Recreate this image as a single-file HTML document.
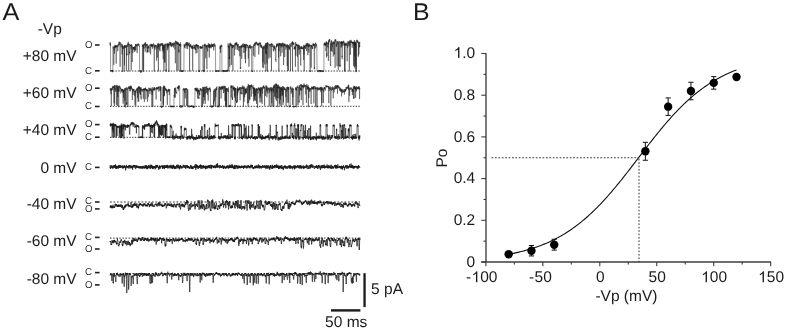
<!DOCTYPE html>
<html><head><meta charset="utf-8"><style>
html,body{margin:0;padding:0;background:#fff;overflow:hidden;}
svg{display:block;will-change:transform;font-family:"Liberation Sans", sans-serif;}
text{-webkit-font-smoothing:antialiased;text-rendering:geometricPrecision;}
</style></head><body>
<svg width="787" height="333" viewBox="0 0 787 333" font-family="Liberation Sans, sans-serif">
<rect width="787" height="333" fill="#fff"/>
<text transform="translate(2.45,19.8) scale(1.045,1)" font-size="24.2" fill="#1a1a1a">A</text>
<text transform="translate(37.70,33.50) scale(1.000,1.000)" font-size="15.5" text-anchor="start" fill="#1a1a1a">-Vp</text>
<text transform="translate(76.60,61.00) scale(1.000,1.000)" font-size="15.5" text-anchor="end" fill="#1a1a1a">+80 mV</text>
<text transform="translate(76.60,98.40) scale(1.000,1.000)" font-size="15.5" text-anchor="end" fill="#1a1a1a">+60 mV</text>
<text transform="translate(76.60,135.00) scale(1.000,1.000)" font-size="15.5" text-anchor="end" fill="#1a1a1a">+40 mV</text>
<text transform="translate(76.60,173.10) scale(1.000,1.000)" font-size="15.5" text-anchor="end" fill="#1a1a1a">0 mV</text>
<text transform="translate(76.60,209.30) scale(1.000,1.000)" font-size="15.5" text-anchor="end" fill="#1a1a1a">-40 mV</text>
<text transform="translate(76.60,246.40) scale(1.000,1.000)" font-size="15.5" text-anchor="end" fill="#1a1a1a">-60 mV</text>
<text transform="translate(76.60,283.70) scale(1.000,1.000)" font-size="15.5" text-anchor="end" fill="#1a1a1a">-80 mV</text>
<text transform="translate(85.0,47.78) scale(0.97,1)" font-size="10" fill="#333">O</text>
<rect x="95" y="44.20" width="4.6" height="1.6" fill="#222"/>
<text transform="translate(85.0,73.58) scale(0.97,1)" font-size="10" fill="#333">C</text>
<rect x="95" y="70.00" width="4.6" height="1.6" fill="#222"/>
<text transform="translate(85.0,90.98) scale(0.97,1)" font-size="10" fill="#333">O</text>
<rect x="95" y="87.40" width="4.6" height="1.6" fill="#222"/>
<text transform="translate(85.0,109.28) scale(0.97,1)" font-size="10" fill="#333">C</text>
<rect x="95" y="105.70" width="4.6" height="1.6" fill="#222"/>
<text transform="translate(85.0,127.38) scale(0.97,1)" font-size="10" fill="#333">O</text>
<rect x="95" y="123.80" width="4.6" height="1.6" fill="#222"/>
<text transform="translate(85.0,139.98) scale(0.97,1)" font-size="10" fill="#333">C</text>
<rect x="95" y="136.40" width="4.6" height="1.6" fill="#222"/>
<text transform="translate(85.0,170.18) scale(0.97,1)" font-size="10" fill="#333">C</text>
<rect x="95" y="166.60" width="4.6" height="1.6" fill="#222"/>
<text transform="translate(85.0,203.78) scale(0.97,1)" font-size="10" fill="#333">C</text>
<rect x="95" y="201.20" width="4.6" height="1.6" fill="#222"/>
<text transform="translate(85.0,211.68) scale(0.97,1)" font-size="10" fill="#333">O</text>
<rect x="95" y="208.10" width="4.6" height="1.6" fill="#222"/>
<text transform="translate(85.0,240.18) scale(0.97,1)" font-size="10" fill="#333">C</text>
<rect x="95" y="236.60" width="4.6" height="1.6" fill="#222"/>
<text transform="translate(85.0,251.78) scale(0.97,1)" font-size="10" fill="#333">O</text>
<rect x="95" y="248.20" width="4.6" height="1.6" fill="#222"/>
<text transform="translate(85.0,275.38) scale(0.97,1)" font-size="10" fill="#333">C</text>
<rect x="95" y="271.80" width="4.6" height="1.6" fill="#222"/>
<text transform="translate(85.0,287.68) scale(0.97,1)" font-size="10" fill="#333">O</text>
<rect x="95" y="284.10" width="4.6" height="1.6" fill="#222"/>
<line x1="110" y1="71.0" x2="360" y2="71.0" stroke="#333" stroke-width="1" stroke-dasharray="1.38,1.38"/>
<line x1="110" y1="106.3" x2="360" y2="106.3" stroke="#333" stroke-width="1" stroke-dasharray="1.38,1.38"/>
<line x1="110" y1="137.3" x2="360" y2="137.3" stroke="#333" stroke-width="1" stroke-dasharray="1.38,1.38"/>
<line x1="110" y1="202.0" x2="360" y2="202.0" stroke="#333" stroke-width="1" stroke-dasharray="1.75,1.75"/>
<line x1="110" y1="238.1" x2="360" y2="238.1" stroke="#333" stroke-width="1" stroke-dasharray="1.55,1.55"/>
<line x1="110" y1="273.5" x2="360" y2="273.5" stroke="#333" stroke-width="1" stroke-dasharray="1.60,1.60"/>
<path d="M110.0,42.9L110.1,44.4L110.2,42.2L110.3,46.2L110.4,45.4L110.5,43.8L110.6,70.7L110.7,71.3L110.8,71.0L110.9,71.0L111.0,70.7L111.1,70.2L111.2,70.5L111.3,70.3L111.4,70.2L111.5,71.2L111.6,70.7L111.7,70.4L111.8,71.2L111.9,71.4L112.0,70.2L112.1,71.3L112.2,70.3L112.3,72.3L112.4,71.2L112.5,70.0L112.6,71.6L112.7,70.5L112.8,71.2L112.9,47.0L113.0,46.4L113.1,47.1L113.2,47.3L113.3,47.7L113.4,48.6L113.5,46.8L113.6,48.1L113.7,47.8L113.8,64.9L113.9,48.9L114.0,49.0L114.1,49.8L114.2,46.0L114.3,46.0L114.4,46.2L114.5,53.6L114.6,46.7L114.7,45.4L114.8,44.8L114.9,46.4L115.0,47.7L115.1,47.2L115.2,46.8L115.3,46.3L115.4,46.8L115.5,47.4L115.6,45.3L115.7,47.3L115.8,45.5L115.9,48.2L116.0,46.3L116.1,45.7L116.2,63.6L116.3,46.1L116.4,47.0L116.5,46.9L116.6,45.5L116.7,45.9L116.8,46.2L116.9,46.4L117.0,47.2L117.1,45.1L117.2,45.5L117.3,46.4L117.4,46.3L117.5,45.5L117.6,50.7L117.7,51.2L117.8,50.4L117.9,50.5L118.0,44.7L118.1,44.3L118.2,44.6L118.3,43.9L118.4,44.5L118.5,44.3L118.6,46.5L118.7,45.8L118.8,44.9L118.9,45.1L119.0,41.9L119.1,43.9L119.2,45.0L119.3,41.7L119.4,42.5L119.5,42.6L119.6,42.6L119.7,43.5L119.8,44.3L119.9,42.4L120.0,42.6L120.1,66.8L120.2,44.5L120.3,44.7L120.4,44.5L120.5,43.6L120.6,43.7L120.7,42.6L120.8,42.9L120.9,43.0L121.0,47.2L121.1,47.1L121.2,47.1L121.3,46.9L121.4,47.0L121.5,47.1L121.6,43.9L121.7,44.3L121.8,44.8L121.9,45.0L122.0,45.9L122.1,54.4L122.2,52.2L122.3,44.5L122.4,72.0L122.5,45.8L122.6,45.3L122.7,45.2L122.8,46.0L122.9,46.2L123.0,48.8L123.1,47.2L123.2,49.1L123.3,46.9L123.4,47.3L123.5,47.0L123.6,46.3L123.7,46.9L123.8,47.3L123.9,46.7L124.0,46.9L124.1,71.5L124.2,47.1L124.3,46.3L124.4,45.4L124.5,65.3L124.6,45.7L124.7,47.5L124.8,46.1L124.9,46.5L125.0,45.5L125.1,47.1L125.2,45.7L125.3,47.3L125.4,45.1L125.5,45.3L125.6,47.1L125.7,47.9L125.8,45.5L125.9,45.4L126.0,46.7L126.1,46.1L126.2,47.4L126.3,47.8L126.4,70.7L126.5,45.3L126.6,45.8L126.7,46.1L126.8,55.5L126.9,53.6L127.0,54.8L127.1,45.2L127.2,45.6L127.3,44.7L127.4,45.1L127.5,43.6L127.6,44.7L127.7,47.1L127.8,45.0L127.9,44.6L128.0,44.7L128.1,43.9L128.2,41.7L128.3,41.8L128.4,43.6L128.5,44.4L128.6,43.6L128.7,71.5L128.8,43.6L128.9,45.1L129.0,45.1L129.1,43.9L129.2,44.8L129.3,53.2L129.4,54.5L129.5,51.6L129.6,52.0L129.7,52.9L129.8,49.8L129.9,44.7L130.0,44.9L130.1,44.6L130.2,45.7L130.3,45.3L130.4,45.5L130.5,46.2L130.6,45.0L130.7,45.6L130.8,46.0L130.9,44.8L131.0,49.3L131.1,45.5L131.2,70.4L131.3,46.4L131.4,44.3L131.5,44.1L131.6,45.8L131.7,45.8L131.8,46.9L131.9,45.3L132.0,47.8L132.1,62.0L132.2,61.7L132.3,62.0L132.4,48.6L132.5,46.8L132.6,48.1L132.7,48.3L132.8,52.8L132.9,52.9L133.0,47.5L133.1,47.5L133.2,46.9L133.3,49.0L133.4,47.6L133.5,48.1L133.6,47.3L133.7,47.0L133.8,49.9L133.9,47.2L134.0,48.6L134.1,47.6L134.2,49.8L134.3,48.9L134.4,47.5L134.5,48.3L134.6,46.4L134.7,52.0L134.8,48.9L134.9,46.5L135.0,50.6L135.1,49.3L135.2,49.9L135.3,46.6L135.4,46.2L135.5,45.2L135.6,44.2L135.7,44.9L135.8,50.3L135.9,44.0L136.0,46.0L136.1,46.4L136.2,44.9L136.3,45.4L136.4,46.1L136.5,45.7L136.6,45.5L136.7,45.1L136.8,46.1L136.9,43.9L137.0,51.8L137.1,53.1L137.2,51.6L137.3,51.2L137.4,45.4L137.5,45.0L137.6,44.2L137.7,45.2L137.8,44.2L137.9,43.9L138.0,44.0L138.1,43.4L138.2,44.7L138.3,44.6L138.4,45.6L138.5,43.9L138.6,45.5L138.7,44.8L138.8,45.0L138.9,44.5L139.0,44.9L139.1,44.6L139.2,45.0L139.3,46.7L139.4,46.5L139.5,45.9L139.6,71.3L139.7,70.8L139.8,71.3L139.9,71.6L140.0,70.8L140.1,71.3L140.2,70.4L140.3,71.1L140.4,71.5L140.5,71.5L140.6,72.8L140.7,70.8L140.8,71.1L140.9,71.1L141.0,70.7L141.1,71.0L141.2,70.4L141.3,70.9L141.4,72.5L141.5,70.7L141.6,71.5L141.7,71.7L141.8,71.8L141.9,71.4L142.0,71.2L142.1,71.5L142.2,71.5L142.3,70.3L142.4,44.5L142.5,45.7L142.6,46.6L142.7,44.8L142.8,46.9L142.9,47.7L143.0,70.2L143.1,45.9L143.2,45.8L143.3,47.0L143.4,45.0L143.5,44.6L143.6,71.8L143.7,44.4L143.8,44.5L143.9,45.7L144.0,48.5L144.1,44.2L144.2,45.0L144.3,45.4L144.4,43.6L144.5,43.6L144.6,44.1L144.7,45.1L144.8,43.4L144.9,43.5L145.0,44.0L145.1,44.6L145.2,51.7L145.3,42.0L145.4,44.0L145.5,43.5L145.6,45.7L145.7,45.3L145.8,48.1L145.9,46.9L146.0,43.6L146.1,44.7L146.2,45.3L146.3,45.5L146.4,44.4L146.5,45.3L146.6,45.4L146.7,45.8L146.8,44.1L146.9,44.1L147.0,52.8L147.1,52.8L147.2,45.3L147.3,44.0L147.4,52.1L147.5,51.1L147.6,50.4L147.7,50.0L147.8,51.7L147.9,46.5L148.0,46.9L148.1,47.9L148.2,49.0L148.3,45.5L148.4,46.9L148.5,48.2L148.6,46.9L148.7,47.8L148.8,46.5L148.9,47.1L149.0,47.2L149.1,52.5L149.2,48.7L149.3,48.6L149.4,46.8L149.5,45.8L149.6,46.1L149.7,45.6L149.8,45.5L149.9,44.7L150.0,45.5L150.1,45.6L150.2,45.4L150.3,44.7L150.4,44.8L150.5,54.4L150.6,54.2L150.7,54.1L150.8,45.3L150.9,44.6L151.0,45.6L151.1,43.9L151.2,46.6L151.3,43.9L151.4,45.2L151.5,46.7L151.6,45.9L151.7,45.8L151.8,44.6L151.9,46.5L152.0,45.4L152.1,46.0L152.2,45.1L152.3,45.6L152.4,48.8L152.5,44.4L152.6,46.6L152.7,44.6L152.8,45.5L152.9,45.0L153.0,44.7L153.1,44.9L153.2,45.3L153.3,45.6L153.4,43.4L153.5,45.2L153.6,45.4L153.7,46.4L153.8,46.2L153.9,47.4L154.0,46.7L154.1,47.0L154.2,71.3L154.3,71.6L154.4,44.5L154.5,46.6L154.6,46.8L154.7,46.4L154.8,46.0L154.9,47.7L155.0,45.5L155.1,49.5L155.2,46.9L155.3,45.1L155.4,44.9L155.5,45.6L155.6,46.3L155.7,45.4L155.8,45.1L155.9,45.7L156.0,45.4L156.1,44.9L156.2,46.0L156.3,46.6L156.4,45.6L156.5,47.0L156.6,59.6L156.7,60.7L156.8,46.3L156.9,46.6L157.0,45.9L157.1,48.5L157.2,56.0L157.3,57.6L157.4,45.5L157.5,43.9L157.6,44.9L157.7,47.4L157.8,48.5L157.9,47.8L158.0,47.9L158.1,42.9L158.2,44.7L158.3,44.7L158.4,71.4L158.5,44.2L158.6,47.1L158.7,45.1L158.8,46.0L158.9,43.3L159.0,44.3L159.1,45.4L159.2,45.3L159.3,49.8L159.4,46.5L159.5,45.3L159.6,44.7L159.7,44.0L159.8,44.8L159.9,45.3L160.0,51.4L160.1,44.3L160.2,44.1L160.3,44.5L160.4,46.3L160.5,44.4L160.6,45.5L160.7,43.8L160.8,43.6L160.9,43.2L161.0,44.0L161.1,43.7L161.2,44.8L161.3,45.1L161.4,44.7L161.5,44.8L161.6,43.7L161.7,44.7L161.8,44.8L161.9,45.6L162.0,44.4L162.1,43.0L162.2,45.6L162.3,44.8L162.4,51.1L162.5,43.5L162.6,45.2L162.7,44.2L162.8,44.8L162.9,43.8L163.0,49.3L163.1,45.1L163.2,59.3L163.3,45.6L163.4,45.8L163.5,44.8L163.6,45.6L163.7,52.5L163.8,45.3L163.9,71.1L164.0,70.6L164.1,46.3L164.2,48.1L164.3,45.0L164.4,62.4L164.5,61.9L164.6,61.5L164.7,45.4L164.8,43.8L164.9,61.2L165.0,62.1L165.1,62.6L165.2,62.0L165.3,61.7L165.4,43.7L165.5,44.8L165.6,45.3L165.7,44.0L165.8,70.7L165.9,71.0L166.0,71.1L166.1,70.7L166.2,69.5L166.3,70.7L166.4,71.6L166.5,71.8L166.6,45.6L166.7,44.1L166.8,43.8L166.9,45.6L167.0,46.4L167.1,46.1L167.2,42.9L167.3,50.4L167.4,47.8L167.5,48.1L167.6,47.0L167.7,44.0L167.8,47.2L167.9,44.9L168.0,43.6L168.1,48.6L168.2,46.2L168.3,43.4L168.4,44.6L168.5,45.6L168.6,45.2L168.7,45.3L168.8,43.7L168.9,71.9L169.0,44.1L169.1,45.8L169.2,43.9L169.3,43.6L169.4,42.2L169.5,41.9L169.6,43.2L169.7,44.5L169.8,44.6L169.9,44.5L170.0,43.5L170.1,44.6L170.2,44.7L170.3,42.1L170.4,45.6L170.5,44.3L170.6,43.3L170.7,45.5L170.8,42.8L170.9,41.9L171.0,45.6L171.1,47.1L171.2,46.8L171.3,47.1L171.4,46.4L171.5,45.3L171.6,45.6L171.7,44.9L171.8,44.1L171.9,46.1L172.0,43.0L172.1,46.5L172.2,44.0L172.3,45.4L172.4,42.9L172.5,44.0L172.6,44.2L172.7,44.3L172.8,44.6L172.9,44.1L173.0,44.0L173.1,43.7L173.2,43.4L173.3,45.1L173.4,44.2L173.5,47.5L173.6,44.1L173.7,44.5L173.8,43.1L173.9,42.5L174.0,42.6L174.1,45.6L174.2,42.8L174.3,43.5L174.4,43.8L174.5,42.6L174.6,43.3L174.7,43.3L174.8,43.8L174.9,49.4L175.0,44.4L175.1,43.6L175.2,45.0L175.3,63.3L175.4,62.0L175.5,40.8L175.6,41.6L175.7,40.9L175.8,43.6L175.9,42.3L176.0,41.9L176.1,41.5L176.2,42.2L176.3,44.0L176.4,42.7L176.5,44.2L176.6,42.5L176.7,42.9L176.8,70.5L176.9,42.7L177.0,41.4L177.1,43.5L177.2,43.1L177.3,42.2L177.4,44.7L177.5,43.2L177.6,44.4L177.7,43.0L177.8,43.4L177.9,42.5L178.0,70.0L178.1,70.9L178.2,42.4L178.3,43.0L178.4,44.3L178.5,43.5L178.6,51.3L178.7,51.6L178.8,51.0L178.9,50.0L179.0,52.6L179.1,44.8L179.2,44.7L179.3,44.0L179.4,45.3L179.5,43.9L179.6,45.7L179.7,44.4L179.8,45.6L179.9,43.9L180.0,43.9L180.1,71.8L180.2,44.3L180.3,42.3L180.4,45.4L180.5,44.7L180.6,46.9L180.7,44.6L180.8,44.1L180.9,71.6L181.0,70.7L181.1,70.2L181.2,71.2L181.3,71.6L181.4,70.6L181.5,70.4L181.6,70.7L181.7,70.9L181.8,71.8L181.9,70.5L182.0,71.2L182.1,71.2L182.2,70.8L182.3,71.9L182.4,71.3L182.5,70.7L182.6,70.9L182.7,71.0L182.8,71.8L182.9,70.8L183.0,71.4L183.1,71.2L183.2,70.5L183.3,71.2L183.4,70.5L183.5,70.8L183.6,70.9L183.7,71.3L183.8,70.9L183.9,70.8L184.0,49.5L184.1,44.3L184.2,45.4L184.3,44.5L184.4,47.1L184.5,45.9L184.6,45.0L184.7,48.0L184.8,46.5L184.9,45.3L185.0,44.8L185.1,45.7L185.2,45.1L185.3,44.6L185.4,43.1L185.5,44.3L185.6,45.0L185.7,45.5L185.8,44.8L185.9,44.4L186.0,44.6L186.1,48.7L186.2,45.7L186.3,42.1L186.4,42.4L186.5,45.2L186.6,42.8L186.7,42.0L186.8,43.4L186.9,44.3L187.0,43.4L187.1,43.2L187.2,46.2L187.3,42.9L187.4,42.3L187.5,45.5L187.6,48.3L187.7,49.1L187.8,45.2L187.9,42.5L188.0,43.1L188.1,44.8L188.2,44.1L188.3,44.7L188.4,44.5L188.5,46.2L188.6,43.7L188.7,43.3L188.8,44.9L188.9,45.1L189.0,44.3L189.1,44.2L189.2,42.6L189.3,43.2L189.4,44.1L189.5,44.6L189.6,71.5L189.7,44.9L189.8,45.0L189.9,47.1L190.0,45.2L190.1,46.8L190.2,44.7L190.3,45.7L190.4,44.8L190.5,44.8L190.6,45.3L190.7,46.3L190.8,45.4L190.9,44.3L191.0,46.5L191.1,47.5L191.2,46.2L191.3,45.8L191.4,45.8L191.5,48.5L191.6,48.1L191.7,47.3L191.8,46.2L191.9,47.8L192.0,46.5L192.1,48.7L192.2,47.7L192.3,48.2L192.4,47.5L192.5,45.3L192.6,47.6L192.7,70.7L192.8,47.6L192.9,49.1L193.0,49.1L193.1,46.7L193.2,46.6L193.3,47.9L193.4,47.8L193.5,47.5L193.6,47.9L193.7,48.2L193.8,48.4L193.9,44.6L194.0,45.5L194.1,46.2L194.2,45.5L194.3,47.3L194.4,48.3L194.5,45.7L194.6,47.3L194.7,47.3L194.8,48.4L194.9,46.8L195.0,47.2L195.1,49.8L195.2,48.7L195.3,47.9L195.4,49.6L195.5,44.9L195.6,44.9L195.7,47.4L195.8,52.6L195.9,53.6L196.0,51.8L196.1,43.9L196.2,46.2L196.3,45.1L196.4,44.5L196.5,46.1L196.6,45.3L196.7,45.5L196.8,46.4L196.9,44.5L197.0,52.8L197.1,44.9L197.2,46.0L197.3,46.5L197.4,47.5L197.5,46.7L197.6,44.9L197.7,44.8L197.8,46.7L197.9,45.1L198.0,45.3L198.1,45.7L198.2,48.9L198.3,45.1L198.4,46.4L198.5,47.0L198.6,47.4L198.7,71.6L198.8,70.5L198.9,70.3L199.0,71.1L199.1,70.8L199.2,71.5L199.3,70.7L199.4,71.7L199.5,71.9L199.6,70.4L199.7,70.5L199.8,71.1L199.9,46.4L200.0,47.7L200.1,46.2L200.2,48.0L200.3,47.9L200.4,48.5L200.5,46.3L200.6,48.3L200.7,46.9L200.8,46.8L200.9,48.1L201.0,46.6L201.1,48.6L201.2,48.0L201.3,48.3L201.4,47.6L201.5,48.0L201.6,47.1L201.7,46.8L201.8,46.8L201.9,48.3L202.0,47.0L202.1,48.6L202.2,48.0L202.3,46.2L202.4,47.0L202.5,47.5L202.6,45.4L202.7,44.8L202.8,47.2L202.9,70.9L203.0,70.2L203.1,71.0L203.2,70.6L203.3,70.8L203.4,70.7L203.5,71.9L203.6,72.0L203.7,70.4L203.8,72.1L203.9,71.5L204.0,46.6L204.1,44.6L204.2,69.8L204.3,71.2L204.4,44.9L204.5,45.2L204.6,45.8L204.7,43.7L204.8,46.5L204.9,45.7L205.0,45.1L205.1,45.4L205.2,44.1L205.3,45.7L205.4,45.6L205.5,44.9L205.6,45.8L205.7,58.0L205.8,58.4L205.9,45.0L206.0,47.2L206.1,46.3L206.2,46.0L206.3,48.6L206.4,48.7L206.5,47.2L206.6,45.3L206.7,45.9L206.8,45.7L206.9,69.2L207.0,46.2L207.1,45.2L207.2,45.7L207.3,44.9L207.4,45.5L207.5,49.8L207.6,49.4L207.7,51.4L207.8,49.8L207.9,46.7L208.0,46.2L208.1,45.5L208.2,46.7L208.3,43.2L208.4,44.9L208.5,47.5L208.6,45.8L208.7,45.4L208.8,46.6L208.9,44.4L209.0,43.8L209.1,44.6L209.2,56.5L209.3,57.5L209.4,45.7L209.5,45.7L209.6,47.8L209.7,44.0L209.8,47.7L209.9,44.2L210.0,45.4L210.1,47.6L210.2,46.5L210.3,44.9L210.4,46.7L210.5,46.6L210.6,46.5L210.7,45.6L210.8,47.1L210.9,47.0L211.0,47.3L211.1,47.0L211.2,48.4L211.3,47.0L211.4,43.4L211.5,45.6L211.6,46.5L211.7,45.0L211.8,46.9L211.9,44.4L212.0,45.1L212.1,45.4L212.2,45.3L212.3,46.9L212.4,45.3L212.5,45.6L212.6,44.1L212.7,46.3L212.8,45.6L212.9,46.7L213.0,44.2L213.1,45.5L213.2,45.9L213.3,44.9L213.4,44.8L213.5,44.1L213.6,50.2L213.7,50.4L213.8,49.9L213.9,49.8L214.0,45.4L214.1,45.4L214.2,43.1L214.3,46.9L214.4,45.7L214.5,45.7L214.6,44.2L214.7,44.6L214.8,45.0L214.9,45.2L215.0,44.8L215.1,45.9L215.2,46.0L215.3,46.0L215.4,46.1L215.5,45.7L215.6,71.7L215.7,70.7L215.8,70.7L215.9,70.7L216.0,71.5L216.1,71.2L216.2,70.5L216.3,71.0L216.4,70.4L216.5,71.6L216.6,71.1L216.7,71.5L216.8,70.3L216.9,71.0L217.0,71.9L217.1,70.7L217.2,70.9L217.3,70.7L217.4,70.6L217.5,71.1L217.6,70.9L217.7,70.6L217.8,70.6L217.9,71.3L218.0,71.7L218.1,71.2L218.2,71.2L218.3,70.7L218.4,70.8L218.5,70.6L218.6,71.0L218.7,71.0L218.8,71.6L218.9,71.7L219.0,70.8L219.1,71.4L219.2,70.9L219.3,70.4L219.4,70.7L219.5,71.2L219.6,71.1L219.7,71.3L219.8,70.6L219.9,70.9L220.0,46.4L220.1,49.0L220.2,48.8L220.3,45.4L220.4,48.4L220.5,47.1L220.6,52.9L220.7,46.6L220.8,46.7L220.9,45.8L221.0,46.5L221.1,47.2L221.2,44.6L221.3,45.2L221.4,45.3L221.5,45.1L221.6,45.2L221.7,46.6L221.8,45.0L221.9,63.8L222.0,70.5L222.1,71.6L222.2,71.1L222.3,71.1L222.4,71.4L222.5,70.7L222.6,70.7L222.7,70.8L222.8,70.4L222.9,70.9L223.0,70.0L223.1,71.7L223.2,71.9L223.3,71.4L223.4,71.1L223.5,70.0L223.6,72.1L223.7,71.3L223.8,70.6L223.9,70.6L224.0,71.1L224.1,70.6L224.2,71.2L224.3,71.5L224.4,70.4L224.5,70.2L224.6,70.7L224.7,71.5L224.8,71.1L224.9,71.1L225.0,70.9L225.1,71.6L225.2,70.5L225.3,71.7L225.4,70.6L225.5,70.8L225.6,71.2L225.7,71.7L225.8,71.1L225.9,70.3L226.0,71.0L226.1,70.2L226.2,71.4L226.3,71.1L226.4,71.0L226.5,71.3L226.6,70.4L226.7,70.0L226.8,70.8L226.9,70.8L227.0,70.0L227.1,71.1L227.2,71.5L227.3,71.8L227.4,71.3L227.5,71.0L227.6,69.6L227.7,69.8L227.8,71.5L227.9,71.7L228.0,43.4L228.1,43.3L228.2,46.3L228.3,47.2L228.4,46.0L228.5,48.3L228.6,45.5L228.7,70.9L228.8,71.0L228.9,69.6L229.0,45.4L229.1,58.9L229.2,58.0L229.3,58.6L229.4,59.0L229.5,56.7L229.6,58.3L229.7,43.9L229.8,66.7L229.9,66.2L230.0,45.0L230.1,42.7L230.2,44.9L230.3,43.3L230.4,43.9L230.5,44.5L230.6,45.4L230.7,44.1L230.8,46.5L230.9,46.3L231.0,44.4L231.1,45.4L231.2,44.7L231.3,43.7L231.4,65.0L231.5,46.7L231.6,45.7L231.7,45.4L231.8,45.9L231.9,44.7L232.0,45.7L232.1,46.7L232.2,47.8L232.3,46.7L232.4,45.7L232.5,44.9L232.6,48.2L232.7,45.6L232.8,45.9L232.9,70.8L233.0,46.0L233.1,45.9L233.2,46.3L233.3,47.1L233.4,46.8L233.5,45.3L233.6,45.0L233.7,46.2L233.8,47.3L233.9,46.2L234.0,45.7L234.1,46.0L234.2,44.8L234.3,45.8L234.4,55.5L234.5,46.7L234.6,45.2L234.7,44.5L234.8,44.6L234.9,43.6L235.0,44.6L235.1,43.1L235.2,45.0L235.3,45.2L235.4,44.2L235.5,45.3L235.6,45.1L235.7,42.9L235.8,44.3L235.9,49.4L236.0,49.6L236.1,42.3L236.2,44.7L236.3,43.1L236.4,43.8L236.5,44.8L236.6,43.4L236.7,44.2L236.8,44.3L236.9,42.3L237.0,43.0L237.1,44.4L237.2,45.2L237.3,44.2L237.4,46.1L237.5,46.0L237.6,50.0L237.7,44.7L237.8,46.8L237.9,44.5L238.0,46.4L238.1,44.0L238.2,46.5L238.3,46.9L238.4,46.9L238.5,48.1L238.6,47.5L238.7,48.1L238.8,50.4L238.9,49.8L239.0,51.2L239.1,47.2L239.2,47.4L239.3,47.4L239.4,46.2L239.5,47.3L239.6,46.5L239.7,46.2L239.8,56.2L239.9,56.1L240.0,46.4L240.1,48.2L240.2,48.7L240.3,68.8L240.4,67.5L240.5,67.9L240.6,67.7L240.7,68.8L240.8,46.0L240.9,47.7L241.0,47.6L241.1,45.4L241.2,48.2L241.3,47.4L241.4,45.2L241.5,46.4L241.6,47.7L241.7,58.8L241.8,57.8L241.9,45.7L242.0,46.2L242.1,47.0L242.2,47.1L242.3,45.5L242.4,43.8L242.5,44.9L242.6,45.0L242.7,46.0L242.8,47.1L242.9,45.1L243.0,47.4L243.1,46.2L243.2,46.5L243.3,43.4L243.4,45.3L243.5,46.4L243.6,45.2L243.7,52.4L243.8,51.9L243.9,51.4L244.0,51.4L244.1,52.9L244.2,51.4L244.3,44.0L244.4,45.9L244.5,45.1L244.6,44.9L244.7,48.2L244.8,43.7L244.9,46.5L245.0,45.7L245.1,59.0L245.2,57.0L245.3,44.1L245.4,61.6L245.5,60.9L245.6,63.3L245.7,45.2L245.8,51.1L245.9,44.9L246.0,45.4L246.1,44.4L246.2,45.1L246.3,44.6L246.4,45.0L246.5,44.4L246.6,44.7L246.7,45.7L246.8,45.0L246.9,48.2L247.0,44.9L247.1,44.8L247.2,45.4L247.3,45.3L247.4,46.0L247.5,45.6L247.6,45.5L247.7,44.8L247.8,47.4L247.9,46.5L248.0,46.7L248.1,47.8L248.2,48.5L248.3,58.4L248.4,47.7L248.5,48.4L248.6,46.5L248.7,47.9L248.8,47.5L248.9,66.6L249.0,66.7L249.1,47.1L249.2,45.5L249.3,47.7L249.4,47.1L249.5,46.5L249.6,45.1L249.7,46.8L249.8,45.7L249.9,47.8L250.0,46.1L250.1,46.6L250.2,44.6L250.3,47.4L250.4,47.3L250.5,48.6L250.6,48.9L250.7,46.8L250.8,46.3L250.9,47.1L251.0,48.1L251.1,47.0L251.2,47.5L251.3,46.6L251.4,46.4L251.5,46.0L251.6,70.1L251.7,71.3L251.8,71.5L251.9,71.4L252.0,70.9L252.1,70.3L252.2,71.1L252.3,71.5L252.4,71.0L252.5,71.7L252.6,71.0L252.7,71.5L252.8,70.6L252.9,46.4L253.0,46.7L253.1,47.7L253.2,45.8L253.3,55.7L253.4,47.4L253.5,46.1L253.6,45.6L253.7,45.1L253.8,45.1L253.9,45.6L254.0,44.3L254.1,45.9L254.2,44.3L254.3,44.8L254.4,43.6L254.5,43.8L254.6,43.9L254.7,43.2L254.8,43.2L254.9,56.9L255.0,42.6L255.1,44.2L255.2,45.7L255.3,44.2L255.4,43.4L255.5,44.0L255.6,44.0L255.7,43.7L255.8,43.8L255.9,41.7L256.0,44.6L256.1,41.9L256.2,41.8L256.3,41.9L256.4,42.2L256.5,42.6L256.6,43.0L256.7,44.2L256.8,42.2L256.9,43.1L257.0,43.1L257.1,43.1L257.2,43.6L257.3,45.1L257.4,43.3L257.5,44.2L257.6,44.4L257.7,45.7L257.8,44.8L257.9,44.0L258.0,44.9L258.1,45.0L258.2,44.2L258.3,44.5L258.4,45.4L258.5,43.0L258.6,44.1L258.7,45.5L258.8,54.5L258.9,44.3L259.0,44.3L259.1,45.0L259.2,44.6L259.3,42.3L259.4,44.4L259.5,43.3L259.6,43.5L259.7,43.4L259.8,42.7L259.9,44.1L260.0,44.0L260.1,43.1L260.2,47.3L260.3,45.6L260.4,43.1L260.5,43.2L260.6,42.7L260.7,45.7L260.8,45.0L260.9,44.5L261.0,46.3L261.1,45.5L261.2,47.5L261.3,45.3L261.4,46.7L261.5,45.8L261.6,47.2L261.7,45.7L261.8,48.3L261.9,47.2L262.0,47.2L262.1,47.6L262.2,47.7L262.3,47.0L262.4,46.9L262.5,47.2L262.6,67.5L262.7,47.7L262.8,48.3L262.9,61.9L263.0,48.4L263.1,47.3L263.2,48.5L263.3,45.8L263.4,46.8L263.5,47.9L263.6,48.4L263.7,68.2L263.8,47.7L263.9,48.9L264.0,47.6L264.1,46.0L264.2,48.2L264.3,47.6L264.4,46.9L264.5,47.2L264.6,47.0L264.7,64.4L264.8,64.2L264.9,45.5L265.0,46.2L265.1,44.8L265.2,45.5L265.3,46.9L265.4,45.2L265.5,53.7L265.6,43.6L265.7,43.1L265.8,71.3L265.9,70.6L266.0,70.9L266.1,70.4L266.2,44.0L266.3,52.6L266.4,54.5L266.5,45.1L266.6,43.3L266.7,44.0L266.8,62.4L266.9,63.4L267.0,42.7L267.1,48.6L267.2,42.5L267.3,70.6L267.4,70.4L267.5,71.8L267.6,44.1L267.7,42.4L267.8,44.0L267.9,44.8L268.0,43.0L268.1,43.0L268.2,43.0L268.3,43.9L268.4,44.1L268.5,44.0L268.6,56.6L268.7,57.7L268.8,58.7L268.9,57.2L269.0,46.0L269.1,45.5L269.2,45.4L269.3,45.0L269.4,43.9L269.5,45.5L269.6,44.4L269.7,44.4L269.8,45.8L269.9,45.6L270.0,54.7L270.1,57.5L270.2,45.5L270.3,44.8L270.4,44.8L270.5,45.1L270.6,44.2L270.7,45.4L270.8,46.9L270.9,46.4L271.0,45.4L271.1,44.1L271.2,44.6L271.3,43.2L271.4,70.7L271.5,70.9L271.6,45.3L271.7,44.1L271.8,44.6L271.9,43.4L272.0,43.8L272.1,45.3L272.2,45.0L272.3,46.6L272.4,46.7L272.5,46.2L272.6,46.8L272.7,45.9L272.8,44.1L272.9,45.5L273.0,45.7L273.1,47.1L273.2,50.0L273.3,49.8L273.4,49.0L273.5,51.4L273.6,51.4L273.7,46.2L273.8,47.3L273.9,48.0L274.0,46.0L274.1,45.6L274.2,47.8L274.3,45.6L274.4,47.2L274.5,48.7L274.6,47.5L274.7,49.1L274.8,47.3L274.9,48.3L275.0,48.3L275.1,50.7L275.2,49.1L275.3,48.3L275.4,59.6L275.5,60.1L275.6,59.6L275.7,59.3L275.8,59.5L275.9,60.0L276.0,61.8L276.1,46.0L276.2,47.7L276.3,46.0L276.4,46.6L276.5,44.3L276.6,46.5L276.7,46.1L276.8,46.8L276.9,43.4L277.0,45.7L277.1,44.5L277.2,46.4L277.3,44.1L277.4,43.8L277.5,44.6L277.6,44.7L277.7,44.6L277.8,44.7L277.9,43.9L278.0,46.3L278.1,44.5L278.2,43.3L278.3,44.5L278.4,44.3L278.5,46.2L278.6,57.5L278.7,45.1L278.8,70.7L278.9,71.4L279.0,44.0L279.1,51.1L279.2,45.2L279.3,43.0L279.4,45.0L279.5,44.1L279.6,42.9L279.7,45.4L279.8,44.4L279.9,44.9L280.0,43.3L280.1,45.2L280.2,44.6L280.3,43.2L280.4,45.7L280.5,45.2L280.6,44.9L280.7,56.3L280.8,44.3L280.9,45.0L281.0,44.6L281.1,47.7L281.2,46.0L281.3,43.2L281.4,46.2L281.5,45.3L281.6,44.1L281.7,45.9L281.8,44.2L281.9,44.6L282.0,52.8L282.1,52.0L282.2,50.8L282.3,43.2L282.4,44.1L282.5,42.7L282.6,42.7L282.7,45.5L282.8,44.3L282.9,46.5L283.0,46.1L283.1,47.2L283.2,44.5L283.3,42.9L283.4,43.3L283.5,44.4L283.6,65.0L283.7,45.6L283.8,45.9L283.9,44.6L284.0,44.9L284.1,45.7L284.2,43.7L284.3,44.1L284.4,46.0L284.5,44.1L284.6,45.4L284.7,57.1L284.8,43.5L284.9,45.0L285.0,45.6L285.1,46.3L285.2,46.2L285.3,45.2L285.4,44.9L285.5,44.9L285.6,44.2L285.7,44.4L285.8,44.5L285.9,49.7L286.0,45.4L286.1,45.3L286.2,46.6L286.3,44.8L286.4,46.1L286.5,46.5L286.6,46.1L286.7,46.2L286.8,47.3L286.9,47.7L287.0,45.7L287.1,48.4L287.2,66.1L287.3,44.1L287.4,46.1L287.5,45.3L287.6,47.1L287.7,48.3L287.8,70.7L287.9,46.0L288.0,45.2L288.1,46.7L288.2,70.0L288.3,70.3L288.4,70.4L288.5,70.7L288.6,45.9L288.7,47.8L288.8,45.1L288.9,45.6L289.0,46.0L289.1,45.5L289.2,47.7L289.3,49.2L289.4,46.7L289.5,49.8L289.6,44.6L289.7,44.8L289.8,44.0L289.9,43.6L290.0,44.1L290.1,45.0L290.2,45.4L290.3,45.3L290.4,44.8L290.5,70.8L290.6,46.0L290.7,44.2L290.8,43.8L290.9,43.6L291.0,43.3L291.1,43.8L291.2,43.7L291.3,43.7L291.4,46.7L291.5,45.6L291.6,43.3L291.7,42.4L291.8,43.3L291.9,43.8L292.0,44.0L292.1,43.3L292.2,41.7L292.3,41.5L292.4,42.9L292.5,71.0L292.6,41.5L292.7,41.8L292.8,43.7L292.9,42.6L293.0,43.2L293.1,43.6L293.2,44.8L293.3,42.7L293.4,43.4L293.5,43.4L293.6,43.0L293.7,42.8L293.8,44.7L293.9,42.8L294.0,43.5L294.1,47.6L294.2,49.0L294.3,48.0L294.4,49.6L294.5,48.9L294.6,46.9L294.7,48.4L294.8,47.3L294.9,48.1L295.0,47.7L295.1,48.8L295.2,47.0L295.3,45.9L295.4,66.8L295.5,45.2L295.6,42.1L295.7,44.1L295.8,53.3L295.9,55.7L296.0,46.1L296.1,45.2L296.2,45.2L296.3,43.7L296.4,45.3L296.5,44.4L296.6,46.3L296.7,44.4L296.8,45.7L296.9,45.6L297.0,45.7L297.1,45.6L297.2,45.6L297.3,44.9L297.4,46.8L297.5,56.9L297.6,45.4L297.7,45.2L297.8,44.4L297.9,45.7L298.0,45.8L298.1,70.7L298.2,44.5L298.3,45.7L298.4,46.2L298.5,46.7L298.6,49.6L298.7,45.4L298.8,47.5L298.9,47.5L299.0,45.4L299.1,46.0L299.2,45.0L299.3,54.6L299.4,53.6L299.5,53.3L299.6,47.1L299.7,46.3L299.8,49.0L299.9,48.1L300.0,48.8L300.1,46.5L300.2,47.0L300.3,48.3L300.4,48.5L300.5,47.6L300.6,64.0L300.7,64.3L300.8,65.6L300.9,47.6L301.0,47.2L301.1,48.0L301.2,46.4L301.3,47.0L301.4,47.5L301.5,48.8L301.6,46.4L301.7,48.7L301.8,47.5L301.9,49.0L302.0,48.8L302.1,48.8L302.2,48.4L302.3,48.5L302.4,48.3L302.5,49.3L302.6,49.3L302.7,47.9L302.8,46.7L302.9,49.0L303.0,48.0L303.1,47.3L303.2,47.4L303.3,48.2L303.4,47.9L303.5,48.6L303.6,47.5L303.7,60.0L303.8,44.9L303.9,46.3L304.0,54.7L304.1,45.6L304.2,71.1L304.3,46.2L304.4,46.7L304.5,46.1L304.6,45.6L304.7,47.4L304.8,45.7L304.9,47.3L305.0,47.6L305.1,47.2L305.2,46.7L305.3,48.1L305.4,47.3L305.5,48.9L305.6,45.4L305.7,45.4L305.8,46.0L305.9,45.0L306.0,46.1L306.1,43.5L306.2,43.5L306.3,46.6L306.4,44.7L306.5,45.6L306.6,51.1L306.7,43.5L306.8,45.2L306.9,45.1L307.0,44.5L307.1,43.5L307.2,44.6L307.3,45.4L307.4,42.9L307.5,43.5L307.6,43.3L307.7,44.5L307.8,55.2L307.9,43.8L308.0,45.4L308.1,46.8L308.2,44.9L308.3,46.8L308.4,45.0L308.5,44.4L308.6,47.1L308.7,45.9L308.8,52.5L308.9,44.1L309.0,43.3L309.1,45.5L309.2,46.8L309.3,46.8L309.4,45.3L309.5,44.5L309.6,46.0L309.7,45.1L309.8,45.2L309.9,70.5L310.0,71.4L310.1,70.5L310.2,71.5L310.3,71.5L310.4,70.9L310.5,71.7L310.6,71.7L310.7,45.6L310.8,44.8L310.9,45.7L311.0,44.9L311.1,67.3L311.2,67.6L311.3,45.2L311.4,46.2L311.5,47.4L311.6,45.5L311.7,46.1L311.8,46.6L311.9,47.0L312.0,45.6L312.1,47.2L312.2,48.9L312.3,46.7L312.4,47.8L312.5,48.3L312.6,49.1L312.7,47.7L312.8,47.5L312.9,44.2L313.0,43.6L313.1,46.2L313.2,44.0L313.3,44.5L313.4,43.4L313.5,44.7L313.6,45.0L313.7,44.6L313.8,45.8L313.9,44.7L314.0,45.8L314.1,43.8L314.2,68.2L314.3,69.3L314.4,67.2L314.5,67.8L314.6,68.9L314.7,44.1L314.8,44.5L314.9,48.7L315.0,45.8L315.1,45.2L315.2,45.0L315.3,43.4L315.4,43.8L315.5,42.9L315.6,43.1L315.7,42.7L315.8,47.7L315.9,43.5L316.0,44.4L316.1,45.6L316.2,45.7L316.3,45.0L316.4,45.5L316.5,44.4L316.6,44.6L316.7,45.9L316.8,46.9L316.9,47.1L317.0,70.9L317.1,71.0L317.2,71.2L317.3,71.2L317.4,71.3L317.5,71.5L317.6,71.6L317.7,71.3L317.8,70.9L317.9,70.5L318.0,70.2L318.1,71.5L318.2,71.3L318.3,71.0L318.4,70.5L318.5,71.1L318.6,71.7L318.7,71.7L318.8,72.2L318.9,71.5L319.0,71.5L319.1,71.7L319.2,70.2L319.3,71.4L319.4,70.7L319.5,71.2L319.6,70.2L319.7,70.5L319.8,70.5L319.9,70.7L320.0,71.4L320.1,70.5L320.2,71.4L320.3,71.5L320.4,70.4L320.5,71.5L320.6,71.9L320.7,70.7L320.8,71.3L320.9,71.7L321.0,70.7L321.1,70.7L321.2,70.9L321.3,70.9L321.4,70.5L321.5,70.8L321.6,70.5L321.7,71.3L321.8,72.2L321.9,71.5L322.0,70.3L322.1,71.6L322.2,70.5L322.3,71.3L322.4,70.9L322.5,71.7L322.6,71.0L322.7,71.1L322.8,71.0L322.9,70.9L323.0,71.2L323.1,71.9L323.2,71.8L323.3,71.4L323.4,71.1L323.5,71.0L323.6,71.7L323.7,70.6L323.8,70.5L323.9,70.7L324.0,43.6L324.1,43.6L324.2,45.5L324.3,43.3L324.4,44.3L324.5,44.9L324.6,45.1L324.7,44.1L324.8,42.4L324.9,43.9L325.0,44.5L325.1,44.7L325.2,42.7L325.3,45.4L325.4,43.6L325.5,43.7L325.6,46.0L325.7,45.7L325.8,43.5L325.9,51.2L326.0,49.3L326.1,42.8L326.2,42.7L326.3,41.6L326.4,44.8L326.5,41.7L326.6,57.5L326.7,53.8L326.8,52.7L326.9,54.8L327.0,56.0L327.1,42.1L327.2,44.1L327.3,44.0L327.4,43.2L327.5,44.0L327.6,46.9L327.7,47.0L327.8,46.8L327.9,46.4L328.0,47.3L328.1,47.6L328.2,42.4L328.3,41.9L328.4,60.9L328.5,42.2L328.6,44.5L328.7,40.2L328.8,42.5L328.9,42.1L329.0,40.4L329.1,41.9L329.2,41.6L329.3,39.1L329.4,40.0L329.5,41.3L329.6,41.5L329.7,41.8L329.8,39.1L329.9,40.4L330.0,41.9L330.1,42.1L330.2,42.5L330.3,64.2L330.4,65.7L330.5,64.6L330.6,65.1L330.7,65.6L330.8,42.4L330.9,51.1L331.0,49.3L331.1,44.1L331.2,50.6L331.3,43.5L331.4,42.4L331.5,40.2L331.6,44.0L331.7,43.9L331.8,45.0L331.9,41.7L332.0,41.3L332.1,51.5L332.2,51.0L332.3,51.5L332.4,45.2L332.5,46.6L332.6,43.9L332.7,44.4L332.8,42.1L332.9,43.1L333.0,43.9L333.1,42.8L333.2,44.6L333.3,56.5L333.4,45.0L333.5,41.6L333.6,44.0L333.7,42.9L333.8,42.6L333.9,44.1L334.0,43.4L334.1,42.1L334.2,41.5L334.3,53.8L334.4,52.7L334.5,54.5L334.6,42.0L334.7,41.6L334.8,41.1L334.9,39.8L335.0,40.2L335.1,67.8L335.2,40.2L335.3,39.1L335.4,40.8L335.5,41.5L335.6,40.5L335.7,40.3L335.8,39.6L335.9,41.0L336.0,41.4L336.1,41.7L336.2,46.6L336.3,46.3L336.4,43.8L336.5,46.0L336.6,46.5L336.7,46.6L336.8,42.2L336.9,40.9L337.0,65.4L337.1,66.1L337.2,43.4L337.3,43.3L337.4,42.9L337.5,41.7L337.6,43.5L337.7,43.6L337.8,43.2L337.9,43.6L338.0,42.6L338.1,42.0L338.2,40.9L338.3,70.2L338.4,43.3L338.5,42.0L338.6,42.8L338.7,63.4L338.8,66.0L338.9,66.1L339.0,64.1L339.1,64.1L339.2,63.7L339.3,43.5L339.4,41.1L339.5,41.4L339.6,41.7L339.7,66.0L339.8,65.1L339.9,66.9L340.0,66.8L340.1,66.1L340.2,65.4L340.3,66.2L340.4,66.3L340.5,44.1L340.6,41.7L340.7,43.4L340.8,42.8L340.9,43.2L341.0,42.3L341.1,42.0L341.2,47.7L341.3,41.2L341.4,46.3L341.5,41.7L341.6,43.8L341.7,42.4L341.8,42.4L341.9,41.5L342.0,57.0L342.1,55.8L342.2,59.3L342.3,58.7L342.4,41.7L342.5,43.6L342.6,41.9L342.7,42.5L342.8,46.2L342.9,43.5L343.0,43.4L343.1,42.7L343.2,41.0L343.3,40.9L343.4,43.0L343.5,42.6L343.6,42.9L343.7,40.8L343.8,41.1L343.9,42.7L344.0,44.7L344.1,42.1L344.2,43.7L344.3,45.2L344.4,43.2L344.5,70.5L344.6,71.4L344.7,44.6L344.8,43.7L344.9,43.5L345.0,71.5L345.1,44.6L345.2,46.1L345.3,43.4L345.4,43.4L345.5,45.2L345.6,44.0L345.7,43.7L345.8,44.4L345.9,44.3L346.0,43.5L346.1,43.4L346.2,42.7L346.3,45.5L346.4,43.5L346.5,44.7L346.6,44.0L346.7,43.9L346.8,44.1L346.9,45.8L347.0,44.9L347.1,60.4L347.2,61.3L347.3,45.8L347.4,44.3L347.5,43.9L347.6,48.0L347.7,42.8L347.8,43.8L347.9,41.3L348.0,43.4L348.1,43.2L348.2,42.8L348.3,43.6L348.4,41.9L348.5,42.8L348.6,42.8L348.7,42.7L348.8,46.3L348.9,42.9L349.0,41.0L349.1,40.9L349.2,41.2L349.3,71.3L349.4,40.5L349.5,42.2L349.6,41.8L349.7,45.0L349.8,44.5L349.9,44.9L350.0,45.4L350.1,42.8L350.2,43.1L350.3,53.9L350.4,54.8L350.5,42.3L350.6,39.8L350.7,41.0L350.8,42.8L350.9,41.3L351.0,42.8L351.1,43.0L351.2,43.0L351.3,40.4L351.4,41.7L351.5,43.0L351.6,41.4L351.7,42.2L351.8,42.0L351.9,43.0L352.0,43.7L352.1,45.4L352.2,47.8L352.3,42.4L352.4,42.8L352.5,42.2L352.6,44.0L352.7,43.3L352.8,42.6L352.9,41.8L353.0,43.2L353.1,41.8L353.2,44.0L353.3,41.8L353.4,44.7L353.5,43.8L353.6,65.9L353.7,45.2L353.8,44.8L353.9,42.3L354.0,42.2L354.1,46.1L354.2,42.6L354.3,67.0L354.4,40.0L354.5,42.7L354.6,43.5L354.7,56.4L354.8,41.8L354.9,68.4L355.0,44.7L355.1,42.2L355.2,43.6L355.3,43.8L355.4,42.8L355.5,47.5L355.6,43.1L355.7,66.1L355.8,43.1L355.9,41.4L356.0,72.1L356.1,43.0L356.2,72.0L356.3,70.5L356.4,41.7L356.5,41.0L356.6,40.7L356.7,39.7L356.8,40.4L356.9,41.4L357.0,41.7L357.1,42.4L357.2,39.9L357.3,41.2L357.4,40.6L357.5,42.8L357.6,41.5L357.7,41.2L357.8,40.9L357.9,42.5L358.0,42.6L358.1,41.6L358.2,42.6L358.3,56.7L358.4,53.9L358.5,55.1L358.6,54.3L358.7,42.8L358.8,54.0L358.9,43.7L359.0,42.2L359.1,44.2L359.2,42.7L359.3,41.9L359.4,46.0L359.5,47.3L359.6,45.3L359.7,46.8L359.8,41.9L359.9,42.6" fill="none" stroke="#1a1a1a" stroke-width="0.45" stroke-linejoin="round"/>
<path d="M110.0,88.4L110.1,88.8L110.2,89.7L110.3,89.1L110.4,89.3L110.5,89.3L110.6,88.8L110.7,88.6L110.8,91.0L110.9,88.2L111.0,94.4L111.1,88.8L111.2,89.6L111.3,106.0L111.4,88.9L111.5,89.9L111.6,88.0L111.7,87.9L111.8,88.2L111.9,87.9L112.0,88.4L112.1,88.8L112.2,89.6L112.3,89.8L112.4,89.2L112.5,86.8L112.6,88.3L112.7,88.1L112.8,87.3L112.9,90.3L113.0,86.0L113.1,87.6L113.2,86.1L113.3,87.5L113.4,87.7L113.5,87.1L113.6,87.5L113.7,87.2L113.8,87.4L113.9,103.4L114.0,103.3L114.1,103.3L114.2,86.2L114.3,85.0L114.4,106.0L114.5,86.4L114.6,88.2L114.7,86.5L114.8,86.3L114.9,84.9L115.0,86.7L115.1,86.6L115.2,85.9L115.3,86.1L115.4,90.2L115.5,88.7L115.6,88.3L115.7,92.0L115.8,90.1L115.9,90.2L116.0,85.4L116.1,86.9L116.2,87.9L116.3,102.9L116.4,104.8L116.5,87.8L116.6,85.0L116.7,87.3L116.8,87.1L116.9,87.3L117.0,86.2L117.1,87.7L117.2,90.7L117.3,85.3L117.4,106.0L117.5,86.6L117.6,89.1L117.7,96.0L117.8,97.0L117.9,96.3L118.0,89.0L118.1,87.5L118.2,91.0L118.3,92.1L118.4,88.1L118.5,86.3L118.6,87.0L118.7,107.3L118.8,85.9L118.9,87.5L119.0,88.0L119.1,88.8L119.2,91.6L119.3,85.5L119.4,86.4L119.5,86.2L119.6,86.6L119.7,86.7L119.8,87.7L119.9,87.9L120.0,86.5L120.1,88.4L120.2,87.5L120.3,87.6L120.4,89.0L120.5,88.6L120.6,88.9L120.7,89.4L120.8,93.5L120.9,88.3L121.0,88.9L121.1,89.0L121.2,90.2L121.3,90.1L121.4,88.9L121.5,90.7L121.6,91.3L121.7,92.0L121.8,90.3L121.9,89.2L122.0,90.7L122.1,89.1L122.2,88.9L122.3,90.1L122.4,90.3L122.5,89.2L122.6,90.2L122.7,92.9L122.8,90.3L122.9,90.7L123.0,89.3L123.1,103.6L123.2,90.2L123.3,91.0L123.4,90.2L123.5,97.6L123.6,90.7L123.7,92.0L123.8,91.1L123.9,90.4L124.0,91.1L124.1,89.6L124.2,106.6L124.3,106.8L124.4,106.4L124.5,105.4L124.6,105.6L124.7,88.0L124.8,100.5L124.9,89.7L125.0,89.4L125.1,90.6L125.2,88.7L125.3,88.5L125.4,88.6L125.5,88.8L125.6,107.5L125.7,88.7L125.8,89.6L125.9,87.9L126.0,89.9L126.1,89.4L126.2,88.6L126.3,87.2L126.4,88.3L126.5,104.8L126.6,102.8L126.7,103.5L126.8,102.7L126.9,104.5L127.0,103.9L127.1,88.9L127.2,89.2L127.3,88.6L127.4,89.5L127.5,88.4L127.6,88.5L127.7,88.1L127.8,106.5L127.9,106.3L128.0,107.1L128.1,87.3L128.2,88.2L128.3,87.8L128.4,86.6L128.5,87.3L128.6,87.4L128.7,88.2L128.8,89.0L128.9,87.7L129.0,87.6L129.1,88.5L129.2,86.4L129.3,87.1L129.4,89.3L129.5,89.2L129.6,86.3L129.7,90.8L129.8,91.2L129.9,90.5L130.0,90.1L130.1,89.6L130.2,86.6L130.3,91.3L130.4,85.6L130.5,86.1L130.6,88.8L130.7,87.3L130.8,88.7L130.9,87.9L131.0,85.8L131.1,88.4L131.2,87.3L131.3,87.9L131.4,88.0L131.5,86.5L131.6,86.4L131.7,89.2L131.8,88.4L131.9,88.7L132.0,89.7L132.1,88.2L132.2,89.7L132.3,100.0L132.4,96.2L132.5,91.5L132.6,89.4L132.7,89.6L132.8,90.9L132.9,89.3L133.0,90.1L133.1,95.0L133.2,89.7L133.3,91.5L133.4,89.3L133.5,88.9L133.6,90.0L133.7,90.5L133.8,89.7L133.9,90.3L134.0,89.0L134.1,89.8L134.2,89.7L134.3,90.8L134.4,91.4L134.5,91.8L134.6,91.3L134.7,96.1L134.8,90.9L134.9,91.0L135.0,104.8L135.1,92.1L135.2,91.4L135.3,92.9L135.4,90.8L135.5,90.9L135.6,90.4L135.7,106.0L135.8,105.9L135.9,90.3L136.0,89.8L136.1,89.8L136.2,90.1L136.3,89.8L136.4,89.4L136.5,90.7L136.6,90.9L136.7,88.3L136.8,89.6L136.9,89.4L137.0,89.8L137.1,93.1L137.2,92.9L137.3,90.3L137.4,88.8L137.5,97.9L137.6,88.5L137.7,89.4L137.8,87.6L137.9,89.6L138.0,100.7L138.1,101.9L138.2,87.2L138.3,88.3L138.4,87.5L138.5,88.5L138.6,87.2L138.7,101.4L138.8,86.4L138.9,87.4L139.0,87.5L139.1,86.3L139.2,88.9L139.3,87.0L139.4,87.7L139.5,92.7L139.6,86.9L139.7,87.8L139.8,87.0L139.9,87.8L140.0,88.4L140.1,88.1L140.2,94.3L140.3,88.0L140.4,95.0L140.5,87.8L140.6,87.5L140.7,87.3L140.8,87.4L140.9,97.4L141.0,96.8L141.1,99.5L141.2,88.9L141.3,87.6L141.4,88.2L141.5,90.3L141.6,89.8L141.7,89.5L141.8,89.8L141.9,90.9L142.0,89.2L142.1,91.5L142.2,91.1L142.3,91.2L142.4,90.0L142.5,89.4L142.6,89.3L142.7,89.1L142.8,89.7L142.9,89.2L143.0,89.2L143.1,91.4L143.2,91.0L143.3,98.7L143.4,88.9L143.5,90.2L143.6,89.1L143.7,90.4L143.8,89.8L143.9,88.6L144.0,89.5L144.1,88.5L144.2,88.1L144.3,102.0L144.4,101.5L144.5,90.4L144.6,88.9L144.7,90.8L144.8,90.3L144.9,88.5L145.0,89.8L145.1,88.3L145.2,89.6L145.3,90.2L145.4,88.1L145.5,87.5L145.6,90.0L145.7,89.0L145.8,88.5L145.9,99.3L146.0,90.7L146.1,90.5L146.2,91.1L146.3,89.6L146.4,89.5L146.5,89.7L146.6,91.2L146.7,89.2L146.8,91.2L146.9,91.3L147.0,89.1L147.1,89.2L147.2,89.8L147.3,90.7L147.4,89.5L147.5,101.4L147.6,101.8L147.7,92.1L147.8,90.6L147.9,91.3L148.0,91.2L148.1,90.5L148.2,96.3L148.3,97.2L148.4,96.5L148.5,96.2L148.6,91.0L148.7,90.0L148.8,87.7L148.9,89.3L149.0,90.3L149.1,91.3L149.2,89.5L149.3,88.7L149.4,88.1L149.5,88.7L149.6,89.3L149.7,90.6L149.8,89.4L149.9,94.1L150.0,94.2L150.1,87.8L150.2,90.1L150.3,90.5L150.4,89.4L150.5,89.6L150.6,88.5L150.7,89.5L150.8,89.0L150.9,89.4L151.0,90.0L151.1,90.2L151.2,90.0L151.3,89.7L151.4,91.5L151.5,91.1L151.6,89.6L151.7,89.5L151.8,88.4L151.9,106.8L152.0,89.5L152.1,95.0L152.2,87.3L152.3,87.0L152.4,88.2L152.5,90.7L152.6,105.1L152.7,106.1L152.8,107.0L152.9,107.0L153.0,105.8L153.1,89.0L153.2,89.4L153.3,89.7L153.4,89.9L153.5,89.8L153.6,87.6L153.7,89.8L153.8,88.7L153.9,91.2L154.0,90.4L154.1,88.8L154.2,88.7L154.3,87.5L154.4,90.2L154.5,87.1L154.6,89.2L154.7,89.8L154.8,89.0L154.9,88.4L155.0,88.8L155.1,88.5L155.2,88.1L155.3,89.0L155.4,89.0L155.5,89.0L155.6,89.0L155.7,89.2L155.8,89.3L155.9,88.9L156.0,88.8L156.1,99.5L156.2,88.2L156.3,87.6L156.4,87.3L156.5,89.5L156.6,87.6L156.7,87.1L156.8,87.3L156.9,88.5L157.0,89.0L157.1,87.9L157.2,87.7L157.3,88.0L157.4,88.6L157.5,89.8L157.6,89.4L157.7,87.6L157.8,87.3L157.9,87.4L158.0,88.9L158.1,86.8L158.2,88.6L158.3,87.8L158.4,87.5L158.5,87.9L158.6,86.8L158.7,86.8L158.8,91.7L158.9,87.4L159.0,86.5L159.1,87.4L159.2,86.7L159.3,87.2L159.4,87.0L159.5,89.0L159.6,89.1L159.7,89.8L159.8,90.0L159.9,90.8L160.0,88.3L160.1,88.1L160.2,86.6L160.3,86.9L160.4,90.6L160.5,89.3L160.6,86.0L160.7,101.1L160.8,88.6L160.9,87.6L161.0,87.0L161.1,87.1L161.2,106.7L161.3,107.5L161.4,106.9L161.5,105.8L161.6,107.5L161.7,107.2L161.8,106.2L161.9,106.3L162.0,107.5L162.1,107.0L162.2,107.1L162.3,106.0L162.4,106.3L162.5,106.0L162.6,106.2L162.7,106.2L162.8,106.8L162.9,106.9L163.0,87.3L163.1,87.5L163.2,104.5L163.3,86.4L163.4,87.1L163.5,105.5L163.6,87.6L163.7,87.0L163.8,88.2L163.9,86.9L164.0,85.4L164.1,96.4L164.2,86.8L164.3,87.6L164.4,86.3L164.5,95.5L164.6,89.9L164.7,88.7L164.8,87.2L164.9,86.5L165.0,88.1L165.1,88.2L165.2,89.2L165.3,90.0L165.4,90.3L165.5,88.0L165.6,90.1L165.7,90.2L165.8,90.0L165.9,88.5L166.0,89.4L166.1,90.9L166.2,89.3L166.3,91.1L166.4,89.4L166.5,92.4L166.6,93.4L166.7,92.2L166.8,92.0L166.9,90.4L167.0,90.9L167.1,90.7L167.2,90.1L167.3,104.9L167.4,91.1L167.5,91.1L167.6,90.8L167.7,90.5L167.8,90.1L167.9,89.7L168.0,89.7L168.1,90.8L168.2,92.1L168.3,89.5L168.4,89.7L168.5,91.3L168.6,90.6L168.7,88.8L168.8,89.5L168.9,90.5L169.0,89.1L169.1,91.2L169.2,90.3L169.3,95.0L169.4,90.9L169.5,89.8L169.6,89.9L169.7,89.8L169.8,89.5L169.9,89.2L170.0,105.5L170.1,107.1L170.2,106.6L170.3,106.1L170.4,106.5L170.5,106.8L170.6,106.7L170.7,106.7L170.8,105.7L170.9,106.2L171.0,107.3L171.1,106.9L171.2,106.7L171.3,105.8L171.4,106.5L171.5,107.0L171.6,106.7L171.7,106.3L171.8,106.6L171.9,106.8L172.0,106.1L172.1,106.0L172.2,107.2L172.3,106.2L172.4,106.7L172.5,105.6L172.6,107.1L172.7,106.2L172.8,106.3L172.9,106.5L173.0,106.2L173.1,106.9L173.2,107.0L173.3,106.3L173.4,106.7L173.5,106.4L173.6,107.3L173.7,106.5L173.8,107.2L173.9,106.6L174.0,95.2L174.1,96.5L174.2,95.4L174.3,89.8L174.4,89.6L174.5,88.9L174.6,87.9L174.7,97.4L174.8,88.3L174.9,90.2L175.0,88.7L175.1,97.8L175.2,97.9L175.3,96.2L175.4,87.5L175.5,88.3L175.6,90.0L175.7,92.1L175.8,92.0L175.9,91.8L176.0,92.9L176.1,92.4L176.2,91.8L176.3,91.7L176.4,92.2L176.5,92.0L176.6,92.8L176.7,93.7L176.8,92.1L176.9,89.8L177.0,89.3L177.1,88.2L177.2,87.5L177.3,86.8L177.4,87.7L177.5,87.2L177.6,87.2L177.7,88.5L177.8,88.5L177.9,87.2L178.0,87.0L178.1,88.6L178.2,87.3L178.3,87.7L178.4,85.4L178.5,89.0L178.6,86.0L178.7,87.9L178.8,90.9L178.9,86.9L179.0,88.0L179.1,88.2L179.2,87.3L179.3,86.4L179.4,86.6L179.5,85.5L179.6,87.1L179.7,88.0L179.8,105.9L179.9,106.7L180.0,106.6L180.1,106.6L180.2,106.8L180.3,107.7L180.4,105.7L180.5,106.0L180.6,105.3L180.7,106.3L180.8,106.3L180.9,105.5L181.0,106.8L181.1,106.2L181.2,107.4L181.3,106.3L181.4,106.6L181.5,106.4L181.6,105.8L181.7,107.2L181.8,106.9L181.9,105.8L182.0,106.2L182.1,107.4L182.2,105.7L182.3,105.8L182.4,106.0L182.5,106.0L182.6,106.0L182.7,106.7L182.8,106.3L182.9,105.9L183.0,90.3L183.1,89.0L183.2,90.2L183.3,90.1L183.4,88.7L183.5,88.3L183.6,88.9L183.7,88.8L183.8,89.5L183.9,90.6L184.0,88.4L184.1,88.9L184.2,106.4L184.3,90.8L184.4,89.3L184.5,89.8L184.6,89.2L184.7,90.6L184.8,93.0L184.9,88.4L185.0,89.4L185.1,89.5L185.2,88.8L185.3,98.4L185.4,89.3L185.5,88.9L185.6,89.0L185.7,90.0L185.8,90.2L185.9,88.1L186.0,89.6L186.1,88.3L186.2,89.0L186.3,88.7L186.4,88.6L186.5,90.1L186.6,105.7L186.7,89.8L186.8,89.3L186.9,88.8L187.0,89.1L187.1,88.9L187.2,89.2L187.3,89.0L187.4,89.6L187.5,89.5L187.6,106.1L187.7,90.3L187.8,89.5L187.9,90.9L188.0,107.3L188.1,107.1L188.2,106.2L188.3,106.2L188.4,106.2L188.5,106.2L188.6,106.1L188.7,105.8L188.8,105.4L188.9,106.4L189.0,106.7L189.1,107.4L189.2,107.1L189.3,105.9L189.4,106.4L189.5,106.7L189.6,106.2L189.7,105.6L189.8,106.6L189.9,106.5L190.0,106.6L190.1,106.6L190.2,106.0L190.3,106.7L190.4,106.7L190.5,106.4L190.6,106.0L190.7,106.0L190.8,106.7L190.9,106.6L191.0,105.8L191.1,106.5L191.2,106.7L191.3,105.5L191.4,106.6L191.5,106.5L191.6,105.4L191.7,106.6L191.8,106.4L191.9,106.4L192.0,105.9L192.1,106.3L192.2,106.7L192.3,106.6L192.4,105.7L192.5,106.6L192.6,106.3L192.7,107.1L192.8,107.4L192.9,105.6L193.0,107.1L193.1,106.9L193.2,107.0L193.3,107.2L193.4,106.0L193.5,107.7L193.6,107.9L193.7,105.9L193.8,107.4L193.9,106.8L194.0,107.4L194.1,107.1L194.2,106.6L194.3,106.7L194.4,106.4L194.5,106.4L194.6,106.4L194.7,106.4L194.8,107.3L194.9,107.1L195.0,88.8L195.1,88.1L195.2,89.8L195.3,88.0L195.4,89.3L195.5,89.7L195.6,89.7L195.7,87.9L195.8,89.1L195.9,90.3L196.0,87.8L196.1,91.6L196.2,89.1L196.3,89.3L196.4,90.6L196.5,89.7L196.6,90.8L196.7,87.8L196.8,89.7L196.9,88.8L197.0,90.7L197.1,89.7L197.2,89.4L197.3,90.8L197.4,93.9L197.5,90.5L197.6,98.5L197.7,89.3L197.8,87.9L197.9,91.0L198.0,90.9L198.1,89.9L198.2,89.8L198.3,90.2L198.4,91.8L198.5,89.6L198.6,98.6L198.7,96.9L198.8,97.2L198.9,98.8L199.0,90.1L199.1,93.1L199.2,90.3L199.3,90.9L199.4,94.6L199.5,95.4L199.6,93.2L199.7,93.8L199.8,94.7L199.9,92.1L200.0,89.8L200.1,88.5L200.2,89.4L200.3,88.4L200.4,88.8L200.5,89.0L200.6,90.6L200.7,89.1L200.8,89.3L200.9,88.3L201.0,88.9L201.1,91.0L201.2,89.3L201.3,89.4L201.4,106.4L201.5,106.5L201.6,107.2L201.7,106.3L201.8,105.7L201.9,105.7L202.0,90.1L202.1,89.1L202.2,89.2L202.3,89.9L202.4,106.7L202.5,106.8L202.6,106.2L202.7,106.0L202.8,87.1L202.9,88.2L203.0,91.3L203.1,86.8L203.2,87.3L203.3,103.7L203.4,88.2L203.5,88.2L203.6,87.3L203.7,97.0L203.8,89.3L203.9,89.3L204.0,89.6L204.1,97.1L204.2,87.5L204.3,88.9L204.4,89.5L204.5,89.4L204.6,89.3L204.7,100.4L204.8,86.7L204.9,87.3L205.0,86.8L205.1,88.0L205.2,104.0L205.3,88.0L205.4,87.0L205.5,88.1L205.6,88.1L205.7,93.8L205.8,92.4L205.9,92.8L206.0,92.1L206.1,88.0L206.2,87.3L206.3,87.0L206.4,87.3L206.5,87.9L206.6,88.4L206.7,92.8L206.8,86.0L206.9,88.3L207.0,89.1L207.1,89.0L207.2,88.3L207.3,90.3L207.4,88.3L207.5,94.8L207.6,88.8L207.7,89.8L207.8,90.1L207.9,89.1L208.0,88.3L208.1,99.6L208.2,100.7L208.3,100.5L208.4,89.7L208.5,90.1L208.6,90.8L208.7,89.9L208.8,89.7L208.9,88.8L209.0,89.3L209.1,87.8L209.2,89.6L209.3,87.8L209.4,88.9L209.5,89.9L209.6,88.8L209.7,88.2L209.8,88.5L209.9,89.3L210.0,88.2L210.1,87.6L210.2,92.1L210.3,90.2L210.4,89.2L210.5,106.4L210.6,106.1L210.7,106.7L210.8,106.4L210.9,106.6L211.0,106.8L211.1,106.3L211.2,106.1L211.3,106.8L211.4,107.4L211.5,106.8L211.6,106.2L211.7,105.5L211.8,106.9L211.9,107.7L212.0,106.4L212.1,106.5L212.2,105.5L212.3,106.3L212.4,106.3L212.5,106.4L212.6,107.2L212.7,106.1L212.8,105.8L212.9,106.8L213.0,106.3L213.1,106.1L213.2,106.3L213.3,106.2L213.4,106.4L213.5,100.6L213.6,103.7L213.7,90.8L213.8,106.6L213.9,90.0L214.0,89.6L214.1,89.8L214.2,89.9L214.3,90.7L214.4,90.8L214.5,101.2L214.6,100.6L214.7,88.8L214.8,89.1L214.9,91.5L215.0,90.6L215.1,91.2L215.2,90.5L215.3,91.1L215.4,105.9L215.5,90.5L215.6,88.3L215.7,90.2L215.8,97.3L215.9,95.3L216.0,89.8L216.1,90.5L216.2,89.1L216.3,90.0L216.4,88.6L216.5,87.5L216.6,89.8L216.7,89.2L216.8,88.7L216.9,86.5L217.0,87.1L217.1,106.7L217.2,106.9L217.3,106.2L217.4,106.3L217.5,106.2L217.6,106.9L217.7,107.3L217.8,106.8L217.9,106.5L218.0,105.5L218.1,107.1L218.2,107.2L218.3,107.3L218.4,106.6L218.5,106.0L218.6,106.8L218.7,106.8L218.8,106.4L218.9,86.5L219.0,87.5L219.1,106.8L219.2,88.4L219.3,106.6L219.4,89.1L219.5,87.8L219.6,86.7L219.7,88.1L219.8,86.8L219.9,88.2L220.0,88.2L220.1,87.2L220.2,88.3L220.3,89.1L220.4,89.0L220.5,89.9L220.6,87.4L220.7,88.8L220.8,87.7L220.9,87.4L221.0,88.7L221.1,98.6L221.2,89.2L221.3,86.1L221.4,88.2L221.5,86.9L221.6,88.0L221.7,87.7L221.8,89.9L221.9,88.3L222.0,89.2L222.1,86.5L222.2,88.6L222.3,88.4L222.4,88.0L222.5,89.2L222.6,86.5L222.7,88.6L222.8,87.3L222.9,86.8L223.0,88.1L223.1,86.1L223.2,85.8L223.3,85.9L223.4,92.9L223.5,92.4L223.6,92.3L223.7,93.1L223.8,86.2L223.9,85.8L224.0,90.3L224.1,91.7L224.2,91.0L224.3,90.1L224.4,87.1L224.5,86.6L224.6,87.4L224.7,85.9L224.8,88.0L224.9,100.8L225.0,87.1L225.1,85.9L225.2,87.6L225.3,88.6L225.4,87.4L225.5,87.8L225.6,89.0L225.7,106.5L225.8,88.8L225.9,107.0L226.0,88.3L226.1,88.6L226.2,105.1L226.3,88.5L226.4,89.4L226.5,87.9L226.6,90.8L226.7,107.3L226.8,106.1L226.9,89.6L227.0,89.9L227.1,88.1L227.2,89.3L227.3,89.4L227.4,90.6L227.5,90.2L227.6,88.7L227.7,89.4L227.8,91.5L227.9,91.9L228.0,91.4L228.1,91.5L228.2,90.8L228.3,91.0L228.4,92.1L228.5,87.4L228.6,106.6L228.7,105.9L228.8,106.5L228.9,106.8L229.0,107.2L229.1,105.5L229.2,105.0L229.3,106.9L229.4,106.2L229.5,105.6L229.6,106.1L229.7,105.5L229.8,106.2L229.9,106.2L230.0,106.5L230.1,106.9L230.2,105.5L230.3,105.3L230.4,106.3L230.5,106.2L230.6,107.0L230.7,106.3L230.8,85.6L230.9,85.9L231.0,87.9L231.1,86.3L231.2,86.7L231.3,97.5L231.4,86.9L231.5,85.3L231.6,87.0L231.7,88.0L231.8,87.6L231.9,87.9L232.0,87.3L232.1,86.5L232.2,85.7L232.3,100.0L232.4,97.1L232.5,99.5L232.6,98.2L232.7,87.3L232.8,86.6L232.9,87.0L233.0,85.6L233.1,88.8L233.2,88.2L233.3,89.5L233.4,89.0L233.5,87.6L233.6,88.6L233.7,87.4L233.8,90.8L233.9,90.1L234.0,87.5L234.1,89.0L234.2,89.5L234.3,86.8L234.4,97.6L234.5,87.5L234.6,88.6L234.7,89.1L234.8,87.9L234.9,96.1L235.0,89.7L235.1,88.9L235.2,106.5L235.3,89.1L235.4,88.1L235.5,100.9L235.6,88.0L235.7,90.2L235.8,88.8L235.9,88.7L236.0,88.5L236.1,89.7L236.2,89.4L236.3,90.0L236.4,90.1L236.5,90.3L236.6,102.5L236.7,100.5L236.8,103.2L236.9,101.9L237.0,101.9L237.1,101.6L237.2,89.8L237.3,88.4L237.4,101.9L237.5,86.4L237.6,95.4L237.7,89.8L237.8,89.0L237.9,92.8L238.0,89.9L238.1,90.1L238.2,89.1L238.3,90.4L238.4,89.4L238.5,89.2L238.6,90.4L238.7,87.8L238.8,89.8L238.9,90.1L239.0,88.3L239.1,90.3L239.2,89.1L239.3,89.2L239.4,87.5L239.5,89.3L239.6,88.6L239.7,87.7L239.8,87.9L239.9,88.2L240.0,87.1L240.1,100.4L240.2,88.2L240.3,87.9L240.4,87.2L240.5,87.0L240.6,91.2L240.7,92.4L240.8,93.9L240.9,93.2L241.0,92.3L241.1,93.6L241.2,88.7L241.3,88.2L241.4,89.0L241.5,87.8L241.6,87.4L241.7,89.1L241.8,88.7L241.9,87.3L242.0,94.5L242.1,93.2L242.2,93.7L242.3,85.4L242.4,86.5L242.5,88.7L242.6,88.0L242.7,87.0L242.8,88.1L242.9,86.8L243.0,88.1L243.1,88.0L243.2,88.5L243.3,88.4L243.4,105.7L243.5,106.6L243.6,88.1L243.7,89.1L243.8,85.9L243.9,87.2L244.0,101.0L244.1,101.6L244.2,88.6L244.3,86.9L244.4,89.8L244.5,96.7L244.6,97.2L244.7,97.0L244.8,91.1L244.9,88.8L245.0,89.4L245.1,88.7L245.2,89.0L245.3,94.7L245.4,89.0L245.5,90.5L245.6,90.4L245.7,90.2L245.8,93.0L245.9,87.9L246.0,93.7L246.1,89.0L246.2,91.4L246.3,91.1L246.4,92.9L246.5,92.5L246.6,89.9L246.7,90.2L246.8,88.6L246.9,89.4L247.0,88.9L247.1,86.9L247.2,86.4L247.3,88.2L247.4,102.6L247.5,103.5L247.6,103.3L247.7,89.6L247.8,89.0L247.9,89.5L248.0,86.1L248.1,106.6L248.2,83.9L248.3,85.3L248.4,85.2L248.5,86.6L248.6,85.5L248.7,84.7L248.8,102.9L248.9,86.7L249.0,86.5L249.1,85.5L249.2,86.3L249.3,86.4L249.4,87.2L249.5,85.0L249.6,98.9L249.7,86.1L249.8,100.2L249.9,86.9L250.0,86.5L250.1,90.2L250.2,87.3L250.3,85.9L250.4,85.7L250.5,85.1L250.6,87.3L250.7,86.2L250.8,86.8L250.9,86.9L251.0,85.1L251.1,86.4L251.2,85.4L251.3,96.6L251.4,84.3L251.5,86.1L251.6,86.5L251.7,85.6L251.8,85.6L251.9,85.6L252.0,87.0L252.1,87.6L252.2,87.1L252.3,86.8L252.4,88.4L252.5,88.5L252.6,88.7L252.7,88.2L252.8,87.9L252.9,87.6L253.0,84.9L253.1,91.1L253.2,93.8L253.3,92.7L253.4,88.2L253.5,87.8L253.6,101.4L253.7,87.0L253.8,89.1L253.9,89.9L254.0,87.6L254.1,88.3L254.2,96.9L254.3,87.9L254.4,88.3L254.5,99.4L254.6,99.7L254.7,89.1L254.8,87.9L254.9,100.8L255.0,88.7L255.1,90.0L255.2,90.7L255.3,91.0L255.4,95.7L255.5,96.0L255.6,95.5L255.7,90.7L255.8,100.8L255.9,90.0L256.0,89.1L256.1,89.9L256.2,91.8L256.3,89.8L256.4,88.1L256.5,103.9L256.6,89.0L256.7,88.7L256.8,89.4L256.9,88.9L257.0,90.1L257.1,88.6L257.2,90.0L257.3,89.3L257.4,107.4L257.5,106.3L257.6,106.6L257.7,107.6L257.8,88.9L257.9,89.2L258.0,88.6L258.1,93.5L258.2,89.4L258.3,88.7L258.4,87.6L258.5,89.3L258.6,88.7L258.7,88.9L258.8,87.4L258.9,89.3L259.0,89.2L259.1,89.3L259.2,89.4L259.3,88.9L259.4,90.2L259.5,88.0L259.6,90.6L259.7,89.9L259.8,88.2L259.9,102.4L260.0,89.4L260.1,98.0L260.2,87.4L260.3,87.4L260.4,96.2L260.5,88.8L260.6,88.6L260.7,92.3L260.8,90.1L260.9,88.2L261.0,87.0L261.1,87.7L261.2,102.3L261.3,87.7L261.4,89.4L261.5,88.4L261.6,89.1L261.7,88.8L261.8,89.1L261.9,89.0L262.0,89.0L262.1,104.1L262.2,87.4L262.3,88.3L262.4,93.1L262.5,93.5L262.6,93.1L262.7,93.5L262.8,86.3L262.9,89.0L263.0,87.2L263.1,88.1L263.2,87.3L263.3,86.8L263.4,85.9L263.5,86.9L263.6,87.1L263.7,85.8L263.8,85.3L263.9,88.4L264.0,87.6L264.1,86.8L264.2,88.2L264.3,87.5L264.4,87.3L264.5,89.6L264.6,105.7L264.7,87.5L264.8,87.6L264.9,87.4L265.0,86.9L265.1,87.5L265.2,88.3L265.3,89.4L265.4,94.4L265.5,95.9L265.6,87.6L265.7,87.7L265.8,87.0L265.9,85.8L266.0,86.6L266.1,86.8L266.2,85.2L266.3,88.4L266.4,87.9L266.5,87.7L266.6,91.1L266.7,86.4L266.8,88.5L266.9,97.3L267.0,88.1L267.1,92.2L267.2,87.9L267.3,87.5L267.4,86.7L267.5,88.0L267.6,89.7L267.7,89.4L267.8,90.9L267.9,93.6L268.0,92.6L268.1,88.7L268.2,88.8L268.3,88.1L268.4,89.8L268.5,88.3L268.6,88.5L268.7,88.5L268.8,87.9L268.9,87.5L269.0,88.2L269.1,89.7L269.2,106.4L269.3,91.2L269.4,87.8L269.5,90.8L269.6,89.3L269.7,90.6L269.8,92.7L269.9,92.6L270.0,89.7L270.1,89.2L270.2,88.7L270.3,89.0L270.4,89.5L270.5,87.8L270.6,88.8L270.7,88.9L270.8,87.4L270.9,90.4L271.0,89.4L271.1,106.7L271.2,86.9L271.3,89.1L271.4,91.5L271.5,89.3L271.6,88.2L271.7,103.3L271.8,102.9L271.9,89.2L272.0,89.1L272.1,89.9L272.2,89.4L272.3,89.7L272.4,88.8L272.5,88.7L272.6,89.4L272.7,87.5L272.8,106.6L272.9,106.2L273.0,87.7L273.1,91.1L273.2,92.6L273.3,89.6L273.4,91.3L273.5,85.7L273.6,85.9L273.7,87.7L273.8,106.4L273.9,86.6L274.0,87.6L274.1,85.6L274.2,85.2L274.3,87.9L274.4,84.3L274.5,86.3L274.6,96.5L274.7,95.5L274.8,86.7L274.9,85.2L275.0,85.5L275.1,86.2L275.2,86.0L275.3,97.1L275.4,97.2L275.5,97.4L275.6,83.6L275.7,85.5L275.8,99.3L275.9,86.1L276.0,84.5L276.1,83.8L276.2,86.2L276.3,84.2L276.4,84.7L276.5,83.7L276.6,85.8L276.7,101.1L276.8,85.0L276.9,92.4L277.0,87.0L277.1,98.2L277.2,85.3L277.3,84.5L277.4,86.3L277.5,87.0L277.6,88.7L277.7,107.1L277.8,85.2L277.9,85.1L278.0,87.9L278.1,86.9L278.2,86.1L278.3,88.2L278.4,87.3L278.5,84.9L278.6,84.7L278.7,88.5L278.8,98.3L278.9,97.2L279.0,87.0L279.1,88.7L279.2,86.9L279.3,88.6L279.4,103.8L279.5,87.3L279.6,87.6L279.7,86.8L279.8,86.2L279.9,105.7L280.0,104.2L280.1,104.2L280.2,103.9L280.3,87.2L280.4,88.0L280.5,99.8L280.6,88.5L280.7,88.5L280.8,87.9L280.9,89.0L281.0,96.0L281.1,87.4L281.2,106.6L281.3,88.7L281.4,89.8L281.5,86.9L281.6,88.3L281.7,87.5L281.8,87.7L281.9,90.9L282.0,91.2L282.1,88.6L282.2,88.0L282.3,95.3L282.4,95.5L282.5,88.3L282.6,86.1L282.7,95.2L282.8,89.0L282.9,104.4L283.0,105.0L283.1,87.3L283.2,88.4L283.3,86.4L283.4,88.4L283.5,102.5L283.6,89.3L283.7,89.1L283.8,88.8L283.9,87.9L284.0,87.4L284.1,89.1L284.2,88.3L284.3,89.1L284.4,89.3L284.5,90.2L284.6,87.5L284.7,87.3L284.8,88.8L284.9,90.0L285.0,88.7L285.1,90.0L285.2,89.6L285.3,89.3L285.4,88.7L285.5,88.8L285.6,90.1L285.7,97.0L285.8,96.0L285.9,89.4L286.0,90.6L286.1,106.6L286.2,88.5L286.3,88.2L286.4,87.3L286.5,87.2L286.6,87.8L286.7,91.3L286.8,91.7L286.9,91.8L287.0,91.4L287.1,89.4L287.2,102.7L287.3,87.6L287.4,88.8L287.5,88.3L287.6,86.9L287.7,89.7L287.8,88.2L287.9,86.6L288.0,86.9L288.1,88.5L288.2,87.0L288.3,88.9L288.4,102.7L288.5,87.9L288.6,90.1L288.7,87.1L288.8,87.4L288.9,105.8L289.0,106.3L289.1,107.0L289.2,106.2L289.3,106.8L289.4,107.3L289.5,106.8L289.6,106.0L289.7,106.4L289.8,106.4L289.9,106.5L290.0,106.4L290.1,105.2L290.2,106.8L290.3,86.8L290.4,89.0L290.5,88.7L290.6,88.0L290.7,88.1L290.8,86.4L290.9,87.6L291.0,87.7L291.1,93.4L291.2,93.7L291.3,93.4L291.4,88.9L291.5,89.9L291.6,90.1L291.7,88.5L291.8,88.3L291.9,89.7L292.0,92.1L292.1,88.7L292.2,88.4L292.3,87.4L292.4,88.4L292.5,104.8L292.6,104.9L292.7,104.7L292.8,89.8L292.9,97.2L293.0,89.9L293.1,88.4L293.2,90.0L293.3,88.6L293.4,107.4L293.5,106.8L293.6,106.8L293.7,106.6L293.8,106.3L293.9,107.2L294.0,106.6L294.1,106.1L294.2,106.5L294.3,107.3L294.4,106.7L294.5,106.4L294.6,106.2L294.7,107.0L294.8,106.7L294.9,106.5L295.0,106.1L295.1,106.6L295.2,106.8L295.3,106.4L295.4,88.7L295.5,89.3L295.6,87.5L295.7,88.3L295.8,89.6L295.9,89.1L296.0,87.2L296.1,87.4L296.2,87.5L296.3,90.7L296.4,88.1L296.5,89.7L296.6,88.6L296.7,107.4L296.8,106.7L296.9,87.4L297.0,86.2L297.1,86.4L297.2,87.5L297.3,88.0L297.4,87.7L297.5,87.2L297.6,87.4L297.7,87.1L297.8,85.6L297.9,87.5L298.0,104.5L298.1,105.0L298.2,87.2L298.3,87.4L298.4,87.8L298.5,87.1L298.6,87.5L298.7,87.9L298.8,101.3L298.9,102.4L299.0,102.6L299.1,102.7L299.2,101.2L299.3,102.0L299.4,85.3L299.5,87.3L299.6,87.1L299.7,95.4L299.8,85.6L299.9,86.1L300.0,86.9L300.1,90.9L300.2,89.4L300.3,88.0L300.4,89.8L300.5,89.7L300.6,88.0L300.7,86.3L300.8,84.7L300.9,85.8L301.0,84.4L301.1,86.1L301.2,84.1L301.3,100.1L301.4,99.7L301.5,86.3L301.6,85.6L301.7,90.1L301.8,90.6L301.9,89.4L302.0,89.1L302.1,86.1L302.2,87.1L302.3,85.6L302.4,86.9L302.5,85.1L302.6,86.0L302.7,86.2L302.8,85.2L302.9,105.2L303.0,104.5L303.1,100.6L303.2,87.1L303.3,86.0L303.4,86.0L303.5,87.6L303.6,84.9L303.7,85.3L303.8,88.4L303.9,86.0L304.0,83.4L304.1,85.6L304.2,86.2L304.3,86.0L304.4,85.3L304.5,87.1L304.6,87.1L304.7,84.6L304.8,85.4L304.9,85.5L305.0,85.4L305.1,85.9L305.2,85.5L305.3,86.1L305.4,85.0L305.5,85.9L305.6,86.2L305.7,94.3L305.8,85.9L305.9,85.5L306.0,86.5L306.1,86.1L306.2,85.6L306.3,87.2L306.4,102.8L306.5,86.8L306.6,87.0L306.7,84.8L306.8,83.9L306.9,84.9L307.0,86.6L307.1,86.5L307.2,87.5L307.3,88.2L307.4,87.3L307.5,86.3L307.6,89.4L307.7,87.5L307.8,89.6L307.9,86.9L308.0,84.9L308.1,88.6L308.2,86.5L308.3,107.1L308.4,106.6L308.5,86.8L308.6,88.1L308.7,88.2L308.8,97.8L308.9,98.0L309.0,87.3L309.1,87.6L309.2,89.6L309.3,88.4L309.4,90.0L309.5,90.1L309.6,91.7L309.7,91.1L309.8,90.9L309.9,88.6L310.0,91.5L310.1,88.4L310.2,89.4L310.3,88.6L310.4,89.0L310.5,88.2L310.6,88.7L310.7,88.4L310.8,88.4L310.9,88.5L311.0,102.5L311.1,103.0L311.2,104.0L311.3,88.8L311.4,88.6L311.5,88.0L311.6,86.6L311.7,87.7L311.8,89.8L311.9,86.8L312.0,87.5L312.1,89.2L312.2,88.7L312.3,88.0L312.4,87.1L312.5,87.7L312.6,87.6L312.7,88.8L312.8,87.1L312.9,87.5L313.0,89.0L313.1,86.8L313.2,89.6L313.3,86.6L313.4,89.1L313.5,87.4L313.6,87.1L313.7,86.0L313.8,86.7L313.9,103.4L314.0,86.8L314.1,86.6L314.2,86.8L314.3,87.3L314.4,86.7L314.5,86.5L314.6,87.0L314.7,87.7L314.8,89.4L314.9,89.0L315.0,87.8L315.1,87.4L315.2,86.5L315.3,86.6L315.4,87.1L315.5,89.2L315.6,88.5L315.7,106.4L315.8,87.5L315.9,88.2L316.0,86.9L316.1,89.0L316.2,88.6L316.3,88.9L316.4,88.5L316.5,88.5L316.6,88.0L316.7,106.1L316.8,107.5L316.9,106.6L317.0,106.0L317.1,106.5L317.2,106.0L317.3,107.0L317.4,87.4L317.5,90.2L317.6,88.5L317.7,87.5L317.8,88.6L317.9,89.0L318.0,90.4L318.1,88.4L318.2,87.4L318.3,88.2L318.4,89.0L318.5,89.0L318.6,88.6L318.7,89.0L318.8,88.7L318.9,89.2L319.0,90.3L319.1,88.5L319.2,89.3L319.3,89.9L319.4,88.1L319.5,89.0L319.6,88.1L319.7,87.5L319.8,87.4L319.9,89.5L320.0,89.3L320.1,88.0L320.2,87.7L320.3,88.1L320.4,87.8L320.5,88.2L320.6,90.4L320.7,87.2L320.8,88.0L320.9,92.2L321.0,86.7L321.1,88.4L321.2,88.8L321.3,87.3L321.4,89.6L321.5,88.0L321.6,105.5L321.7,106.2L321.8,88.5L321.9,102.8L322.0,89.3L322.1,89.6L322.2,87.2L322.3,89.7L322.4,90.2L322.5,90.2L322.6,88.7L322.7,88.5L322.8,88.6L322.9,88.4L323.0,88.7L323.1,89.7L323.2,88.8L323.3,102.6L323.4,103.1L323.5,102.3L323.6,89.0L323.7,88.9L323.8,91.9L323.9,88.8L324.0,87.6L324.1,88.7L324.2,87.3L324.3,88.1L324.4,88.7L324.5,87.1L324.6,88.6L324.7,88.2L324.8,88.3L324.9,87.9L325.0,89.3L325.1,88.8L325.2,88.8L325.3,90.6L325.4,88.6L325.5,88.9L325.6,87.3L325.7,86.3L325.8,85.1L325.9,85.5L326.0,86.7L326.1,87.5L326.2,86.7L326.3,87.1L326.4,86.1L326.5,86.0L326.6,86.0L326.7,85.5L326.8,87.0L326.9,85.9L327.0,87.2L327.1,86.0L327.2,86.2L327.3,86.4L327.4,86.5L327.5,86.1L327.6,86.9L327.7,85.8L327.8,86.8L327.9,86.9L328.0,86.0L328.1,86.4L328.2,86.9L328.3,87.3L328.4,88.3L328.5,86.8L328.6,86.1L328.7,88.8L328.8,103.2L328.9,88.2L329.0,86.9L329.1,88.4L329.2,91.0L329.3,88.1L329.4,88.6L329.5,87.9L329.6,88.4L329.7,88.1L329.8,88.1L329.9,87.0L330.0,86.2L330.1,88.6L330.2,87.6L330.3,87.8L330.4,89.2L330.5,89.9L330.6,89.3L330.7,88.4L330.8,105.7L330.9,105.6L331.0,89.4L331.1,86.9L331.2,88.1L331.3,87.9L331.4,88.7L331.5,90.2L331.6,90.4L331.7,90.7L331.8,91.1L331.9,89.1L332.0,88.9L332.1,89.6L332.2,89.3L332.3,88.9L332.4,86.5L332.5,89.9L332.6,88.9L332.7,88.4L332.8,87.9L332.9,88.5L333.0,88.1L333.1,87.0L333.2,97.8L333.3,98.3L333.4,89.3L333.5,89.0L333.6,88.3L333.7,88.6L333.8,88.2L333.9,88.9L334.0,88.8L334.1,92.5L334.2,89.2L334.3,87.8L334.4,87.4L334.5,86.7L334.6,86.0L334.7,89.8L334.8,88.3L334.9,89.3L335.0,88.2L335.1,87.8L335.2,87.9L335.3,88.9L335.4,85.3L335.5,87.7L335.6,88.2L335.7,86.8L335.8,88.2L335.9,87.5L336.0,87.3L336.1,87.2L336.2,85.0L336.3,86.6L336.4,86.1L336.5,89.0L336.6,85.9L336.7,87.3L336.8,87.6L336.9,86.0L337.0,86.7L337.1,86.8L337.2,86.4L337.3,86.4L337.4,85.0L337.5,93.7L337.6,85.2L337.7,86.5L337.8,85.6L337.9,87.2L338.0,86.4L338.1,85.5L338.2,87.3L338.3,87.5L338.4,87.8L338.5,86.3L338.6,87.1L338.7,87.5L338.8,87.4L338.9,88.5L339.0,86.3L339.1,86.8L339.2,87.2L339.3,88.7L339.4,89.6L339.5,90.6L339.6,89.4L339.7,87.0L339.8,88.7L339.9,88.8L340.0,90.0L340.1,89.6L340.2,88.9L340.3,88.6L340.4,91.5L340.5,89.2L340.6,88.1L340.7,89.4L340.8,89.3L340.9,91.5L341.0,91.4L341.1,89.9L341.2,89.8L341.3,91.8L341.4,91.4L341.5,88.9L341.6,96.4L341.7,91.8L341.8,89.7L341.9,90.2L342.0,89.8L342.1,90.4L342.2,91.0L342.3,90.3L342.4,93.1L342.5,91.7L342.6,91.4L342.7,92.1L342.8,90.5L342.9,88.9L343.0,91.0L343.1,91.2L343.2,90.6L343.3,90.5L343.4,92.4L343.5,91.6L343.6,91.3L343.7,90.3L343.8,90.5L343.9,91.3L344.0,90.9L344.1,92.0L344.2,90.9L344.3,91.7L344.4,94.5L344.5,89.1L344.6,90.6L344.7,91.0L344.8,91.1L344.9,91.0L345.0,90.2L345.1,90.8L345.2,89.0L345.3,89.1L345.4,89.9L345.5,91.9L345.6,89.0L345.7,90.9L345.8,89.2L345.9,88.9L346.0,87.1L346.1,90.0L346.2,89.0L346.3,89.0L346.4,88.8L346.5,88.5L346.6,88.9L346.7,87.7L346.8,87.2L346.9,88.6L347.0,88.9L347.1,87.9L347.2,86.7L347.3,88.3L347.4,87.0L347.5,87.2L347.6,88.0L347.7,88.1L347.8,86.8L347.9,86.7L348.0,86.4L348.1,88.6L348.2,85.0L348.3,85.9L348.4,86.5L348.5,88.6L348.6,90.0L348.7,84.6L348.8,102.1L348.9,101.8L349.0,101.6L349.1,87.6L349.2,87.4L349.3,87.7L349.4,88.2L349.5,88.0L349.6,95.6L349.7,95.7L349.8,88.5L349.9,89.2L350.0,90.0L350.1,89.8L350.2,89.2L350.3,88.3L350.4,88.3L350.5,88.1L350.6,88.4L350.7,88.2L350.8,88.3L350.9,87.3L351.0,89.3L351.1,87.6L351.2,89.2L351.3,89.3L351.4,88.7L351.5,88.8L351.6,88.6L351.7,88.6L351.8,89.4L351.9,89.7L352.0,91.8L352.1,88.7L352.2,89.0L352.3,91.2L352.4,95.1L352.5,89.3L352.6,89.9L352.7,89.1L352.8,90.7L352.9,91.1L353.0,89.5L353.1,91.9L353.2,89.9L353.3,86.9L353.4,98.7L353.5,97.7L353.6,97.2L353.7,97.9L353.8,85.9L353.9,86.0L354.0,85.8L354.1,98.7L354.2,87.5L354.3,86.5L354.4,87.6L354.5,88.9L354.6,86.3L354.7,88.9L354.8,87.3L354.9,86.3L355.0,86.0L355.1,88.4L355.2,87.0L355.3,87.9L355.4,89.5L355.5,87.5L355.6,97.9L355.7,87.7L355.8,88.3L355.9,87.9L356.0,91.6L356.1,91.2L356.2,90.7L356.3,91.2L356.4,88.7L356.5,90.3L356.6,88.4L356.7,86.1L356.8,87.4L356.9,89.5L357.0,86.9L357.1,88.1L357.2,87.2L357.3,88.7L357.4,88.0L357.5,89.0L357.6,87.8L357.7,88.0L357.8,87.8L357.9,88.1L358.0,88.8L358.1,89.1L358.2,87.3L358.3,88.4L358.4,87.4L358.5,86.8L358.6,88.8L358.7,89.3L358.8,88.6L358.9,86.0L359.0,87.0L359.1,88.3L359.2,89.6L359.3,87.0L359.4,89.4L359.5,99.1L359.6,98.2L359.7,88.4L359.8,88.8L359.9,87.9" fill="none" stroke="#1a1a1a" stroke-width="0.45" stroke-linejoin="round"/>
<path d="M110.0,125.7L110.1,124.7L110.2,124.7L110.3,123.9L110.4,124.0L110.5,126.5L110.6,123.6L110.7,124.6L110.8,124.3L110.9,123.4L111.0,125.2L111.1,124.1L111.2,126.1L111.3,125.4L111.4,125.8L111.5,124.7L111.6,124.6L111.7,124.0L111.8,125.0L111.9,124.0L112.0,125.8L112.1,123.6L112.2,137.4L112.3,124.4L112.4,129.9L112.5,123.8L112.6,124.9L112.7,125.0L112.8,124.1L112.9,129.7L113.0,123.7L113.1,123.7L113.2,132.6L113.3,123.5L113.4,122.8L113.5,123.6L113.6,125.3L113.7,137.7L113.8,124.2L113.9,125.4L114.0,124.2L114.1,124.9L114.2,124.4L114.3,123.8L114.4,124.7L114.5,125.2L114.6,126.2L114.7,124.8L114.8,137.1L114.9,125.0L115.0,126.2L115.1,125.0L115.2,125.9L115.3,124.4L115.4,125.4L115.5,124.5L115.6,124.4L115.7,124.4L115.8,124.2L115.9,126.4L116.0,124.8L116.1,125.6L116.2,126.0L116.3,137.6L116.4,137.1L116.5,125.8L116.6,125.6L116.7,125.7L116.8,126.5L116.9,126.8L117.0,136.0L117.1,125.9L117.2,126.7L117.3,126.2L117.4,126.2L117.5,127.6L117.6,127.9L117.7,126.8L117.8,126.9L117.9,126.3L118.0,127.2L118.1,126.1L118.2,126.6L118.3,127.4L118.4,126.9L118.5,125.9L118.6,127.1L118.7,127.6L118.8,127.8L118.9,127.9L119.0,128.0L119.1,126.2L119.2,127.4L119.3,137.0L119.4,126.1L119.5,126.3L119.6,126.9L119.7,133.4L119.8,127.2L119.9,125.4L120.0,125.9L120.1,125.5L120.2,127.8L120.3,125.8L120.4,138.2L120.5,137.9L120.6,137.1L120.7,137.5L120.8,137.6L120.9,126.0L121.0,126.4L121.1,138.0L121.2,125.3L121.3,123.5L121.4,125.9L121.5,133.5L121.6,125.0L121.7,138.1L121.8,124.9L121.9,129.7L122.0,130.7L122.1,125.1L122.2,136.6L122.3,134.5L122.4,135.7L122.5,134.9L122.6,135.0L122.7,135.8L122.8,126.9L122.9,125.0L123.0,123.8L123.1,126.5L123.2,125.4L123.3,124.4L123.4,129.2L123.5,124.8L123.6,126.5L123.7,126.1L123.8,126.3L123.9,138.7L124.0,126.3L124.1,127.0L124.2,125.2L124.3,125.1L124.4,125.2L124.5,125.7L124.6,126.2L124.7,124.1L124.8,127.0L124.9,126.2L125.0,126.6L125.1,126.1L125.2,129.8L125.3,129.6L125.4,130.3L125.5,125.1L125.6,126.2L125.7,126.4L125.8,125.8L125.9,126.3L126.0,126.5L126.1,127.2L126.2,127.9L126.3,126.4L126.4,126.1L126.5,125.3L126.6,125.6L126.7,126.0L126.8,126.4L126.9,126.4L127.0,126.9L127.1,126.1L127.2,127.6L127.3,125.0L127.4,127.8L127.5,127.1L127.6,126.7L127.7,124.4L127.8,126.7L127.9,126.4L128.0,127.2L128.1,125.2L128.2,125.4L128.3,127.1L128.4,125.8L128.5,125.1L128.6,126.6L128.7,125.9L128.8,124.9L128.9,126.2L129.0,125.9L129.1,126.5L129.2,125.8L129.3,126.5L129.4,134.2L129.5,133.8L129.6,134.1L129.7,134.6L129.8,134.2L129.9,133.6L130.0,124.9L130.1,124.5L130.2,124.5L130.3,125.2L130.4,124.7L130.5,124.4L130.6,125.5L130.7,125.8L130.8,124.0L130.9,124.3L131.0,123.4L131.1,124.6L131.2,122.6L131.3,122.2L131.4,124.5L131.5,124.5L131.6,124.7L131.7,123.2L131.8,123.7L131.9,123.9L132.0,122.4L132.1,123.4L132.2,123.1L132.3,123.0L132.4,124.4L132.5,121.9L132.6,122.3L132.7,123.8L132.8,123.6L132.9,123.2L133.0,125.9L133.1,126.7L133.2,126.8L133.3,123.3L133.4,124.1L133.5,122.6L133.6,124.0L133.7,122.9L133.8,124.3L133.9,124.2L134.0,124.6L134.1,124.3L134.2,123.9L134.3,123.6L134.4,124.8L134.5,124.4L134.6,125.4L134.7,126.1L134.8,126.9L134.9,127.8L135.0,126.2L135.1,126.3L135.2,125.9L135.3,126.5L135.4,126.9L135.5,126.5L135.6,126.5L135.7,125.7L135.8,126.0L135.9,127.5L136.0,124.2L136.1,126.2L136.2,125.7L136.3,127.1L136.4,133.3L136.5,126.9L136.6,126.1L136.7,126.7L136.8,126.2L136.9,126.1L137.0,126.3L137.1,125.2L137.2,126.0L137.3,125.5L137.4,126.1L137.5,125.0L137.6,126.8L137.7,126.2L137.8,126.7L137.9,125.7L138.0,126.2L138.1,127.0L138.2,126.2L138.3,125.9L138.4,125.5L138.5,127.6L138.6,126.8L138.7,127.2L138.8,126.1L138.9,126.9L139.0,137.5L139.1,138.0L139.2,137.9L139.3,136.8L139.4,138.1L139.5,137.9L139.6,137.6L139.7,137.5L139.8,137.4L139.9,137.6L140.0,137.2L140.1,136.5L140.2,137.5L140.3,137.4L140.4,136.8L140.5,137.4L140.6,137.2L140.7,137.3L140.8,136.9L140.9,137.9L141.0,137.7L141.1,137.9L141.2,137.1L141.3,137.7L141.4,137.9L141.5,136.5L141.6,137.5L141.7,137.7L141.8,138.0L141.9,137.3L142.0,137.3L142.1,136.9L142.2,137.5L142.3,138.2L142.4,126.8L142.5,125.3L142.6,137.6L142.7,126.2L142.8,126.4L142.9,126.7L143.0,128.5L143.1,125.4L143.2,126.2L143.3,126.4L143.4,127.2L143.5,128.4L143.6,127.3L143.7,126.8L143.8,125.9L143.9,125.9L144.0,125.9L144.1,126.5L144.2,126.6L144.3,125.5L144.4,125.5L144.5,129.9L144.6,125.2L144.7,128.7L144.8,125.0L144.9,124.1L145.0,126.7L145.1,126.7L145.2,125.6L145.3,124.8L145.4,125.0L145.5,124.8L145.6,126.1L145.7,125.3L145.8,125.2L145.9,125.2L146.0,125.5L146.1,125.2L146.2,124.9L146.3,126.7L146.4,125.6L146.5,125.2L146.6,124.3L146.7,125.7L146.8,125.2L146.9,124.9L147.0,125.4L147.1,124.7L147.2,125.4L147.3,125.0L147.4,124.0L147.5,124.3L147.6,124.2L147.7,124.0L147.8,126.5L147.9,126.0L148.0,126.5L148.1,124.8L148.2,125.7L148.3,123.7L148.4,124.4L148.5,125.4L148.6,125.0L148.7,123.2L148.8,124.9L148.9,123.8L149.0,124.3L149.1,123.0L149.2,125.6L149.3,124.5L149.4,126.1L149.5,125.9L149.6,125.9L149.7,124.8L149.8,125.3L149.9,126.8L150.0,127.0L150.1,125.4L150.2,125.5L150.3,137.9L150.4,126.1L150.5,127.0L150.6,125.0L150.7,125.7L150.8,124.9L150.9,125.6L151.0,126.9L151.1,130.9L151.2,132.4L151.3,125.5L151.4,126.2L151.5,124.6L151.6,126.4L151.7,125.7L151.8,126.8L151.9,128.0L152.0,125.2L152.1,126.9L152.2,126.3L152.3,133.3L152.4,125.5L152.5,126.1L152.6,127.9L152.7,125.0L152.8,127.5L152.9,127.2L153.0,125.4L153.1,125.7L153.2,126.3L153.3,124.7L153.4,126.5L153.5,124.7L153.6,126.5L153.7,124.2L153.8,126.4L153.9,124.7L154.0,125.1L154.1,137.1L154.2,123.8L154.3,124.6L154.4,124.3L154.5,125.7L154.6,136.9L154.7,123.6L154.8,123.7L154.9,123.1L155.0,126.0L155.1,123.7L155.2,123.6L155.3,121.7L155.4,122.4L155.5,123.9L155.6,122.9L155.7,123.6L155.8,122.9L155.9,123.3L156.0,121.7L156.1,121.9L156.2,122.6L156.3,122.8L156.4,121.9L156.5,120.3L156.6,122.7L156.7,122.4L156.8,121.9L156.9,121.3L157.0,123.1L157.1,125.3L157.2,123.7L157.3,125.0L157.4,122.4L157.5,124.1L157.6,122.9L157.7,124.6L157.8,125.1L157.9,124.3L158.0,126.7L158.1,125.4L158.2,124.9L158.3,124.5L158.4,125.4L158.5,125.3L158.6,138.1L158.7,137.9L158.8,124.5L158.9,125.9L159.0,132.3L159.1,126.2L159.2,128.9L159.3,125.5L159.4,125.7L159.5,126.0L159.6,136.3L159.7,137.6L159.8,126.5L159.9,126.4L160.0,133.5L160.1,127.6L160.2,134.7L160.3,132.1L160.4,133.3L160.5,134.9L160.6,133.0L160.7,127.5L160.8,127.7L160.9,125.3L161.0,127.5L161.1,127.4L161.2,125.7L161.3,136.1L161.4,135.6L161.5,125.9L161.6,132.7L161.7,134.6L161.8,132.9L161.9,125.4L162.0,126.0L162.1,124.7L162.2,125.7L162.3,126.0L162.4,125.2L162.5,135.2L162.6,125.4L162.7,125.3L162.8,128.7L162.9,126.2L163.0,125.9L163.1,125.4L163.2,126.8L163.3,136.5L163.4,137.5L163.5,137.1L163.6,137.9L163.7,137.2L163.8,125.1L163.9,126.7L164.0,126.1L164.1,125.7L164.2,126.2L164.3,125.0L164.4,128.0L164.5,125.6L164.6,125.7L164.7,125.2L164.8,125.3L164.9,126.1L165.0,125.4L165.1,137.2L165.2,135.9L165.3,124.9L165.4,136.8L165.5,125.1L165.6,125.8L165.7,126.3L165.8,138.7L165.9,137.3L166.0,137.6L166.1,137.5L166.2,124.3L166.3,124.7L166.4,130.6L166.5,123.5L166.6,124.7L166.7,125.4L166.8,125.0L166.9,124.3L167.0,137.5L167.1,137.7L167.2,136.3L167.3,137.2L167.4,136.8L167.5,137.0L167.6,137.4L167.7,138.0L167.8,137.4L167.9,137.7L168.0,137.8L168.1,136.4L168.2,137.8L168.3,137.7L168.4,137.6L168.5,137.6L168.6,137.9L168.7,137.5L168.8,138.2L168.9,137.5L169.0,136.7L169.1,137.4L169.2,136.9L169.3,137.7L169.4,137.0L169.5,137.4L169.6,136.3L169.7,137.5L169.8,137.5L169.9,137.7L170.0,136.8L170.1,138.2L170.2,137.6L170.3,125.0L170.4,127.2L170.5,126.1L170.6,125.6L170.7,126.6L170.8,125.6L170.9,124.7L171.0,125.5L171.1,125.6L171.2,125.8L171.3,126.6L171.4,126.3L171.5,128.2L171.6,126.4L171.7,126.7L171.8,126.8L171.9,128.1L172.0,138.1L172.1,137.5L172.2,137.5L172.3,137.6L172.4,134.9L172.5,137.3L172.6,137.5L172.7,138.7L172.8,136.0L172.9,137.4L173.0,133.1L173.1,132.1L173.2,130.8L173.3,139.6L173.4,137.7L173.5,137.7L173.6,137.0L173.7,136.3L173.8,136.5L173.9,137.5L174.0,137.5L174.1,137.7L174.2,136.7L174.3,136.4L174.4,135.9L174.5,136.6L174.6,136.3L174.7,139.4L174.8,137.5L174.9,137.0L175.0,137.8L175.1,137.4L175.2,135.4L175.3,137.7L175.4,138.3L175.5,137.7L175.6,136.9L175.7,137.9L175.8,137.6L175.9,138.2L176.0,134.8L176.1,133.5L176.2,137.5L176.3,137.6L176.4,137.9L176.5,137.4L176.6,137.3L176.7,137.6L176.8,137.5L176.9,135.6L177.0,136.5L177.1,136.3L177.2,135.9L177.3,137.1L177.4,138.4L177.5,136.1L177.6,136.0L177.7,137.6L177.8,136.5L177.9,136.9L178.0,137.4L178.1,137.8L178.2,139.0L178.3,137.4L178.4,136.4L178.5,136.4L178.6,136.2L178.7,136.8L178.8,137.2L178.9,137.4L179.0,136.8L179.1,137.2L179.2,137.1L179.3,136.3L179.4,136.2L179.5,137.3L179.6,136.4L179.7,138.5L179.8,136.8L179.9,136.7L180.0,136.7L180.1,138.6L180.2,135.8L180.3,137.5L180.4,136.3L180.5,139.7L180.6,137.8L180.7,136.2L180.8,136.9L180.9,136.5L181.0,125.9L181.1,127.2L181.2,128.3L181.3,126.9L181.4,125.9L181.5,136.9L181.6,137.1L181.7,138.4L181.8,137.9L181.9,138.3L182.0,138.5L182.1,135.7L182.2,137.0L182.3,135.4L182.4,135.0L182.5,135.4L182.6,135.3L182.7,134.8L182.8,134.6L182.9,138.0L183.0,138.5L183.1,137.8L183.2,136.7L183.3,136.9L183.4,137.2L183.5,138.8L183.6,136.9L183.7,137.3L183.8,137.0L183.9,137.4L184.0,136.6L184.1,137.0L184.2,136.5L184.3,128.8L184.4,128.3L184.5,127.8L184.6,130.5L184.7,128.8L184.8,129.9L184.9,128.5L185.0,128.8L185.1,129.3L185.2,128.5L185.3,127.8L185.4,128.3L185.5,130.0L185.6,129.5L185.7,129.4L185.8,128.1L185.9,128.3L186.0,128.5L186.1,128.4L186.2,128.5L186.3,129.5L186.4,137.1L186.5,137.7L186.6,137.0L186.7,139.0L186.8,138.4L186.9,139.3L187.0,137.4L187.1,137.6L187.2,139.8L187.3,137.5L187.4,137.7L187.5,138.5L187.6,136.0L187.7,137.8L187.8,137.5L187.9,139.1L188.0,137.3L188.1,137.3L188.2,136.7L188.3,138.1L188.4,136.9L188.5,138.2L188.6,135.9L188.7,137.0L188.8,137.6L188.9,136.1L189.0,137.5L189.1,136.7L189.2,137.3L189.3,138.6L189.4,138.7L189.5,137.9L189.6,135.4L189.7,138.3L189.8,138.3L189.9,136.7L190.0,136.9L190.1,139.4L190.2,137.6L190.3,136.5L190.4,136.6L190.5,136.9L190.6,136.7L190.7,139.2L190.8,137.9L190.9,137.2L191.0,135.9L191.1,137.5L191.2,137.9L191.3,136.4L191.4,137.2L191.5,138.1L191.6,128.8L191.7,129.6L191.8,137.7L191.9,136.8L192.0,135.7L192.1,135.8L192.2,134.4L192.3,136.2L192.4,138.7L192.5,136.6L192.6,138.3L192.7,137.2L192.8,138.1L192.9,138.3L193.0,137.3L193.1,137.8L193.2,137.9L193.3,137.2L193.4,139.4L193.5,138.6L193.6,136.5L193.7,140.3L193.8,138.7L193.9,137.4L194.0,137.2L194.1,139.4L194.2,137.4L194.3,138.1L194.4,137.6L194.5,137.6L194.6,138.6L194.7,138.8L194.8,137.5L194.9,138.2L195.0,137.9L195.1,137.5L195.2,139.5L195.3,137.5L195.4,139.6L195.5,137.4L195.6,137.8L195.7,139.0L195.8,139.2L195.9,138.5L196.0,137.7L196.1,139.7L196.2,138.5L196.3,138.2L196.4,135.8L196.5,135.0L196.6,135.4L196.7,137.4L196.8,139.0L196.9,138.3L197.0,137.7L197.1,138.4L197.2,138.3L197.3,137.7L197.4,138.3L197.5,138.2L197.6,138.4L197.7,137.0L197.8,139.2L197.9,136.9L198.0,138.2L198.1,137.7L198.2,138.5L198.3,137.7L198.4,135.0L198.5,136.7L198.6,136.0L198.7,136.8L198.8,137.9L198.9,136.2L199.0,137.9L199.1,138.1L199.2,137.2L199.3,138.8L199.4,137.3L199.5,135.3L199.6,138.2L199.7,138.4L199.8,136.8L199.9,137.1L200.0,138.0L200.1,137.4L200.2,137.1L200.3,138.0L200.4,137.3L200.5,137.4L200.6,130.1L200.7,136.9L200.8,136.4L200.9,136.3L201.0,138.0L201.1,138.7L201.2,138.3L201.3,136.3L201.4,137.5L201.5,135.7L201.6,137.2L201.7,135.8L201.8,126.2L201.9,130.1L202.0,126.7L202.1,127.7L202.2,137.9L202.3,138.0L202.4,137.8L202.5,139.2L202.6,136.7L202.7,137.0L202.8,138.4L202.9,139.1L203.0,137.6L203.1,138.9L203.2,138.2L203.3,137.3L203.4,137.4L203.5,137.5L203.6,138.3L203.7,138.3L203.8,137.1L203.9,138.4L204.0,137.7L204.1,138.3L204.2,137.5L204.3,124.3L204.4,125.4L204.5,125.6L204.6,125.1L204.7,127.2L204.8,124.1L204.9,125.3L205.0,137.8L205.1,136.1L205.2,139.2L205.3,138.2L205.4,137.5L205.5,137.5L205.6,137.7L205.7,137.9L205.8,137.3L205.9,136.6L206.0,137.3L206.1,136.3L206.2,138.1L206.3,137.9L206.4,137.5L206.5,138.6L206.6,138.0L206.7,137.7L206.8,138.0L206.9,138.0L207.0,138.2L207.1,138.3L207.2,131.9L207.3,131.0L207.4,129.9L207.5,130.4L207.6,130.2L207.7,137.1L207.8,134.9L207.9,137.1L208.0,138.1L208.1,137.9L208.2,138.0L208.3,138.3L208.4,138.1L208.5,138.3L208.6,139.4L208.7,139.2L208.8,137.3L208.9,139.5L209.0,137.6L209.1,138.4L209.2,129.0L209.3,128.4L209.4,129.5L209.5,127.6L209.6,129.5L209.7,129.7L209.8,139.6L209.9,136.0L210.0,138.1L210.1,138.0L210.2,137.7L210.3,135.9L210.4,139.2L210.5,137.3L210.6,137.8L210.7,136.9L210.8,138.4L210.9,136.9L211.0,136.8L211.1,139.0L211.2,137.7L211.3,138.8L211.4,137.6L211.5,135.3L211.6,137.4L211.7,136.2L211.8,138.3L211.9,138.2L212.0,135.9L212.1,137.0L212.2,138.2L212.3,138.8L212.4,137.2L212.5,137.7L212.6,136.5L212.7,138.1L212.8,136.8L212.9,139.1L213.0,139.3L213.1,136.8L213.2,138.0L213.3,136.3L213.4,137.0L213.5,136.6L213.6,136.5L213.7,135.0L213.8,137.3L213.9,136.0L214.0,136.5L214.1,137.0L214.2,138.6L214.3,135.3L214.4,136.9L214.5,136.6L214.6,137.4L214.7,136.4L214.8,138.3L214.9,137.0L215.0,126.2L215.1,125.9L215.2,123.6L215.3,126.7L215.4,126.0L215.5,125.3L215.6,126.3L215.7,125.3L215.8,124.9L215.9,126.2L216.0,125.4L216.1,125.9L216.2,124.9L216.3,125.2L216.4,124.8L216.5,125.8L216.6,125.5L216.7,126.1L216.8,125.4L216.9,126.3L217.0,125.4L217.1,126.4L217.2,125.5L217.3,125.4L217.4,125.7L217.5,125.7L217.6,125.3L217.7,126.0L217.8,125.7L217.9,125.5L218.0,125.0L218.1,125.7L218.2,124.3L218.3,125.5L218.4,126.8L218.5,138.1L218.6,137.0L218.7,138.9L218.8,136.0L218.9,136.7L219.0,138.1L219.1,137.4L219.2,137.0L219.3,138.5L219.4,137.6L219.5,136.5L219.6,138.2L219.7,136.4L219.8,137.3L219.9,139.9L220.0,137.8L220.1,138.5L220.2,137.0L220.3,138.1L220.4,136.6L220.5,137.7L220.6,136.8L220.7,137.2L220.8,137.5L220.9,136.7L221.0,138.8L221.1,137.4L221.2,132.9L221.3,134.1L221.4,136.4L221.5,136.6L221.6,136.5L221.7,137.5L221.8,136.6L221.9,136.4L222.0,137.7L222.1,137.5L222.2,136.7L222.3,136.8L222.4,137.3L222.5,137.0L222.6,137.0L222.7,137.3L222.8,137.8L222.9,136.9L223.0,136.3L223.1,138.9L223.2,137.3L223.3,137.0L223.4,137.1L223.5,137.9L223.6,137.8L223.7,138.1L223.8,135.8L223.9,135.5L224.0,137.3L224.1,136.7L224.2,135.5L224.3,137.1L224.4,136.2L224.5,136.6L224.6,137.2L224.7,138.1L224.8,137.6L224.9,136.1L225.0,135.4L225.1,137.2L225.2,137.9L225.3,137.3L225.4,137.4L225.5,135.1L225.6,137.5L225.7,138.5L225.8,136.8L225.9,136.0L226.0,137.8L226.1,137.2L226.2,137.2L226.3,139.2L226.4,136.5L226.5,137.1L226.6,137.9L226.7,137.4L226.8,137.4L226.9,137.6L227.0,138.5L227.1,135.8L227.2,137.4L227.3,134.9L227.4,136.9L227.5,137.4L227.6,136.1L227.7,136.2L227.8,138.3L227.9,136.6L228.0,139.2L228.1,137.7L228.2,136.7L228.3,138.7L228.4,137.5L228.5,125.4L228.6,126.1L228.7,129.0L228.8,138.4L228.9,138.4L229.0,137.2L229.1,138.4L229.2,138.0L229.3,137.9L229.4,136.9L229.5,137.1L229.6,138.3L229.7,137.4L229.8,138.5L229.9,137.9L230.0,133.9L230.1,136.8L230.2,139.2L230.3,137.7L230.4,137.9L230.5,137.1L230.6,136.6L230.7,136.2L230.8,137.1L230.9,137.0L231.0,136.7L231.1,137.0L231.2,135.5L231.3,137.2L231.4,137.4L231.5,137.1L231.6,136.9L231.7,137.8L231.8,136.5L231.9,137.3L232.0,124.7L232.1,126.3L232.2,124.9L232.3,123.9L232.4,125.8L232.5,138.0L232.6,137.1L232.7,137.5L232.8,136.7L232.9,136.9L233.0,124.9L233.1,125.2L233.2,125.4L233.3,126.2L233.4,124.5L233.5,126.0L233.6,125.7L233.7,125.6L233.8,124.7L233.9,126.0L234.0,124.6L234.1,125.6L234.2,124.7L234.3,126.6L234.4,125.3L234.5,138.6L234.6,137.6L234.7,138.6L234.8,137.2L234.9,136.9L235.0,139.6L235.1,136.4L235.2,138.1L235.3,138.7L235.4,137.2L235.5,125.5L235.6,124.0L235.7,126.5L235.8,125.8L235.9,125.1L236.0,124.4L236.1,125.9L236.2,124.5L236.3,125.3L236.4,124.5L236.5,125.8L236.6,125.6L236.7,125.7L236.8,125.6L236.9,125.4L237.0,124.7L237.1,125.1L237.2,125.4L237.3,125.7L237.4,125.5L237.5,125.9L237.6,125.7L237.7,124.6L237.8,125.2L237.9,124.0L238.0,126.4L238.1,125.4L238.2,125.5L238.3,123.1L238.4,125.3L238.5,124.5L238.6,125.8L238.7,125.3L238.8,125.1L238.9,125.1L239.0,125.4L239.1,138.5L239.2,138.3L239.3,138.9L239.4,137.7L239.5,126.8L239.6,124.7L239.7,124.1L239.8,124.3L239.9,126.8L240.0,125.8L240.1,125.8L240.2,126.0L240.3,125.6L240.4,125.5L240.5,124.2L240.6,124.1L240.7,124.2L240.8,125.1L240.9,124.4L241.0,128.0L241.1,128.6L241.2,138.8L241.3,138.0L241.4,137.0L241.5,125.2L241.6,137.4L241.7,136.9L241.8,138.9L241.9,137.8L242.0,138.6L242.1,136.8L242.2,137.4L242.3,138.1L242.4,139.4L242.5,137.0L242.6,136.4L242.7,138.7L242.8,138.2L242.9,138.3L243.0,137.2L243.1,135.7L243.2,134.4L243.3,136.7L243.4,137.5L243.5,136.4L243.6,137.8L243.7,137.4L243.8,136.8L243.9,137.6L244.0,125.0L244.1,124.1L244.2,125.7L244.3,124.4L244.4,125.1L244.5,126.0L244.6,137.4L244.7,137.3L244.8,137.8L244.9,138.7L245.0,128.8L245.1,128.0L245.2,129.3L245.3,129.0L245.4,128.6L245.5,128.3L245.6,129.3L245.7,129.8L245.8,136.8L245.9,138.1L246.0,137.9L246.1,125.6L246.2,138.6L246.3,138.2L246.4,136.4L246.5,137.8L246.6,137.9L246.7,138.4L246.8,139.3L246.9,138.3L247.0,138.5L247.1,137.8L247.2,136.6L247.3,137.9L247.4,138.4L247.5,138.3L247.6,138.6L247.7,137.5L247.8,136.9L247.9,138.6L248.0,138.7L248.1,137.5L248.2,137.7L248.3,134.8L248.4,137.7L248.5,136.2L248.6,125.8L248.7,136.1L248.8,138.0L248.9,135.5L249.0,136.5L249.1,137.8L249.2,136.7L249.3,137.8L249.4,137.3L249.5,137.9L249.6,136.8L249.7,138.0L249.8,137.8L249.9,137.6L250.0,138.0L250.1,138.2L250.2,137.8L250.3,137.4L250.4,137.2L250.5,139.2L250.6,137.1L250.7,136.3L250.8,136.5L250.9,136.5L251.0,135.6L251.1,136.1L251.2,135.9L251.3,136.6L251.4,135.9L251.5,136.7L251.6,135.7L251.7,135.9L251.8,137.6L251.9,138.1L252.0,124.4L252.1,125.2L252.2,125.9L252.3,125.8L252.4,124.8L252.5,125.4L252.6,136.6L252.7,138.4L252.8,136.7L252.9,138.4L253.0,138.2L253.1,137.7L253.2,138.9L253.3,138.5L253.4,137.4L253.5,138.9L253.6,137.7L253.7,137.2L253.8,138.2L253.9,137.5L254.0,137.4L254.1,138.9L254.2,138.3L254.3,138.1L254.4,137.7L254.5,136.5L254.6,137.4L254.7,137.9L254.8,136.4L254.9,137.6L255.0,136.0L255.1,138.9L255.2,139.9L255.3,138.4L255.4,138.1L255.5,137.8L255.6,137.3L255.7,138.9L255.8,137.5L255.9,138.8L256.0,138.2L256.1,138.6L256.2,136.9L256.3,136.5L256.4,138.2L256.5,137.6L256.6,136.3L256.7,136.5L256.8,137.6L256.9,136.7L257.0,138.5L257.1,137.8L257.2,137.4L257.3,138.8L257.4,137.7L257.5,137.5L257.6,138.5L257.7,138.4L257.8,137.7L257.9,138.0L258.0,125.1L258.1,125.5L258.2,124.3L258.3,125.9L258.4,124.2L258.5,126.1L258.6,137.7L258.7,137.5L258.8,126.1L258.9,136.8L259.0,136.1L259.1,127.1L259.2,127.0L259.3,128.1L259.4,127.2L259.5,127.0L259.6,126.2L259.7,136.2L259.8,136.9L259.9,136.7L260.0,136.4L260.1,138.7L260.2,136.7L260.3,136.6L260.4,137.7L260.5,135.7L260.6,136.9L260.7,137.2L260.8,138.2L260.9,134.0L261.0,137.0L261.1,137.4L261.2,137.6L261.3,136.8L261.4,139.0L261.5,136.8L261.6,138.0L261.7,138.3L261.8,140.0L261.9,138.4L262.0,138.8L262.1,137.4L262.2,137.9L262.3,137.7L262.4,135.2L262.5,139.1L262.6,138.9L262.7,138.9L262.8,138.5L262.9,136.5L263.0,137.4L263.1,139.0L263.2,136.4L263.3,138.3L263.4,137.1L263.5,139.0L263.6,137.1L263.7,137.8L263.8,137.3L263.9,137.2L264.0,138.3L264.1,137.5L264.2,137.6L264.3,138.1L264.4,137.3L264.5,139.0L264.6,137.8L264.7,137.5L264.8,136.7L264.9,136.9L265.0,139.3L265.1,138.0L265.2,138.2L265.3,137.7L265.4,136.7L265.5,137.2L265.6,138.4L265.7,135.8L265.8,138.0L265.9,136.9L266.0,138.3L266.1,136.0L266.2,137.1L266.3,137.7L266.4,137.7L266.5,137.1L266.6,136.1L266.7,136.9L266.8,135.9L266.9,136.9L267.0,136.5L267.1,137.7L267.2,137.1L267.3,135.7L267.4,137.3L267.5,135.9L267.6,137.4L267.7,136.7L267.8,135.5L267.9,137.2L268.0,135.6L268.1,136.9L268.2,138.6L268.3,137.3L268.4,135.7L268.5,137.5L268.6,134.6L268.7,134.6L268.8,134.5L268.9,134.6L269.0,133.4L269.1,137.2L269.2,140.3L269.3,137.8L269.4,137.6L269.5,137.8L269.6,138.1L269.7,137.1L269.8,137.2L269.9,137.1L270.0,125.0L270.1,125.1L270.2,124.8L270.3,124.9L270.4,125.8L270.5,126.7L270.6,138.4L270.7,138.5L270.8,137.1L270.9,138.2L271.0,136.1L271.1,136.0L271.2,137.0L271.3,137.1L271.4,138.4L271.5,136.7L271.6,137.1L271.7,136.9L271.8,135.9L271.9,136.5L272.0,137.2L272.1,136.7L272.2,137.4L272.3,138.8L272.4,137.2L272.5,136.4L272.6,137.2L272.7,139.7L272.8,138.0L272.9,136.7L273.0,136.7L273.1,137.8L273.2,136.4L273.3,138.2L273.4,138.0L273.5,136.2L273.6,137.3L273.7,138.6L273.8,137.4L273.9,137.1L274.0,137.8L274.1,138.6L274.2,137.4L274.3,137.0L274.4,136.4L274.5,137.5L274.6,136.6L274.7,136.3L274.8,135.1L274.9,137.2L275.0,136.2L275.1,137.5L275.2,136.7L275.3,138.5L275.4,136.2L275.5,137.3L275.6,137.9L275.7,136.4L275.8,140.2L275.9,132.7L276.0,125.0L276.1,125.3L276.2,125.4L276.3,126.0L276.4,124.9L276.5,124.8L276.6,135.9L276.7,138.5L276.8,132.2L276.9,132.2L277.0,132.2L277.1,132.1L277.2,132.4L277.3,133.2L277.4,131.6L277.5,132.6L277.6,132.4L277.7,133.4L277.8,138.7L277.9,138.7L278.0,139.7L278.1,138.1L278.2,137.9L278.3,140.6L278.4,138.3L278.5,138.7L278.6,137.7L278.7,137.1L278.8,139.1L278.9,138.1L279.0,138.1L279.1,139.2L279.2,137.9L279.3,139.0L279.4,137.9L279.5,140.2L279.6,138.4L279.7,138.1L279.8,138.1L279.9,138.1L280.0,138.2L280.1,138.6L280.2,138.0L280.3,138.4L280.4,138.2L280.5,139.9L280.6,136.2L280.7,139.1L280.8,138.2L280.9,137.8L281.0,138.6L281.1,138.4L281.2,139.2L281.3,138.7L281.4,136.8L281.5,136.9L281.6,138.3L281.7,139.5L281.8,137.8L281.9,137.7L282.0,137.7L282.1,125.9L282.2,125.6L282.3,137.4L282.4,138.2L282.5,136.4L282.6,137.3L282.7,137.3L282.8,139.2L282.9,136.4L283.0,138.2L283.1,138.4L283.2,137.4L283.3,138.3L283.4,138.2L283.5,137.5L283.6,138.4L283.7,138.3L283.8,138.3L283.9,138.1L284.0,138.5L284.1,136.9L284.2,136.2L284.3,136.5L284.4,138.6L284.5,138.1L284.6,136.7L284.7,138.1L284.8,138.5L284.9,139.0L285.0,137.9L285.1,136.6L285.2,135.8L285.3,137.8L285.4,137.9L285.5,138.7L285.6,137.8L285.7,135.9L285.8,137.6L285.9,137.0L286.0,135.4L286.1,137.5L286.2,137.2L286.3,138.1L286.4,138.4L286.5,137.6L286.6,136.7L286.7,138.4L286.8,138.5L286.9,136.6L287.0,124.6L287.1,125.6L287.2,125.8L287.3,127.1L287.4,125.1L287.5,126.5L287.6,138.1L287.7,138.8L287.8,138.8L287.9,137.0L288.0,138.2L288.1,136.7L288.2,137.0L288.3,137.3L288.4,137.7L288.5,138.1L288.6,138.4L288.7,138.0L288.8,137.5L288.9,136.7L289.0,139.1L289.1,138.1L289.2,137.8L289.3,137.4L289.4,135.9L289.5,138.5L289.6,135.6L289.7,137.1L289.8,137.1L289.9,138.2L290.0,137.8L290.1,138.5L290.2,138.3L290.3,138.8L290.4,125.4L290.5,126.1L290.6,125.5L290.7,125.3L290.8,124.2L290.9,125.7L291.0,126.7L291.1,125.1L291.2,125.7L291.3,124.3L291.4,125.7L291.5,123.4L291.6,125.3L291.7,125.6L291.8,125.1L291.9,125.8L292.0,137.8L292.1,137.7L292.2,133.5L292.3,133.9L292.4,132.9L292.5,137.6L292.6,137.7L292.7,136.1L292.8,138.2L292.9,136.4L293.0,136.2L293.1,136.7L293.2,137.7L293.3,138.2L293.4,139.2L293.5,137.6L293.6,135.1L293.7,137.4L293.8,138.6L293.9,137.5L294.0,125.7L294.1,125.1L294.2,125.3L294.3,125.0L294.4,125.8L294.5,124.0L294.6,124.6L294.7,123.3L294.8,126.4L294.9,125.2L295.0,136.9L295.1,136.3L295.2,137.8L295.3,138.6L295.4,136.6L295.5,136.6L295.6,137.7L295.7,138.4L295.8,129.1L295.9,128.6L296.0,128.1L296.1,137.9L296.2,139.5L296.3,137.0L296.4,138.8L296.5,137.7L296.6,137.0L296.7,138.6L296.8,136.2L296.9,130.4L297.0,128.8L297.1,129.7L297.2,136.2L297.3,136.9L297.4,137.2L297.5,125.8L297.6,126.2L297.7,124.4L297.8,126.1L297.9,124.9L298.0,125.3L298.1,126.1L298.2,125.5L298.3,126.2L298.4,124.9L298.5,136.6L298.6,124.2L298.7,137.8L298.8,137.9L298.9,139.8L299.0,136.4L299.1,136.7L299.2,139.2L299.3,137.0L299.4,136.8L299.5,137.7L299.6,138.1L299.7,137.2L299.8,139.3L299.9,136.5L300.0,137.3L300.1,137.3L300.2,131.0L300.3,130.1L300.4,130.2L300.5,129.9L300.6,129.9L300.7,131.0L300.8,129.8L300.9,129.1L301.0,124.3L301.1,124.5L301.2,126.4L301.3,125.5L301.4,125.3L301.5,125.4L301.6,124.6L301.7,125.2L301.8,124.7L301.9,125.2L302.0,125.1L302.1,124.6L302.2,138.5L302.3,137.7L302.4,137.5L302.5,137.4L302.6,138.2L302.7,137.0L302.8,138.1L302.9,137.5L303.0,139.2L303.1,139.8L303.2,138.3L303.3,138.2L303.4,137.8L303.5,138.5L303.6,137.2L303.7,125.1L303.8,136.8L303.9,138.0L304.0,137.6L304.1,136.8L304.2,136.7L304.3,137.4L304.4,138.1L304.5,136.2L304.6,131.5L304.7,131.8L304.8,130.5L304.9,136.6L305.0,136.6L305.1,137.0L305.2,136.3L305.3,138.0L305.4,137.4L305.5,124.7L305.6,125.4L305.7,138.9L305.8,137.1L305.9,137.0L306.0,138.5L306.1,138.0L306.2,137.9L306.3,137.5L306.4,137.0L306.5,136.4L306.6,135.7L306.7,136.3L306.8,136.1L306.9,135.9L307.0,136.7L307.1,138.2L307.2,138.1L307.3,137.7L307.4,130.0L307.5,131.4L307.6,137.5L307.7,137.8L307.8,136.7L307.9,138.3L308.0,139.0L308.1,138.7L308.2,137.9L308.3,138.2L308.4,138.7L308.5,139.7L308.6,136.5L308.7,138.3L308.8,128.0L308.9,128.1L309.0,129.8L309.1,128.6L309.2,137.7L309.3,138.4L309.4,138.3L309.5,137.9L309.6,137.8L309.7,136.7L309.8,137.0L309.9,137.2L310.0,136.7L310.1,138.0L310.2,138.2L310.3,137.2L310.4,140.2L310.5,136.7L310.6,125.6L310.7,137.6L310.8,139.9L310.9,137.5L311.0,136.6L311.1,138.8L311.2,139.6L311.3,138.5L311.4,137.6L311.5,138.2L311.6,138.3L311.7,138.0L311.8,138.5L311.9,138.5L312.0,138.4L312.1,137.9L312.2,139.2L312.3,139.0L312.4,138.8L312.5,138.7L312.6,139.0L312.7,138.3L312.8,139.2L312.9,136.1L313.0,139.4L313.1,137.7L313.2,139.1L313.3,137.6L313.4,138.2L313.5,138.4L313.6,136.4L313.7,138.2L313.8,138.2L313.9,139.6L314.0,137.9L314.1,136.1L314.2,137.8L314.3,137.0L314.4,137.9L314.5,137.8L314.6,137.4L314.7,136.8L314.8,137.1L314.9,136.6L315.0,136.8L315.1,137.9L315.2,136.8L315.3,138.8L315.4,137.8L315.5,137.4L315.6,138.1L315.7,137.5L315.8,139.2L315.9,139.5L316.0,136.9L316.1,137.5L316.2,138.5L316.3,132.7L316.4,137.4L316.5,140.4L316.6,137.2L316.7,138.5L316.8,138.4L316.9,138.1L317.0,136.4L317.1,136.4L317.2,138.4L317.3,138.5L317.4,136.8L317.5,137.3L317.6,137.5L317.7,138.7L317.8,137.0L317.9,136.3L318.0,136.8L318.1,137.5L318.2,136.2L318.3,135.5L318.4,138.5L318.5,137.5L318.6,137.7L318.7,137.3L318.8,138.4L318.9,136.2L319.0,137.1L319.1,138.0L319.2,136.9L319.3,137.5L319.4,136.1L319.5,137.7L319.6,136.7L319.7,138.8L319.8,137.6L319.9,138.5L320.0,125.4L320.1,125.1L320.2,124.7L320.3,126.4L320.4,124.3L320.5,125.5L320.6,126.3L320.7,125.3L320.8,138.2L320.9,137.8L321.0,136.8L321.1,138.0L321.2,137.8L321.3,136.8L321.4,137.6L321.5,136.2L321.6,137.3L321.7,135.5L321.8,138.7L321.9,137.5L322.0,137.3L322.1,137.1L322.2,139.6L322.3,137.0L322.4,139.2L322.5,137.6L322.6,137.9L322.7,136.7L322.8,139.5L322.9,137.1L323.0,136.6L323.1,137.8L323.2,136.5L323.3,137.4L323.4,136.4L323.5,135.9L323.6,139.5L323.7,137.6L323.8,137.9L323.9,138.5L324.0,136.4L324.1,137.4L324.2,137.7L324.3,138.0L324.4,139.5L324.5,138.6L324.6,137.1L324.7,137.2L324.8,138.6L324.9,137.1L325.0,136.8L325.1,137.4L325.2,137.4L325.3,138.3L325.4,138.3L325.5,138.2L325.6,137.6L325.7,139.0L325.8,137.5L325.9,139.4L326.0,124.7L326.1,124.9L326.2,124.7L326.3,125.9L326.4,124.5L326.5,126.7L326.6,124.5L326.7,125.4L326.8,124.4L326.9,125.6L327.0,126.3L327.1,124.4L327.2,137.9L327.3,136.9L327.4,136.4L327.5,138.6L327.6,134.5L327.7,134.3L327.8,137.9L327.9,137.5L328.0,140.1L328.1,138.6L328.2,136.6L328.3,138.6L328.4,137.8L328.5,138.9L328.6,138.1L328.7,138.1L328.8,135.1L328.9,138.5L329.0,138.1L329.1,137.9L329.2,136.9L329.3,136.6L329.4,137.0L329.5,136.4L329.6,136.9L329.7,134.9L329.8,135.8L329.9,135.3L330.0,138.1L330.1,136.9L330.2,140.2L330.3,138.5L330.4,139.4L330.5,138.4L330.6,138.0L330.7,137.8L330.8,137.3L330.9,136.9L331.0,137.1L331.1,137.4L331.2,137.5L331.3,138.1L331.4,137.5L331.5,135.1L331.6,136.1L331.7,138.9L331.8,138.2L331.9,138.4L332.0,136.8L332.1,137.1L332.2,137.2L332.3,135.6L332.4,137.4L332.5,135.4L332.6,136.0L332.7,135.0L332.8,135.7L332.9,134.8L333.0,125.4L333.1,125.2L333.2,124.9L333.3,125.8L333.4,124.9L333.5,124.9L333.6,125.7L333.7,126.2L333.8,125.7L333.9,125.4L334.0,126.8L334.1,126.0L334.2,124.7L334.3,125.0L334.4,125.6L334.5,138.2L334.6,136.0L334.7,137.4L334.8,137.6L334.9,136.4L335.0,137.0L335.1,137.0L335.2,137.9L335.3,137.2L335.4,136.8L335.5,137.6L335.6,136.1L335.7,138.8L335.8,136.8L335.9,138.5L336.0,136.7L336.1,138.7L336.2,137.4L336.3,137.5L336.4,129.7L336.5,129.3L336.6,130.5L336.7,128.7L336.8,138.7L336.9,137.9L337.0,137.8L337.1,138.1L337.2,138.4L337.3,138.0L337.4,137.2L337.5,136.9L337.6,136.2L337.7,138.4L337.8,136.8L337.9,135.9L338.0,139.8L338.1,138.1L338.2,134.0L338.3,134.0L338.4,134.2L338.5,135.1L338.6,137.0L338.7,138.1L338.8,137.6L338.9,138.0L339.0,138.8L339.1,137.5L339.2,136.5L339.3,137.1L339.4,136.6L339.5,137.2L339.6,137.4L339.7,139.2L339.8,137.2L339.9,137.2L340.0,123.2L340.1,125.3L340.2,125.1L340.3,125.4L340.4,127.4L340.5,125.2L340.6,126.3L340.7,125.6L340.8,125.0L340.9,125.4L341.0,125.8L341.1,125.8L341.2,139.1L341.3,137.0L341.4,131.4L341.5,131.0L341.6,132.2L341.7,130.1L341.8,131.8L341.9,131.1L342.0,130.4L342.1,138.1L342.2,138.1L342.3,125.3L342.4,124.9L342.5,125.0L342.6,124.8L342.7,125.5L342.8,137.8L342.9,137.1L343.0,125.0L343.1,124.9L343.2,125.6L343.3,139.4L343.4,138.7L343.5,139.1L343.6,137.9L343.7,138.2L343.8,137.7L343.9,138.8L344.0,124.6L344.1,126.0L344.2,125.8L344.3,125.9L344.4,124.2L344.5,125.7L344.6,125.4L344.7,126.0L344.8,137.4L344.9,138.8L345.0,136.4L345.1,137.7L345.2,138.3L345.3,138.0L345.4,137.8L345.5,138.2L345.6,136.0L345.7,128.0L345.8,138.3L345.9,136.0L346.0,137.9L346.1,138.3L346.2,137.0L346.3,137.4L346.4,138.3L346.5,137.1L346.6,138.1L346.7,136.9L346.8,137.3L346.9,137.2L347.0,135.5L347.1,135.8L347.2,137.6L347.3,137.5L347.4,136.5L347.5,136.7L347.6,137.5L347.7,137.9L347.8,138.0L347.9,136.5L348.0,137.8L348.1,135.7L348.2,129.2L348.3,129.1L348.4,130.7L348.5,131.0L348.6,128.8L348.7,131.8L348.8,128.3L348.9,137.6L349.0,137.8L349.1,138.3L349.2,138.8L349.3,137.9L349.4,137.3L349.5,125.1L349.6,125.1L349.7,125.8L349.8,124.9L349.9,124.9L350.0,125.4L350.1,125.4L350.2,124.6L350.3,126.2L350.4,125.8L350.5,125.2L350.6,125.4L350.7,125.1L350.8,124.6L350.9,125.4L351.0,126.6L351.1,125.0L351.2,137.5L351.3,137.0L351.4,137.8L351.5,136.7L351.6,138.6L351.7,137.2L351.8,136.4L351.9,136.6L352.0,138.8L352.1,137.1L352.2,138.1L352.3,139.3L352.4,137.3L352.5,137.3L352.6,139.9L352.7,134.8L352.8,137.6L352.9,137.1L353.0,138.1L353.1,136.6L353.2,137.2L353.3,136.8L353.4,138.3L353.5,136.4L353.6,138.5L353.7,136.0L353.8,138.6L353.9,138.4L354.0,134.3L354.1,134.6L354.2,134.0L354.3,136.2L354.4,137.3L354.5,137.0L354.6,138.2L354.7,138.6L354.8,137.1L354.9,136.5L355.0,138.7L355.1,139.0L355.2,136.2L355.3,137.7L355.4,138.2L355.5,138.5L355.6,133.8L355.7,133.8L355.8,138.0L355.9,136.6L356.0,138.0L356.1,138.0L356.2,137.1L356.3,138.3L356.4,137.9L356.5,137.3L356.6,137.5L356.7,138.4L356.8,137.7L356.9,137.1L357.0,126.2L357.1,124.9L357.2,125.2L357.3,125.2L357.4,125.2L357.5,124.1L357.6,126.4L357.7,124.9L357.8,126.8L357.9,125.7L358.0,125.2L358.1,125.4L358.2,133.9L358.3,134.4L358.4,137.9L358.5,136.9L358.6,137.7L358.7,137.2L358.8,139.3L358.9,137.4L359.0,135.6L359.1,140.5L359.2,137.0L359.3,137.9L359.4,136.4L359.5,137.6L359.6,135.7L359.7,138.5L359.8,137.5L359.9,135.2" fill="none" stroke="#1a1a1a" stroke-width="0.60" stroke-linejoin="round"/>
<path d="M110.0,165.2L110.1,167.5L110.2,167.2L110.3,168.3L110.4,168.0L110.5,166.9L110.6,168.8L110.7,166.9L110.8,166.7L110.9,166.4L111.0,166.9L111.1,165.3L111.2,167.3L111.3,167.5L111.4,166.7L111.5,166.2L111.6,165.7L111.7,165.7L111.8,165.8L111.9,167.7L112.0,166.8L112.1,168.2L112.2,167.1L112.3,167.6L112.4,166.3L112.5,166.5L112.6,167.9L112.7,168.3L112.8,168.6L112.9,168.6L113.0,166.2L113.1,166.5L113.2,165.3L113.3,166.8L113.4,166.5L113.5,166.8L113.6,166.2L113.7,168.1L113.8,167.5L113.9,167.9L114.0,167.9L114.1,165.8L114.2,165.2L114.3,166.6L114.4,167.8L114.5,167.6L114.6,166.5L114.7,165.7L114.8,165.9L114.9,165.7L115.0,166.5L115.1,165.1L115.2,166.5L115.3,166.9L115.4,164.5L115.5,166.3L115.6,168.0L115.7,166.0L115.8,168.1L115.9,168.9L116.0,167.5L116.1,167.5L116.2,167.6L116.3,166.1L116.4,168.8L116.5,166.9L116.6,165.7L116.7,168.4L116.8,167.8L116.9,166.5L117.0,167.8L117.1,168.2L117.2,166.1L117.3,167.2L117.4,167.1L117.5,167.6L117.6,167.1L117.7,166.1L117.8,166.4L117.9,167.9L118.0,168.3L118.1,168.8L118.2,167.6L118.3,166.2L118.4,165.2L118.5,167.4L118.6,167.5L118.7,168.1L118.8,167.7L118.9,166.7L119.0,166.9L119.1,167.8L119.2,167.2L119.3,164.9L119.4,166.9L119.5,166.8L119.6,168.0L119.7,167.4L119.8,166.3L119.9,166.9L120.0,165.7L120.1,165.4L120.2,167.7L120.3,166.5L120.4,166.5L120.5,167.3L120.6,167.8L120.7,165.5L120.8,166.5L120.9,165.9L121.0,167.2L121.1,166.9L121.2,166.2L121.3,166.1L121.4,166.1L121.5,166.6L121.6,166.7L121.7,166.5L121.8,166.3L121.9,165.7L122.0,167.8L122.1,166.3L122.2,166.5L122.3,168.1L122.4,166.8L122.5,165.8L122.6,166.3L122.7,165.7L122.8,167.1L122.9,168.5L123.0,166.9L123.1,168.2L123.2,167.4L123.3,166.4L123.4,166.6L123.5,167.2L123.6,167.4L123.7,167.4L123.8,166.7L123.9,165.7L124.0,167.9L124.1,167.1L124.2,167.5L124.3,167.3L124.4,165.3L124.5,166.6L124.6,166.3L124.7,167.0L124.8,165.9L124.9,165.8L125.0,167.8L125.1,167.5L125.2,166.1L125.3,167.3L125.4,168.4L125.5,167.4L125.6,170.4L125.7,168.9L125.8,169.0L125.9,168.6L126.0,167.9L126.1,167.3L126.2,167.4L126.3,166.4L126.4,165.9L126.5,164.9L126.6,165.9L126.7,167.5L126.8,166.0L126.9,166.4L127.0,166.3L127.1,167.7L127.2,166.7L127.3,166.1L127.4,167.2L127.5,166.2L127.6,167.5L127.7,167.6L127.8,167.3L127.9,167.3L128.0,166.4L128.1,166.4L128.2,166.6L128.3,168.5L128.4,168.1L128.5,166.8L128.6,167.0L128.7,165.2L128.8,165.9L128.9,165.9L129.0,167.1L129.1,166.9L129.2,166.4L129.3,166.9L129.4,167.0L129.5,166.8L129.6,167.0L129.7,165.6L129.8,166.9L129.9,168.5L130.0,164.9L130.1,166.6L130.2,166.4L130.3,166.5L130.4,165.6L130.5,166.9L130.6,166.9L130.7,166.9L130.8,168.1L130.9,167.2L131.0,166.3L131.1,167.0L131.2,167.7L131.3,167.3L131.4,168.1L131.5,165.7L131.6,167.8L131.7,166.6L131.8,166.6L131.9,167.2L132.0,167.8L132.1,166.6L132.2,168.2L132.3,167.2L132.4,166.3L132.5,166.2L132.6,169.7L132.7,167.3L132.8,168.1L132.9,166.5L133.0,166.1L133.1,165.4L133.2,166.5L133.3,165.3L133.4,165.3L133.5,165.6L133.6,165.0L133.7,166.8L133.8,167.2L133.9,167.2L134.0,167.5L134.1,167.2L134.2,165.1L134.3,166.8L134.4,165.4L134.5,166.6L134.6,166.6L134.7,167.2L134.8,167.5L134.9,166.6L135.0,166.0L135.1,165.4L135.2,166.0L135.3,165.5L135.4,166.5L135.5,167.1L135.6,167.7L135.7,169.1L135.8,166.7L135.9,167.2L136.0,166.6L136.1,165.8L136.2,167.6L136.3,165.8L136.4,165.9L136.5,166.8L136.6,166.1L136.7,167.3L136.8,165.3L136.9,167.1L137.0,167.6L137.1,168.0L137.2,167.4L137.3,166.7L137.4,167.5L137.5,167.3L137.6,166.1L137.7,167.0L137.8,166.5L137.9,166.1L138.0,166.3L138.1,165.9L138.2,167.7L138.3,167.6L138.4,167.9L138.5,167.0L138.6,167.5L138.7,167.5L138.8,166.5L138.9,166.4L139.0,167.9L139.1,168.5L139.2,166.3L139.3,167.3L139.4,168.0L139.5,168.1L139.6,166.7L139.7,167.9L139.8,167.2L139.9,166.9L140.0,167.2L140.1,168.1L140.2,166.2L140.3,167.2L140.4,166.6L140.5,166.3L140.6,167.5L140.7,167.0L140.8,167.1L140.9,168.6L141.0,166.6L141.1,168.5L141.2,167.6L141.3,167.7L141.4,166.8L141.5,166.5L141.6,166.9L141.7,167.1L141.8,167.1L141.9,166.9L142.0,167.1L142.1,167.1L142.2,166.2L142.3,168.4L142.4,166.7L142.5,168.5L142.6,168.3L142.7,168.3L142.8,166.2L142.9,167.0L143.0,165.8L143.1,167.0L143.2,167.5L143.3,168.3L143.4,167.8L143.5,167.4L143.6,167.5L143.7,166.5L143.8,167.4L143.9,166.9L144.0,167.1L144.1,168.4L144.2,167.6L144.3,166.8L144.4,167.3L144.5,168.2L144.6,168.6L144.7,168.3L144.8,167.1L144.9,167.7L145.0,166.3L145.1,167.2L145.2,165.0L145.3,167.4L145.4,166.7L145.5,166.6L145.6,165.9L145.7,168.0L145.8,167.2L145.9,167.2L146.0,167.2L146.1,167.9L146.2,165.0L146.3,168.7L146.4,166.1L146.5,167.0L146.6,166.7L146.7,168.3L146.8,167.6L146.9,168.4L147.0,166.9L147.1,167.0L147.2,169.3L147.3,167.2L147.4,167.2L147.5,168.6L147.6,167.0L147.7,168.6L147.8,166.3L147.9,167.9L148.0,166.3L148.1,166.9L148.2,166.9L148.3,165.1L148.4,167.1L148.5,166.7L148.6,167.4L148.7,167.4L148.8,166.0L148.9,167.3L149.0,167.3L149.1,168.3L149.2,167.5L149.3,165.6L149.4,166.0L149.5,167.5L149.6,167.7L149.7,167.4L149.8,167.8L149.9,167.1L150.0,167.6L150.1,168.3L150.2,164.7L150.3,169.0L150.4,168.5L150.5,168.4L150.6,168.3L150.7,168.1L150.8,165.9L150.9,166.5L151.0,166.8L151.1,165.1L151.2,166.1L151.3,166.3L151.4,167.6L151.5,166.1L151.6,164.8L151.7,166.2L151.8,166.4L151.9,168.3L152.0,167.2L152.1,166.4L152.2,166.0L152.3,167.8L152.4,165.7L152.5,167.0L152.6,168.9L152.7,167.7L152.8,166.9L152.9,168.0L153.0,168.0L153.1,169.1L153.2,168.3L153.3,166.1L153.4,167.0L153.5,168.3L153.6,166.5L153.7,167.9L153.8,166.5L153.9,166.5L154.0,167.2L154.1,166.1L154.2,168.1L154.3,166.8L154.4,167.8L154.5,167.0L154.6,167.9L154.7,166.7L154.8,166.9L154.9,166.5L155.0,167.2L155.1,167.7L155.2,169.3L155.3,167.9L155.4,166.8L155.5,165.5L155.6,166.7L155.7,167.2L155.8,167.1L155.9,168.2L156.0,167.4L156.1,167.2L156.2,164.9L156.3,166.5L156.4,166.4L156.5,166.8L156.6,166.0L156.7,167.8L156.8,167.2L156.9,165.1L157.0,167.2L157.1,166.2L157.2,166.0L157.3,165.5L157.4,166.9L157.5,165.8L157.6,166.6L157.7,165.4L157.8,166.5L157.9,166.8L158.0,167.3L158.1,167.6L158.2,167.5L158.3,167.0L158.4,167.7L158.5,167.7L158.6,169.0L158.7,169.8L158.8,168.8L158.9,167.6L159.0,166.6L159.1,166.6L159.2,168.3L159.3,165.8L159.4,168.2L159.5,166.2L159.6,168.4L159.7,167.3L159.8,165.4L159.9,167.0L160.0,167.2L160.1,166.5L160.2,167.6L160.3,168.6L160.4,167.8L160.5,167.5L160.6,167.0L160.7,166.7L160.8,167.2L160.9,166.1L161.0,166.1L161.1,166.5L161.2,166.1L161.3,166.3L161.4,166.2L161.5,165.5L161.6,166.4L161.7,166.1L161.8,166.4L161.9,165.9L162.0,166.7L162.1,167.0L162.2,167.4L162.3,168.3L162.4,167.8L162.5,166.0L162.6,166.3L162.7,168.8L162.8,165.4L162.9,167.6L163.0,165.4L163.1,167.2L163.2,166.9L163.3,168.3L163.4,167.3L163.5,166.4L163.6,166.0L163.7,166.6L163.8,168.1L163.9,166.5L164.0,165.9L164.1,165.8L164.2,166.7L164.3,165.4L164.4,167.5L164.5,169.1L164.6,166.8L164.7,167.9L164.8,165.9L164.9,166.1L165.0,166.6L165.1,166.1L165.2,165.1L165.3,166.1L165.4,166.5L165.5,167.7L165.6,167.4L165.7,166.4L165.8,167.7L165.9,166.7L166.0,166.1L166.1,167.8L166.2,166.2L166.3,167.5L166.4,165.3L166.5,168.0L166.6,166.7L166.7,166.7L166.8,165.5L166.9,166.7L167.0,164.9L167.1,164.8L167.2,166.0L167.3,167.5L167.4,167.5L167.5,166.4L167.6,165.1L167.7,166.1L167.8,168.4L167.9,168.5L168.0,167.3L168.1,166.4L168.2,168.1L168.3,167.3L168.4,166.8L168.5,166.9L168.6,166.8L168.7,166.4L168.8,166.1L168.9,167.1L169.0,165.9L169.1,166.8L169.2,165.4L169.3,167.1L169.4,165.8L169.5,166.4L169.6,166.4L169.7,166.6L169.8,168.2L169.9,168.3L170.0,168.0L170.1,167.0L170.2,167.5L170.3,166.5L170.4,167.0L170.5,165.8L170.6,166.6L170.7,164.9L170.8,164.8L170.9,166.5L171.0,166.9L171.1,168.4L171.2,166.5L171.3,166.4L171.4,166.6L171.5,168.2L171.6,166.3L171.7,165.3L171.8,167.7L171.9,167.2L172.0,167.2L172.1,167.5L172.2,165.9L172.3,165.7L172.4,166.6L172.5,165.4L172.6,166.6L172.7,169.0L172.8,166.6L172.9,168.3L173.0,167.7L173.1,166.0L173.2,167.7L173.3,167.1L173.4,166.4L173.5,164.8L173.6,166.9L173.7,165.2L173.8,167.6L173.9,166.0L174.0,166.9L174.1,167.6L174.2,166.7L174.3,167.4L174.4,169.1L174.5,167.6L174.6,167.5L174.7,168.2L174.8,167.4L174.9,166.3L175.0,167.8L175.1,167.2L175.2,167.6L175.3,166.9L175.4,166.6L175.5,166.2L175.6,168.9L175.7,168.0L175.8,167.9L175.9,168.8L176.0,166.8L176.1,167.6L176.2,167.3L176.3,166.3L176.4,166.6L176.5,166.0L176.6,164.9L176.7,167.3L176.8,166.3L176.9,167.2L177.0,168.1L177.1,168.2L177.2,168.0L177.3,168.2L177.4,167.3L177.5,167.1L177.6,166.9L177.7,166.4L177.8,164.5L177.9,167.1L178.0,165.9L178.1,167.3L178.2,167.5L178.3,165.6L178.4,168.3L178.5,165.1L178.6,166.7L178.7,167.3L178.8,167.0L178.9,168.2L179.0,166.6L179.1,167.3L179.2,167.1L179.3,166.7L179.4,168.2L179.5,167.5L179.6,166.5L179.7,169.4L179.8,166.5L179.9,166.9L180.0,168.0L180.1,165.6L180.2,166.4L180.3,165.3L180.4,166.8L180.5,166.5L180.6,165.7L180.7,166.1L180.8,165.7L180.9,167.3L181.0,166.9L181.1,168.5L181.2,167.2L181.3,166.2L181.4,166.3L181.5,167.1L181.6,167.2L181.7,167.4L181.8,167.7L181.9,166.8L182.0,166.8L182.1,168.4L182.2,167.2L182.3,166.9L182.4,167.5L182.5,166.5L182.6,166.4L182.7,167.1L182.8,167.5L182.9,167.1L183.0,166.4L183.1,166.4L183.2,164.8L183.3,165.2L183.4,166.0L183.5,165.7L183.6,165.3L183.7,167.5L183.8,166.8L183.9,166.3L184.0,166.4L184.1,165.4L184.2,167.2L184.3,167.0L184.4,167.1L184.5,166.5L184.6,166.3L184.7,167.4L184.8,165.5L184.9,166.3L185.0,167.8L185.1,166.6L185.2,165.6L185.3,166.4L185.4,167.8L185.5,168.7L185.6,165.8L185.7,167.1L185.8,165.9L185.9,167.0L186.0,167.0L186.1,166.9L186.2,166.4L186.3,165.7L186.4,166.1L186.5,165.3L186.6,166.2L186.7,167.3L186.8,168.4L186.9,167.5L187.0,167.7L187.1,165.6L187.2,166.4L187.3,165.2L187.4,166.2L187.5,166.2L187.6,167.0L187.7,167.7L187.8,168.0L187.9,166.1L188.0,167.7L188.1,167.3L188.2,166.0L188.3,167.9L188.4,166.7L188.5,166.0L188.6,167.2L188.7,166.7L188.8,166.7L188.9,166.3L189.0,166.6L189.1,168.4L189.2,167.3L189.3,168.2L189.4,167.4L189.5,168.5L189.6,167.7L189.7,167.4L189.8,167.2L189.9,168.7L190.0,167.6L190.1,167.6L190.2,167.0L190.3,166.1L190.4,166.2L190.5,165.9L190.6,165.4L190.7,165.9L190.8,166.3L190.9,165.5L191.0,168.3L191.1,166.8L191.2,167.2L191.3,165.7L191.4,166.0L191.5,168.1L191.6,168.9L191.7,167.7L191.8,167.8L191.9,168.4L192.0,166.4L192.1,165.9L192.2,166.0L192.3,166.9L192.4,167.5L192.5,168.9L192.6,167.0L192.7,168.0L192.8,169.1L192.9,167.5L193.0,168.8L193.1,167.1L193.2,167.8L193.3,166.4L193.4,166.4L193.5,166.7L193.6,167.1L193.7,167.0L193.8,166.8L193.9,166.4L194.0,166.9L194.1,167.4L194.2,167.0L194.3,167.1L194.4,167.2L194.5,167.2L194.6,165.5L194.7,168.0L194.8,167.7L194.9,167.7L195.0,167.2L195.1,166.8L195.2,166.5L195.3,164.2L195.4,166.1L195.5,166.1L195.6,167.7L195.7,166.6L195.8,169.9L195.9,167.1L196.0,167.5L196.1,166.1L196.2,166.2L196.3,164.2L196.4,165.6L196.5,165.8L196.6,166.5L196.7,167.4L196.8,165.2L196.9,168.0L197.0,166.3L197.1,165.2L197.2,166.5L197.3,167.2L197.4,166.2L197.5,165.4L197.6,166.1L197.7,166.0L197.8,166.2L197.9,167.6L198.0,168.7L198.1,168.6L198.2,166.5L198.3,168.8L198.4,167.5L198.5,167.7L198.6,166.0L198.7,166.7L198.8,166.3L198.9,165.8L199.0,167.1L199.1,166.3L199.2,167.2L199.3,167.7L199.4,166.3L199.5,167.4L199.6,167.9L199.7,165.0L199.8,165.3L199.9,166.6L200.0,166.0L200.1,167.0L200.2,166.4L200.3,167.4L200.4,164.8L200.5,167.3L200.6,166.2L200.7,164.6L200.8,167.1L200.9,165.8L201.0,169.1L201.1,165.9L201.2,167.3L201.3,165.0L201.4,165.7L201.5,166.1L201.6,167.0L201.7,166.1L201.8,166.5L201.9,166.6L202.0,166.7L202.1,168.9L202.2,167.2L202.3,165.5L202.4,165.6L202.5,166.4L202.6,166.9L202.7,166.2L202.8,166.1L202.9,166.0L203.0,167.4L203.1,166.0L203.2,167.0L203.3,168.0L203.4,165.3L203.5,167.8L203.6,168.3L203.7,165.7L203.8,165.9L203.9,166.0L204.0,167.7L204.1,167.5L204.2,166.8L204.3,166.4L204.4,168.2L204.5,166.7L204.6,167.4L204.7,167.4L204.8,166.1L204.9,165.7L205.0,166.7L205.1,167.2L205.2,166.7L205.3,167.1L205.4,167.1L205.5,165.9L205.6,169.2L205.7,167.8L205.8,169.1L205.9,168.7L206.0,168.8L206.1,166.8L206.2,167.6L206.3,168.5L206.4,168.3L206.5,166.1L206.6,166.6L206.7,167.4L206.8,166.4L206.9,165.7L207.0,167.1L207.1,166.4L207.2,165.9L207.3,166.3L207.4,167.8L207.5,166.4L207.6,165.9L207.7,168.5L207.8,166.3L207.9,166.0L208.0,166.7L208.1,167.4L208.2,166.0L208.3,167.2L208.4,167.3L208.5,167.0L208.6,166.6L208.7,167.4L208.8,165.0L208.9,167.3L209.0,165.7L209.1,166.3L209.2,165.8L209.3,167.3L209.4,168.2L209.5,166.3L209.6,167.7L209.7,165.1L209.8,167.2L209.9,167.5L210.0,167.8L210.1,166.4L210.2,167.3L210.3,168.4L210.4,167.2L210.5,166.2L210.6,165.3L210.7,165.8L210.8,165.7L210.9,164.7L211.0,165.7L211.1,166.3L211.2,166.7L211.3,168.5L211.4,167.6L211.5,167.5L211.6,165.8L211.7,165.2L211.8,168.4L211.9,165.8L212.0,166.5L212.1,166.2L212.2,165.4L212.3,166.1L212.4,166.7L212.5,166.2L212.6,167.1L212.7,166.7L212.8,166.9L212.9,166.7L213.0,166.1L213.1,167.0L213.2,166.6L213.3,166.9L213.4,166.9L213.5,166.2L213.6,168.0L213.7,165.8L213.8,166.6L213.9,168.1L214.0,165.8L214.1,166.0L214.2,166.4L214.3,167.1L214.4,167.0L214.5,167.4L214.6,167.8L214.7,167.5L214.8,166.0L214.9,165.1L215.0,166.4L215.1,166.8L215.2,167.1L215.3,168.2L215.4,166.3L215.5,167.3L215.6,167.4L215.7,165.9L215.8,167.6L215.9,167.8L216.0,167.8L216.1,167.3L216.2,166.8L216.3,164.4L216.4,165.6L216.5,166.1L216.6,166.5L216.7,165.7L216.8,163.9L216.9,167.6L217.0,165.9L217.1,165.5L217.2,167.0L217.3,165.3L217.4,167.7L217.5,163.3L217.6,165.3L217.7,165.1L217.8,166.1L217.9,167.7L218.0,165.5L218.1,165.8L218.2,166.8L218.3,166.1L218.4,166.5L218.5,165.8L218.6,166.5L218.7,166.2L218.8,167.1L218.9,166.1L219.0,166.8L219.1,166.4L219.2,166.5L219.3,167.5L219.4,168.0L219.5,167.7L219.6,168.3L219.7,168.0L219.8,166.1L219.9,165.2L220.0,166.1L220.1,165.6L220.2,166.8L220.3,165.3L220.4,165.6L220.5,167.6L220.6,166.8L220.7,166.9L220.8,166.6L220.9,166.3L221.0,168.0L221.1,166.9L221.2,166.6L221.3,167.9L221.4,167.8L221.5,167.2L221.6,166.8L221.7,166.3L221.8,166.8L221.9,166.0L222.0,166.9L222.1,167.8L222.2,166.6L222.3,166.4L222.4,165.1L222.5,166.3L222.6,166.8L222.7,165.2L222.8,167.2L222.9,165.9L223.0,166.9L223.1,166.4L223.2,168.8L223.3,167.3L223.4,166.0L223.5,166.2L223.6,168.6L223.7,166.6L223.8,166.1L223.9,167.1L224.0,168.3L224.1,167.5L224.2,167.1L224.3,166.6L224.4,165.7L224.5,166.5L224.6,167.0L224.7,167.7L224.8,166.5L224.9,166.7L225.0,167.0L225.1,167.9L225.2,167.0L225.3,168.6L225.4,168.4L225.5,168.7L225.6,167.9L225.7,167.1L225.8,167.6L225.9,167.5L226.0,166.2L226.1,166.2L226.2,166.4L226.3,167.8L226.4,166.5L226.5,166.3L226.6,165.8L226.7,167.8L226.8,166.8L226.9,168.5L227.0,166.8L227.1,167.8L227.2,167.2L227.3,167.3L227.4,167.7L227.5,165.8L227.6,166.6L227.7,167.2L227.8,166.4L227.9,165.6L228.0,165.0L228.1,165.7L228.2,167.2L228.3,166.8L228.4,166.7L228.5,168.2L228.6,167.8L228.7,168.5L228.8,167.8L228.9,166.7L229.0,167.4L229.1,167.3L229.2,167.2L229.3,165.5L229.4,167.4L229.5,167.6L229.6,166.0L229.7,167.9L229.8,166.6L229.9,164.6L230.0,165.2L230.1,165.8L230.2,167.7L230.3,166.1L230.4,167.5L230.5,167.8L230.6,165.2L230.7,167.7L230.8,166.1L230.9,165.7L231.0,168.1L231.1,168.1L231.2,166.3L231.3,167.3L231.4,167.0L231.5,167.4L231.6,166.6L231.7,165.8L231.8,165.9L231.9,164.8L232.0,166.9L232.1,164.3L232.2,166.2L232.3,166.4L232.4,167.2L232.5,168.0L232.6,165.9L232.7,167.2L232.8,165.1L232.9,166.2L233.0,168.2L233.1,166.6L233.2,166.6L233.3,166.5L233.4,166.3L233.5,167.4L233.6,168.2L233.7,168.4L233.8,167.7L233.9,168.9L234.0,168.7L234.1,167.4L234.2,169.1L234.3,166.9L234.4,166.3L234.5,168.6L234.6,168.0L234.7,164.9L234.8,166.4L234.9,166.3L235.0,167.2L235.1,166.5L235.2,166.1L235.3,166.4L235.4,168.8L235.5,168.0L235.6,167.2L235.7,165.6L235.8,166.7L235.9,167.0L236.0,166.6L236.1,166.0L236.2,165.1L236.3,166.2L236.4,167.1L236.5,166.7L236.6,165.7L236.7,165.1L236.8,166.4L236.9,166.4L237.0,168.8L237.1,167.4L237.2,165.8L237.3,167.0L237.4,166.7L237.5,168.4L237.6,166.6L237.7,167.0L237.8,166.7L237.9,167.9L238.0,167.7L238.1,166.7L238.2,166.1L238.3,165.5L238.4,168.4L238.5,168.4L238.6,166.0L238.7,166.6L238.8,167.7L238.9,167.4L239.0,166.8L239.1,166.1L239.2,166.6L239.3,168.1L239.4,167.0L239.5,167.7L239.6,165.7L239.7,166.9L239.8,166.9L239.9,167.6L240.0,166.8L240.1,167.3L240.2,166.6L240.3,168.3L240.4,167.9L240.5,168.0L240.6,166.5L240.7,166.9L240.8,168.0L240.9,167.7L241.0,167.4L241.1,166.6L241.2,166.5L241.3,165.7L241.4,167.4L241.5,167.0L241.6,167.8L241.7,165.8L241.8,165.7L241.9,167.7L242.0,166.9L242.1,166.9L242.2,167.6L242.3,166.1L242.4,166.1L242.5,166.9L242.6,166.5L242.7,166.4L242.8,167.2L242.9,166.1L243.0,166.6L243.1,166.2L243.2,167.0L243.3,167.4L243.4,165.8L243.5,166.8L243.6,168.9L243.7,166.8L243.8,167.5L243.9,166.9L244.0,166.3L244.1,168.0L244.2,167.3L244.3,166.1L244.4,165.3L244.5,167.4L244.6,167.6L244.7,167.2L244.8,166.9L244.9,167.1L245.0,166.7L245.1,166.4L245.2,167.7L245.3,166.2L245.4,165.8L245.5,165.9L245.6,166.5L245.7,166.4L245.8,165.8L245.9,165.6L246.0,166.7L246.1,167.3L246.2,168.2L246.3,167.9L246.4,167.0L246.5,167.0L246.6,167.1L246.7,166.2L246.8,168.4L246.9,166.5L247.0,166.8L247.1,166.8L247.2,165.6L247.3,165.5L247.4,166.3L247.5,167.1L247.6,167.6L247.7,167.2L247.8,167.7L247.9,167.4L248.0,168.1L248.1,168.1L248.2,165.3L248.3,166.9L248.4,166.5L248.5,166.6L248.6,165.3L248.7,166.9L248.8,166.7L248.9,166.4L249.0,166.0L249.1,166.5L249.2,166.5L249.3,166.1L249.4,166.7L249.5,167.7L249.6,167.1L249.7,166.5L249.8,166.0L249.9,166.3L250.0,168.4L250.1,166.2L250.2,167.5L250.3,167.0L250.4,165.8L250.5,164.8L250.6,165.2L250.7,166.2L250.8,166.5L250.9,167.7L251.0,167.5L251.1,165.9L251.2,165.9L251.3,167.0L251.4,166.5L251.5,164.8L251.6,167.1L251.7,166.8L251.8,166.9L251.9,166.9L252.0,166.8L252.1,166.9L252.2,167.4L252.3,167.8L252.4,167.7L252.5,165.0L252.6,167.3L252.7,167.4L252.8,168.2L252.9,168.6L253.0,167.0L253.1,167.6L253.2,168.5L253.3,169.1L253.4,168.1L253.5,167.3L253.6,167.4L253.7,168.0L253.8,167.4L253.9,167.7L254.0,168.2L254.1,168.6L254.2,168.4L254.3,168.4L254.4,168.3L254.5,166.3L254.6,167.1L254.7,167.1L254.8,167.6L254.9,167.1L255.0,166.0L255.1,165.7L255.2,166.8L255.3,167.9L255.4,166.7L255.5,166.8L255.6,168.3L255.7,166.6L255.8,167.6L255.9,167.0L256.0,167.7L256.1,167.2L256.2,165.8L256.3,167.3L256.4,166.3L256.5,165.7L256.6,166.2L256.7,165.6L256.8,168.1L256.9,166.4L257.0,166.2L257.1,166.7L257.2,167.2L257.3,167.6L257.4,166.7L257.5,167.2L257.6,167.2L257.7,167.1L257.8,167.3L257.9,168.3L258.0,165.5L258.1,166.6L258.2,168.0L258.3,164.5L258.4,165.8L258.5,166.2L258.6,166.2L258.7,166.7L258.8,166.5L258.9,166.0L259.0,166.9L259.1,166.6L259.2,167.8L259.3,168.5L259.4,168.2L259.5,167.1L259.6,165.4L259.7,166.9L259.8,166.4L259.9,167.1L260.0,165.9L260.1,167.7L260.2,167.4L260.3,166.5L260.4,167.4L260.5,168.2L260.6,167.5L260.7,166.8L260.8,165.8L260.9,165.9L261.0,166.6L261.1,166.2L261.2,167.3L261.3,167.8L261.4,168.5L261.5,167.9L261.6,166.4L261.7,166.3L261.8,166.9L261.9,167.3L262.0,166.5L262.1,166.0L262.2,166.3L262.3,166.8L262.4,167.9L262.5,166.6L262.6,166.8L262.7,165.5L262.8,166.8L262.9,165.3L263.0,166.7L263.1,167.2L263.2,166.6L263.3,166.0L263.4,166.4L263.5,166.5L263.6,167.1L263.7,166.3L263.8,167.8L263.9,166.6L264.0,166.2L264.1,166.8L264.2,166.9L264.3,167.1L264.4,165.9L264.5,165.7L264.6,166.2L264.7,166.5L264.8,167.6L264.9,167.9L265.0,165.3L265.1,167.5L265.2,166.6L265.3,167.0L265.4,166.4L265.5,166.3L265.6,167.7L265.7,167.7L265.8,168.5L265.9,167.6L266.0,167.4L266.1,168.7L266.2,168.4L266.3,165.6L266.4,167.6L266.5,165.6L266.6,166.2L266.7,166.9L266.8,166.7L266.9,166.7L267.0,167.0L267.1,165.6L267.2,166.0L267.3,168.7L267.4,168.3L267.5,168.2L267.6,166.0L267.7,167.2L267.8,166.5L267.9,167.1L268.0,166.9L268.1,165.1L268.2,165.5L268.3,165.5L268.4,167.2L268.5,166.0L268.6,167.4L268.7,168.5L268.8,168.2L268.9,167.0L269.0,167.0L269.1,167.0L269.2,167.5L269.3,166.7L269.4,167.3L269.5,166.9L269.6,167.6L269.7,169.8L269.8,166.8L269.9,167.9L270.0,166.3L270.1,165.8L270.2,165.7L270.3,167.1L270.4,165.0L270.5,168.1L270.6,167.5L270.7,166.1L270.8,167.5L270.9,167.2L271.0,167.8L271.1,168.3L271.2,168.5L271.3,167.7L271.4,168.5L271.5,167.4L271.6,166.9L271.7,166.5L271.8,167.0L271.9,167.0L272.0,166.8L272.1,164.8L272.2,164.8L272.3,166.4L272.4,167.4L272.5,166.6L272.6,168.8L272.7,167.1L272.8,168.5L272.9,165.6L273.0,166.1L273.1,166.6L273.2,167.3L273.3,166.5L273.4,167.3L273.5,166.0L273.6,166.2L273.7,166.8L273.8,166.1L273.9,167.9L274.0,166.0L274.1,167.1L274.2,165.7L274.3,166.7L274.4,166.9L274.5,167.3L274.6,167.1L274.7,165.0L274.8,166.3L274.9,167.4L275.0,168.2L275.1,167.4L275.2,167.1L275.3,166.4L275.4,165.8L275.5,166.6L275.6,166.1L275.7,166.3L275.8,165.5L275.9,166.3L276.0,167.0L276.1,167.4L276.2,164.7L276.3,166.8L276.4,168.0L276.5,166.9L276.6,166.8L276.7,166.6L276.8,164.5L276.9,167.9L277.0,166.9L277.1,165.5L277.2,166.5L277.3,166.0L277.4,167.4L277.5,167.0L277.6,166.1L277.7,167.3L277.8,165.8L277.9,166.9L278.0,167.5L278.1,165.5L278.2,166.9L278.3,167.5L278.4,167.4L278.5,166.7L278.6,169.0L278.7,167.3L278.8,166.4L278.9,167.5L279.0,166.5L279.1,165.6L279.2,166.9L279.3,166.0L279.4,168.8L279.5,167.1L279.6,166.1L279.7,166.9L279.8,168.6L279.9,167.3L280.0,166.5L280.1,166.7L280.2,167.7L280.3,167.6L280.4,167.7L280.5,168.3L280.6,165.7L280.7,166.4L280.8,167.9L280.9,167.6L281.0,166.3L281.1,166.9L281.2,165.7L281.3,166.3L281.4,166.0L281.5,167.9L281.6,168.7L281.7,165.6L281.8,166.0L281.9,165.5L282.0,167.0L282.1,166.6L282.2,167.9L282.3,168.6L282.4,167.5L282.5,168.3L282.6,167.6L282.7,168.1L282.8,168.8L282.9,167.2L283.0,167.5L283.1,168.0L283.2,168.1L283.3,170.1L283.4,167.6L283.5,167.9L283.6,168.8L283.7,167.9L283.8,166.3L283.9,167.7L284.0,167.5L284.1,166.4L284.2,167.6L284.3,165.9L284.4,165.8L284.5,165.5L284.6,167.1L284.7,166.7L284.8,166.4L284.9,166.8L285.0,166.1L285.1,166.8L285.2,166.8L285.3,168.4L285.4,166.8L285.5,165.6L285.6,166.0L285.7,167.0L285.8,168.4L285.9,168.1L286.0,168.0L286.1,166.6L286.2,166.9L286.3,167.1L286.4,168.5L286.5,166.9L286.6,167.7L286.7,167.2L286.8,166.9L286.9,167.0L287.0,166.0L287.1,166.5L287.2,166.5L287.3,166.6L287.4,166.5L287.5,167.7L287.6,168.7L287.7,169.0L287.8,168.2L287.9,168.0L288.0,166.2L288.1,167.8L288.2,166.7L288.3,167.2L288.4,166.1L288.5,166.4L288.6,167.0L288.7,166.2L288.8,167.1L288.9,166.2L289.0,166.4L289.1,165.1L289.2,165.9L289.3,167.0L289.4,167.9L289.5,167.1L289.6,167.2L289.7,168.7L289.8,165.3L289.9,165.2L290.0,166.9L290.1,167.0L290.2,166.1L290.3,166.7L290.4,167.5L290.5,165.5L290.6,166.6L290.7,168.4L290.8,168.8L290.9,168.1L291.0,166.8L291.1,167.3L291.2,167.7L291.3,167.4L291.4,166.4L291.5,167.1L291.6,166.2L291.7,167.2L291.8,167.6L291.9,166.2L292.0,166.7L292.1,167.8L292.2,166.9L292.3,168.2L292.4,169.3L292.5,168.2L292.6,166.6L292.7,168.2L292.8,168.2L292.9,167.5L293.0,167.4L293.1,168.3L293.2,167.2L293.3,167.3L293.4,167.1L293.5,167.6L293.6,166.1L293.7,167.3L293.8,167.1L293.9,165.7L294.0,166.5L294.1,165.2L294.2,166.5L294.3,167.4L294.4,166.4L294.5,169.4L294.6,167.3L294.7,167.3L294.8,168.3L294.9,166.7L295.0,166.7L295.1,167.0L295.2,167.6L295.3,166.9L295.4,165.6L295.5,166.9L295.6,165.8L295.7,168.1L295.8,168.5L295.9,167.7L296.0,166.6L296.1,166.0L296.2,167.4L296.3,167.4L296.4,167.1L296.5,167.5L296.6,167.2L296.7,166.9L296.8,166.0L296.9,167.7L297.0,167.5L297.1,167.3L297.2,165.6L297.3,166.3L297.4,167.0L297.5,165.2L297.6,165.6L297.7,165.7L297.8,166.7L297.9,166.1L298.0,167.7L298.1,167.1L298.2,166.7L298.3,167.0L298.4,167.5L298.5,167.8L298.6,166.4L298.7,165.4L298.8,168.3L298.9,167.1L299.0,167.5L299.1,167.3L299.2,166.9L299.3,166.0L299.4,165.5L299.5,167.2L299.6,166.7L299.7,166.7L299.8,168.5L299.9,168.3L300.0,168.4L300.1,167.8L300.2,165.2L300.3,167.5L300.4,167.6L300.5,167.7L300.6,165.4L300.7,167.1L300.8,167.8L300.9,168.1L301.0,167.2L301.1,166.3L301.2,168.8L301.3,167.8L301.4,166.3L301.5,166.4L301.6,166.6L301.7,166.1L301.8,167.7L301.9,165.6L302.0,166.1L302.1,166.9L302.2,166.9L302.3,167.6L302.4,167.0L302.5,167.4L302.6,167.4L302.7,166.9L302.8,167.0L302.9,167.6L303.0,168.3L303.1,168.2L303.2,165.8L303.3,166.5L303.4,167.9L303.5,167.1L303.6,168.3L303.7,165.6L303.8,168.9L303.9,167.4L304.0,166.7L304.1,167.9L304.2,168.1L304.3,166.9L304.4,167.6L304.5,168.1L304.6,166.7L304.7,166.2L304.8,166.6L304.9,166.9L305.0,166.1L305.1,166.5L305.2,167.7L305.3,167.5L305.4,167.1L305.5,166.9L305.6,167.6L305.7,166.7L305.8,166.6L305.9,167.7L306.0,167.1L306.1,166.0L306.2,165.0L306.3,166.5L306.4,167.4L306.5,165.8L306.6,166.7L306.7,164.6L306.8,166.3L306.9,167.5L307.0,168.4L307.1,168.7L307.2,167.3L307.3,166.7L307.4,166.5L307.5,167.0L307.6,166.9L307.7,165.5L307.8,166.1L307.9,166.3L308.0,166.2L308.1,167.6L308.2,169.1L308.3,167.8L308.4,168.3L308.5,168.1L308.6,167.5L308.7,166.6L308.8,166.8L308.9,165.7L309.0,165.9L309.1,168.8L309.2,168.7L309.3,167.6L309.4,166.7L309.5,166.6L309.6,166.0L309.7,165.6L309.8,166.2L309.9,165.2L310.0,167.7L310.1,168.4L310.2,167.4L310.3,166.7L310.4,166.8L310.5,164.6L310.6,167.5L310.7,168.1L310.8,167.2L310.9,167.4L311.0,166.3L311.1,165.8L311.2,167.3L311.3,166.0L311.4,166.4L311.5,165.6L311.6,164.4L311.7,166.2L311.8,165.9L311.9,166.2L312.0,164.5L312.1,165.6L312.2,166.7L312.3,165.6L312.4,165.7L312.5,166.0L312.6,166.2L312.7,168.0L312.8,166.8L312.9,167.0L313.0,165.7L313.1,166.1L313.2,167.3L313.3,167.2L313.4,166.3L313.5,165.8L313.6,166.1L313.7,166.3L313.8,166.4L313.9,166.1L314.0,166.2L314.1,167.8L314.2,168.0L314.3,168.1L314.4,168.8L314.5,168.0L314.6,168.2L314.7,168.3L314.8,166.5L314.9,167.1L315.0,166.6L315.1,166.6L315.2,166.8L315.3,167.5L315.4,168.0L315.5,167.8L315.6,166.6L315.7,165.9L315.8,167.3L315.9,165.9L316.0,166.3L316.1,166.2L316.2,166.2L316.3,167.3L316.4,167.5L316.5,168.0L316.6,165.3L316.7,167.2L316.8,165.6L316.9,167.1L317.0,167.0L317.1,166.9L317.2,167.1L317.3,168.0L317.4,167.7L317.5,166.4L317.6,168.7L317.7,167.1L317.8,167.6L317.9,168.8L318.0,165.9L318.1,166.1L318.2,167.2L318.3,165.7L318.4,166.6L318.5,165.1L318.6,166.7L318.7,166.0L318.8,165.5L318.9,167.2L319.0,165.6L319.1,166.7L319.2,167.5L319.3,168.2L319.4,166.5L319.5,166.8L319.6,165.8L319.7,167.0L319.8,165.9L319.9,166.0L320.0,166.1L320.1,166.0L320.2,167.0L320.3,167.2L320.4,169.9L320.5,167.6L320.6,167.3L320.7,167.6L320.8,167.9L320.9,167.2L321.0,168.4L321.1,168.4L321.2,165.3L321.3,166.8L321.4,165.5L321.5,166.2L321.6,167.8L321.7,166.4L321.8,166.0L321.9,166.0L322.0,167.4L322.1,166.2L322.2,166.3L322.3,167.7L322.4,165.6L322.5,166.5L322.6,168.1L322.7,165.4L322.8,166.6L322.9,168.2L323.0,167.0L323.1,164.9L323.2,166.0L323.3,167.0L323.4,166.8L323.5,167.6L323.6,166.7L323.7,166.4L323.8,167.8L323.9,166.5L324.0,167.6L324.1,168.0L324.2,164.7L324.3,164.8L324.4,166.2L324.5,166.3L324.6,168.4L324.7,166.4L324.8,166.8L324.9,167.7L325.0,167.2L325.1,168.1L325.2,167.2L325.3,165.8L325.4,165.9L325.5,168.0L325.6,167.0L325.7,167.1L325.8,166.8L325.9,166.4L326.0,166.9L326.1,167.8L326.2,167.0L326.3,167.0L326.4,166.5L326.5,166.0L326.6,167.2L326.7,166.5L326.8,166.6L326.9,167.2L327.0,164.4L327.1,166.0L327.2,167.7L327.3,165.8L327.4,166.3L327.5,167.6L327.6,166.4L327.7,166.6L327.8,168.1L327.9,166.4L328.0,168.3L328.1,167.6L328.2,167.4L328.3,168.2L328.4,165.8L328.5,167.7L328.6,166.0L328.7,166.8L328.8,165.1L328.9,166.4L329.0,166.3L329.1,168.0L329.2,167.4L329.3,167.3L329.4,166.2L329.5,166.2L329.6,165.7L329.7,168.2L329.8,166.9L329.9,167.9L330.0,166.9L330.1,165.9L330.2,166.0L330.3,167.1L330.4,167.3L330.5,168.3L330.6,167.1L330.7,167.9L330.8,168.5L330.9,167.7L331.0,168.0L331.1,164.7L331.2,166.1L331.3,167.3L331.4,168.6L331.5,168.7L331.6,167.7L331.7,167.3L331.8,166.0L331.9,165.8L332.0,165.7L332.1,166.0L332.2,168.6L332.3,168.4L332.4,167.1L332.5,167.1L332.6,166.2L332.7,167.1L332.8,166.5L332.9,166.6L333.0,166.4L333.1,168.1L333.2,167.2L333.3,168.5L333.4,167.0L333.5,167.1L333.6,168.1L333.7,167.1L333.8,167.9L333.9,168.1L334.0,166.8L334.1,166.9L334.2,166.1L334.3,165.8L334.4,166.0L334.5,166.2L334.6,166.5L334.7,165.9L334.8,165.0L334.9,165.8L335.0,167.1L335.1,166.3L335.2,165.5L335.3,167.0L335.4,167.5L335.5,164.8L335.6,166.2L335.7,168.4L335.8,165.8L335.9,165.6L336.0,168.4L336.1,166.4L336.2,165.3L336.3,166.6L336.4,167.4L336.5,165.2L336.6,166.6L336.7,168.3L336.8,167.0L336.9,166.3L337.0,167.0L337.1,168.4L337.2,166.0L337.3,167.8L337.4,167.6L337.5,167.1L337.6,166.8L337.7,166.9L337.8,164.3L337.9,165.6L338.0,165.8L338.1,167.5L338.2,167.2L338.3,166.9L338.4,166.9L338.5,167.2L338.6,166.7L338.7,167.0L338.8,168.1L338.9,167.6L339.0,167.0L339.1,167.6L339.2,167.2L339.3,166.0L339.4,165.9L339.5,166.7L339.6,167.6L339.7,167.1L339.8,166.0L339.9,166.8L340.0,167.3L340.1,167.8L340.2,168.1L340.3,167.6L340.4,167.5L340.5,166.0L340.6,167.3L340.7,166.7L340.8,168.7L340.9,167.1L341.0,166.6L341.1,168.0L341.2,168.0L341.3,166.7L341.4,167.7L341.5,166.8L341.6,169.2L341.7,165.7L341.8,166.1L341.9,167.4L342.0,167.1L342.1,166.5L342.2,167.5L342.3,167.2L342.4,168.4L342.5,167.2L342.6,169.5L342.7,166.8L342.8,166.2L342.9,167.1L343.0,166.5L343.1,167.2L343.2,167.6L343.3,167.4L343.4,165.2L343.5,167.0L343.6,166.0L343.7,167.9L343.8,167.6L343.9,167.4L344.0,167.2L344.1,167.6L344.2,167.6L344.3,167.7L344.4,167.6L344.5,169.3L344.6,170.2L344.7,166.9L344.8,167.4L344.9,168.1L345.0,166.6L345.1,166.3L345.2,167.1L345.3,166.6L345.4,166.6L345.5,167.3L345.6,165.7L345.7,165.2L345.8,167.0L345.9,166.5L346.0,167.0L346.1,166.7L346.2,166.3L346.3,166.8L346.4,167.5L346.5,165.6L346.6,165.2L346.7,165.7L346.8,167.3L346.9,168.9L347.0,167.4L347.1,167.4L347.2,165.6L347.3,165.8L347.4,165.3L347.5,166.6L347.6,167.2L347.7,166.0L347.8,168.0L347.9,165.8L348.0,167.2L348.1,167.9L348.2,166.3L348.3,168.5L348.4,168.2L348.5,166.7L348.6,167.4L348.7,166.1L348.8,166.7L348.9,166.2L349.0,167.0L349.1,166.0L349.2,166.1L349.3,166.5L349.4,166.9L349.5,166.4L349.6,164.3L349.7,167.1L349.8,166.1L349.9,167.4L350.0,167.0L350.1,167.3L350.2,166.3L350.3,167.6L350.4,167.2L350.5,167.8L350.6,167.4L350.7,167.2L350.8,165.9L350.9,166.6L351.0,163.5L351.1,166.9L351.2,165.7L351.3,167.3L351.4,166.3L351.5,167.4L351.6,166.5L351.7,166.0L351.8,166.6L351.9,168.1L352.0,165.9L352.1,164.9L352.2,168.0L352.3,167.1L352.4,167.1L352.5,167.0L352.6,165.4L352.7,166.5L352.8,166.8L352.9,168.4L353.0,167.1L353.1,167.6L353.2,165.8L353.3,167.9L353.4,166.4L353.5,168.4L353.6,167.2L353.7,167.7L353.8,168.2L353.9,168.2L354.0,166.1L354.1,166.9L354.2,168.4L354.3,166.8L354.4,166.6L354.5,167.4L354.6,166.3L354.7,166.4L354.8,166.9L354.9,167.5L355.0,166.3L355.1,167.3L355.2,167.5L355.3,166.6L355.4,166.9L355.5,167.2L355.6,165.9L355.7,166.4L355.8,166.4L355.9,167.1L356.0,166.7L356.1,166.4L356.2,165.9L356.3,166.8L356.4,166.1L356.5,167.0L356.6,167.4L356.7,166.6L356.8,166.7L356.9,167.5L357.0,168.4L357.1,168.0L357.2,166.0L357.3,168.1L357.4,167.0L357.5,166.3L357.6,166.5L357.7,167.2L357.8,167.8L357.9,168.7L358.0,169.2L358.1,166.6L358.2,167.7L358.3,166.6L358.4,165.2L358.5,167.1L358.6,165.5L358.7,166.2L358.8,167.4L358.9,167.8L359.0,167.6L359.1,167.6L359.2,167.1L359.3,167.0L359.4,166.1L359.5,166.6L359.6,167.1L359.7,167.0L359.8,167.6L359.9,167.3" fill="none" stroke="#1a1a1a" stroke-width="0.75" stroke-linejoin="round"/>
<path d="M110.0,206.9L110.1,206.6L110.2,206.3L110.3,207.6L110.4,208.0L110.5,207.4L110.6,207.4L110.7,205.9L110.8,206.1L110.9,207.0L111.0,205.0L111.1,206.7L111.2,206.4L111.3,206.5L111.4,207.8L111.5,206.9L111.6,206.2L111.7,207.3L111.8,208.2L111.9,208.1L112.0,206.0L112.1,208.1L112.2,207.2L112.3,207.6L112.4,207.7L112.5,207.4L112.6,208.2L112.7,206.5L112.8,207.1L112.9,206.5L113.0,204.8L113.1,207.1L113.2,206.2L113.3,206.9L113.4,207.1L113.5,207.3L113.6,207.5L113.7,207.4L113.8,207.2L113.9,207.8L114.0,207.4L114.1,206.8L114.2,207.0L114.3,207.4L114.4,207.8L114.5,207.0L114.6,206.6L114.7,206.1L114.8,207.3L114.9,205.4L115.0,204.7L115.1,205.1L115.2,205.3L115.3,203.7L115.4,204.8L115.5,204.7L115.6,204.4L115.7,204.5L115.8,206.2L115.9,204.2L116.0,204.7L116.1,204.6L116.2,204.4L116.3,204.3L116.4,205.8L116.5,204.8L116.6,206.0L116.7,205.8L116.8,206.1L116.9,206.5L117.0,205.1L117.1,205.4L117.2,206.4L117.3,204.9L117.4,206.4L117.5,205.1L117.6,205.5L117.7,207.0L117.8,206.2L117.9,206.9L118.0,205.1L118.1,204.9L118.2,206.7L118.3,204.5L118.4,205.5L118.5,205.4L118.6,206.8L118.7,205.2L118.8,206.1L118.9,206.6L119.0,206.6L119.1,206.0L119.2,206.4L119.3,206.3L119.4,206.3L119.5,206.4L119.6,204.8L119.7,205.5L119.8,204.7L119.9,205.2L120.0,205.5L120.1,206.2L120.2,206.4L120.3,205.5L120.4,206.5L120.5,206.3L120.6,206.7L120.7,204.7L120.8,205.0L120.9,205.8L121.0,204.9L121.1,206.1L121.2,204.9L121.3,204.6L121.4,206.1L121.5,206.8L121.6,207.7L121.7,207.5L121.8,207.9L121.9,207.5L122.0,207.6L122.1,205.2L122.2,206.8L122.3,206.1L122.4,207.5L122.5,206.9L122.6,205.6L122.7,207.1L122.8,207.3L122.9,207.4L123.0,208.6L123.1,209.6L123.2,208.1L123.3,207.4L123.4,208.2L123.5,209.6L123.6,208.6L123.7,209.7L123.8,208.3L123.9,207.7L124.0,207.5L124.1,207.6L124.2,208.5L124.3,207.6L124.4,206.2L124.5,207.4L124.6,206.0L124.7,205.5L124.8,205.6L124.9,206.6L125.0,207.0L125.1,207.8L125.2,207.5L125.3,206.5L125.4,205.6L125.5,207.0L125.6,205.3L125.7,205.6L125.8,205.1L125.9,205.0L126.0,204.0L126.1,204.1L126.2,206.1L126.3,205.5L126.4,205.6L126.5,205.5L126.6,205.6L126.7,206.0L126.8,206.3L126.9,206.4L127.0,205.8L127.1,204.8L127.2,205.2L127.3,204.8L127.4,204.5L127.5,205.0L127.6,205.1L127.7,204.2L127.8,203.8L127.9,204.2L128.0,203.9L128.1,204.0L128.2,203.3L128.3,205.9L128.4,204.4L128.5,204.7L128.6,205.7L128.7,206.4L128.8,205.0L128.9,205.5L129.0,206.3L129.1,207.1L129.2,207.0L129.3,206.5L129.4,205.9L129.5,205.5L129.6,205.7L129.7,205.9L129.8,205.5L129.9,206.3L130.0,206.3L130.1,205.7L130.2,206.5L130.3,207.1L130.4,206.6L130.5,206.6L130.6,206.7L130.7,205.3L130.8,204.8L130.9,204.7L131.0,202.2L131.1,203.9L131.2,204.0L131.3,205.3L131.4,205.4L131.5,206.6L131.6,205.9L131.7,206.3L131.8,207.5L131.9,207.0L132.0,207.9L132.1,206.4L132.2,206.7L132.3,206.9L132.4,206.4L132.5,207.5L132.6,204.4L132.7,206.7L132.8,205.9L132.9,205.9L133.0,206.0L133.1,206.5L133.2,206.5L133.3,205.8L133.4,205.5L133.5,205.4L133.6,205.9L133.7,204.0L133.8,206.1L133.9,203.7L134.0,203.5L134.1,204.5L134.2,204.3L134.3,204.2L134.4,204.3L134.5,205.9L134.6,204.4L134.7,204.4L134.8,204.0L134.9,202.8L135.0,204.2L135.1,204.9L135.2,204.4L135.3,204.8L135.4,205.1L135.5,205.1L135.6,203.9L135.7,206.0L135.8,204.9L135.9,204.7L136.0,205.1L136.1,205.3L136.2,205.5L136.3,205.2L136.4,204.4L136.5,207.4L136.6,206.5L136.7,205.5L136.8,203.5L136.9,204.0L137.0,203.8L137.1,204.0L137.2,205.4L137.3,205.4L137.4,205.5L137.5,205.9L137.6,206.8L137.7,206.4L137.8,207.8L137.9,207.6L138.0,206.5L138.1,208.3L138.2,206.9L138.3,206.4L138.4,206.8L138.5,208.3L138.6,208.2L138.7,207.1L138.8,207.0L138.9,204.8L139.0,206.1L139.1,204.2L139.2,203.9L139.3,204.8L139.4,204.1L139.5,204.8L139.6,204.6L139.7,205.4L139.8,203.6L139.9,203.9L140.0,203.2L140.1,203.9L140.2,203.6L140.3,203.5L140.4,205.1L140.5,203.9L140.6,204.7L140.7,203.4L140.8,204.4L140.9,204.9L141.0,204.4L141.1,204.1L141.2,204.2L141.3,204.5L141.4,205.5L141.5,205.2L141.6,205.4L141.7,205.2L141.8,204.5L141.9,204.2L142.0,205.0L142.1,205.0L142.2,204.8L142.3,205.3L142.4,205.6L142.5,204.7L142.6,206.1L142.7,205.8L142.8,206.3L142.9,206.7L143.0,206.3L143.1,205.7L143.2,205.0L143.3,204.2L143.4,204.7L143.5,205.5L143.6,204.7L143.7,203.7L143.8,204.9L143.9,204.0L144.0,205.8L144.1,203.5L144.2,203.8L144.3,203.5L144.4,204.5L144.5,204.1L144.6,204.9L144.7,205.0L144.8,204.5L144.9,203.5L145.0,203.5L145.1,204.0L145.2,204.6L145.3,204.2L145.4,204.9L145.5,206.3L145.6,205.0L145.7,205.7L145.8,205.5L145.9,205.2L146.0,205.5L146.1,205.6L146.2,205.8L146.3,205.6L146.4,204.7L146.5,205.8L146.6,206.3L146.7,206.2L146.8,204.7L146.9,206.0L147.0,205.3L147.1,206.6L147.2,205.0L147.3,205.1L147.4,205.8L147.5,205.3L147.6,204.5L147.7,204.4L147.8,203.3L147.9,204.1L148.0,204.7L148.1,203.2L148.2,203.4L148.3,203.1L148.4,202.8L148.5,204.2L148.6,204.9L148.7,204.0L148.8,205.3L148.9,204.8L149.0,204.7L149.1,204.3L149.2,205.2L149.3,207.1L149.4,205.9L149.5,206.5L149.6,206.1L149.7,205.7L149.8,205.5L149.9,205.8L150.0,206.3L150.1,204.4L150.2,203.8L150.3,205.7L150.4,205.0L150.5,205.7L150.6,204.3L150.7,206.0L150.8,204.9L150.9,205.6L151.0,203.8L151.1,204.5L151.2,205.5L151.3,204.6L151.4,204.4L151.5,204.3L151.6,203.6L151.7,202.6L151.8,203.6L151.9,204.0L152.0,202.8L152.1,203.9L152.2,206.4L152.3,206.7L152.4,206.2L152.5,204.6L152.6,204.1L152.7,205.1L152.8,204.7L152.9,204.6L153.0,204.8L153.1,205.6L153.2,205.3L153.3,205.5L153.4,205.3L153.5,206.1L153.6,206.6L153.7,206.5L153.8,207.0L153.9,206.9L154.0,206.3L154.1,206.2L154.2,206.9L154.3,206.0L154.4,206.1L154.5,206.0L154.6,206.2L154.7,206.0L154.8,204.8L154.9,204.5L155.0,204.9L155.1,204.0L155.2,204.0L155.3,204.3L155.4,204.7L155.5,204.9L155.6,204.3L155.7,204.2L155.8,203.9L155.9,204.0L156.0,203.4L156.1,205.2L156.2,205.0L156.3,205.1L156.4,205.0L156.5,205.6L156.6,205.5L156.7,205.6L156.8,204.2L156.9,204.9L157.0,205.2L157.1,205.3L157.2,206.6L157.3,204.7L157.4,204.7L157.5,204.5L157.6,204.6L157.7,204.3L157.8,204.2L157.9,203.1L158.0,203.8L158.1,205.0L158.2,205.7L158.3,205.7L158.4,204.4L158.5,204.3L158.6,202.8L158.7,204.8L158.8,202.4L158.9,204.0L159.0,204.2L159.1,204.6L159.2,205.3L159.3,206.1L159.4,205.5L159.5,205.2L159.6,204.7L159.7,202.8L159.8,202.5L159.9,202.0L160.0,203.1L160.1,203.8L160.2,204.8L160.3,205.5L160.4,204.9L160.5,205.0L160.6,204.8L160.7,204.7L160.8,204.9L160.9,204.5L161.0,204.2L161.1,205.3L161.2,204.2L161.3,204.7L161.4,205.4L161.5,205.5L161.6,206.3L161.7,204.4L161.8,203.7L161.9,205.0L162.0,205.7L162.1,205.7L162.2,204.9L162.3,206.3L162.4,205.1L162.5,206.7L162.6,206.0L162.7,205.0L162.8,206.5L162.9,205.4L163.0,205.7L163.1,206.5L163.2,205.1L163.3,206.2L163.4,205.1L163.5,205.8L163.6,205.7L163.7,205.2L163.8,205.5L163.9,205.1L164.0,204.7L164.1,205.5L164.2,204.9L164.3,205.7L164.4,206.2L164.5,204.3L164.6,203.9L164.7,204.3L164.8,204.1L164.9,203.2L165.0,205.2L165.1,204.9L165.2,204.1L165.3,204.4L165.4,204.1L165.5,203.8L165.6,203.2L165.7,203.6L165.8,203.7L165.9,203.4L166.0,205.0L166.1,206.0L166.2,207.4L166.3,208.3L166.4,208.2L166.5,208.0L166.6,206.3L166.7,205.8L166.8,205.5L166.9,204.9L167.0,204.9L167.1,205.8L167.2,205.1L167.3,203.9L167.4,203.5L167.5,205.5L167.6,204.8L167.7,205.6L167.8,206.1L167.9,206.0L168.0,204.3L168.1,204.3L168.2,205.1L168.3,204.2L168.4,204.2L168.5,204.1L168.6,203.7L168.7,204.9L168.8,203.6L168.9,203.9L169.0,204.5L169.1,205.1L169.2,206.0L169.3,205.1L169.4,205.7L169.5,205.1L169.6,204.8L169.7,204.3L169.8,205.0L169.9,204.5L170.0,204.9L170.1,203.6L170.2,204.5L170.3,204.8L170.4,205.8L170.5,205.6L170.6,205.5L170.7,205.0L170.8,204.5L170.9,205.9L171.0,206.2L171.1,205.4L171.2,206.7L171.3,205.2L171.4,204.8L171.5,205.1L171.6,203.5L171.7,204.9L171.8,204.5L171.9,204.6L172.0,204.9L172.1,204.8L172.2,205.1L172.3,207.1L172.4,205.1L172.5,207.0L172.6,206.7L172.7,206.1L172.8,205.7L172.9,206.1L173.0,205.5L173.1,205.7L173.2,205.4L173.3,204.3L173.4,205.7L173.5,207.0L173.6,206.8L173.7,207.4L173.8,206.9L173.9,206.6L174.0,206.2L174.1,205.0L174.2,203.9L174.3,204.2L174.4,204.1L174.5,205.0L174.6,203.7L174.7,204.6L174.8,205.3L174.9,204.8L175.0,205.0L175.1,205.3L175.2,204.7L175.3,205.7L175.4,206.3L175.5,207.1L175.6,206.0L175.7,205.9L175.8,205.6L175.9,206.9L176.0,207.2L176.1,207.1L176.2,207.5L176.3,207.1L176.4,205.5L176.5,205.6L176.6,203.9L176.7,205.1L176.8,204.3L176.9,204.1L177.0,205.3L177.1,204.4L177.2,204.9L177.3,205.1L177.4,203.9L177.5,204.0L177.6,204.7L177.7,204.1L177.8,204.1L177.9,203.6L178.0,204.6L178.1,204.6L178.2,204.6L178.3,204.5L178.4,204.2L178.5,203.9L178.6,204.3L178.7,204.1L178.8,204.2L178.9,205.6L179.0,206.4L179.1,205.9L179.2,206.5L179.3,206.9L179.4,207.4L179.5,206.7L179.6,205.9L179.7,203.2L179.8,204.9L179.9,204.2L180.0,205.2L180.1,205.8L180.2,206.3L180.3,207.2L180.4,208.9L180.5,209.1L180.6,209.5L180.7,208.1L180.8,207.3L180.9,206.8L181.0,205.4L181.1,205.1L181.2,206.1L181.3,205.4L181.4,203.8L181.5,204.2L181.6,204.9L181.7,204.7L181.8,205.3L181.9,205.7L182.0,205.2L182.1,206.2L182.2,206.0L182.3,205.9L182.4,205.8L182.5,203.8L182.6,206.7L182.7,205.7L182.8,204.4L182.9,204.7L183.0,203.9L183.1,204.0L183.2,204.8L183.3,205.3L183.4,204.9L183.5,205.6L183.6,205.3L183.7,206.3L183.8,205.6L183.9,206.6L184.0,205.9L184.1,207.3L184.2,206.0L184.3,207.0L184.4,206.8L184.5,207.2L184.6,204.9L184.7,206.5L184.8,205.4L184.9,204.8L185.0,204.5L185.1,203.4L185.2,204.0L185.3,203.9L185.4,205.0L185.5,204.0L185.6,203.4L185.7,202.4L185.8,202.7L185.9,202.0L186.0,202.5L186.1,203.6L186.2,202.0L186.3,202.6L186.4,202.6L186.5,201.9L186.6,200.0L186.7,201.7L186.8,201.6L186.9,202.0L187.0,204.6L187.1,203.4L187.2,202.8L187.3,202.4L187.4,201.3L187.5,201.6L187.6,200.5L187.7,203.0L187.8,201.5L187.9,202.3L188.0,204.2L188.1,207.7L188.2,208.9L188.3,209.0L188.4,209.1L188.5,208.8L188.6,209.7L188.7,211.0L188.8,210.1L188.9,209.0L189.0,206.8L189.1,205.5L189.2,205.4L189.3,205.7L189.4,205.0L189.5,204.0L189.6,204.6L189.7,204.9L189.8,206.9L189.9,209.3L190.0,208.2L190.1,209.5L190.2,208.6L190.3,209.1L190.4,208.1L190.5,207.1L190.6,206.7L190.7,204.3L190.8,203.4L190.9,204.1L191.0,203.0L191.1,203.7L191.2,206.5L191.3,206.7L191.4,207.3L191.5,206.5L191.6,207.1L191.7,206.6L191.8,206.0L191.9,205.9L192.0,205.2L192.1,205.3L192.2,205.3L192.3,206.1L192.4,205.2L192.5,205.7L192.6,206.3L192.7,206.6L192.8,205.1L192.9,204.2L193.0,204.9L193.1,206.0L193.2,205.6L193.3,206.1L193.4,205.7L193.5,205.4L193.6,206.0L193.7,206.1L193.8,206.1L193.9,205.5L194.0,204.7L194.1,205.1L194.2,205.1L194.3,203.4L194.4,202.3L194.5,202.4L194.6,203.4L194.7,204.4L194.8,207.1L194.9,208.1L195.0,209.3L195.1,209.3L195.2,208.5L195.3,207.1L195.4,205.4L195.5,207.1L195.6,205.5L195.7,204.1L195.8,203.8L195.9,204.7L196.0,204.4L196.1,205.0L196.2,204.4L196.3,204.1L196.4,205.3L196.5,205.8L196.6,205.2L196.7,204.8L196.8,204.7L196.9,203.5L197.0,204.0L197.1,204.2L197.2,204.7L197.3,205.7L197.4,205.3L197.5,207.0L197.6,205.7L197.7,205.8L197.8,205.3L197.9,202.5L198.0,201.4L198.1,201.2L198.2,200.1L198.3,200.7L198.4,200.8L198.5,202.0L198.6,203.5L198.7,204.1L198.8,204.3L198.9,206.9L199.0,209.8L199.1,209.5L199.2,209.4L199.3,206.4L199.4,203.6L199.5,201.6L199.6,201.1L199.7,201.0L199.8,200.5L199.9,200.8L200.0,203.2L200.1,204.5L200.2,207.3L200.3,207.2L200.4,206.4L200.5,205.4L200.6,206.1L200.7,208.0L200.8,209.2L200.9,208.9L201.0,208.1L201.1,207.2L201.2,205.6L201.3,206.4L201.4,207.6L201.5,208.0L201.6,206.0L201.7,203.4L201.8,201.6L201.9,200.4L202.0,201.6L202.1,203.7L202.2,206.0L202.3,208.3L202.4,208.6L202.5,209.0L202.6,207.9L202.7,208.0L202.8,207.2L202.9,205.8L203.0,204.0L203.1,205.3L203.2,204.5L203.3,204.2L203.4,204.5L203.5,206.3L203.6,204.5L203.7,204.1L203.8,206.8L203.9,207.7L204.0,207.6L204.1,209.7L204.2,209.4L204.3,210.3L204.4,210.4L204.5,210.3L204.6,207.9L204.7,206.0L204.8,205.6L204.9,206.3L205.0,207.0L205.1,208.2L205.2,208.0L205.3,208.3L205.4,208.5L205.5,209.2L205.6,208.5L205.7,208.7L205.8,209.1L205.9,207.6L206.0,207.5L206.1,205.5L206.2,205.9L206.3,204.4L206.4,204.8L206.5,204.0L206.6,204.6L206.7,207.0L206.8,207.7L206.9,209.2L207.0,208.2L207.1,206.9L207.2,204.7L207.3,202.5L207.4,201.0L207.5,201.4L207.6,199.7L207.7,200.8L207.8,201.0L207.9,201.2L208.0,201.4L208.1,200.8L208.2,200.2L208.3,200.9L208.4,201.6L208.5,202.4L208.6,205.8L208.7,205.6L208.8,208.3L208.9,206.7L209.0,206.6L209.1,205.9L209.2,206.4L209.3,204.8L209.4,205.4L209.5,205.4L209.6,203.6L209.7,203.6L209.8,201.4L209.9,203.4L210.0,205.3L210.1,207.3L210.2,208.5L210.3,209.3L210.4,210.7L210.5,209.5L210.6,209.8L210.7,210.4L210.8,210.2L210.9,211.1L211.0,211.0L211.1,206.5L211.2,204.1L211.3,202.1L211.4,202.0L211.5,200.4L211.6,200.4L211.7,201.0L211.8,201.7L211.9,204.9L212.0,207.6L212.1,208.4L212.2,208.4L212.3,206.5L212.4,202.2L212.5,200.5L212.6,201.4L212.7,199.5L212.8,200.3L212.9,200.9L213.0,202.7L213.1,204.5L213.2,205.2L213.3,206.7L213.4,207.5L213.5,207.0L213.6,207.7L213.7,208.5L213.8,208.5L213.9,208.2L214.0,206.2L214.1,203.4L214.2,202.5L214.3,203.4L214.4,206.6L214.5,208.2L214.6,207.4L214.7,208.6L214.8,209.4L214.9,208.7L215.0,207.0L215.1,209.0L215.2,207.2L215.3,208.2L215.4,205.8L215.5,205.6L215.6,206.3L215.7,207.0L215.8,206.2L215.9,205.3L216.0,205.4L216.1,205.2L216.2,203.3L216.3,202.9L216.4,203.1L216.5,203.1L216.6,204.6L216.7,204.9L216.8,206.3L216.9,207.8L217.0,208.5L217.1,208.6L217.2,208.5L217.3,209.2L217.4,208.1L217.5,209.2L217.6,209.9L217.7,209.4L217.8,209.0L217.9,209.6L218.0,208.7L218.1,208.3L218.2,207.0L218.3,205.2L218.4,206.4L218.5,205.8L218.6,206.6L218.7,205.9L218.8,207.0L218.9,206.2L219.0,206.0L219.1,206.1L219.2,205.5L219.3,205.3L219.4,206.5L219.5,206.0L219.6,206.4L219.7,208.8L219.8,207.8L219.9,206.9L220.0,206.2L220.1,205.5L220.2,205.2L220.3,203.5L220.4,205.7L220.5,204.1L220.6,204.6L220.7,205.6L220.8,206.2L220.9,206.2L221.0,205.9L221.1,205.5L221.2,205.9L221.3,205.2L221.4,204.6L221.5,205.5L221.6,204.0L221.7,204.0L221.8,203.7L221.9,203.8L222.0,203.1L222.1,204.2L222.2,203.9L222.3,204.7L222.4,204.2L222.5,203.3L222.6,202.2L222.7,199.4L222.8,200.7L222.9,200.6L223.0,201.1L223.1,202.5L223.2,201.9L223.3,205.5L223.4,207.6L223.5,207.5L223.6,207.1L223.7,205.3L223.8,204.8L223.9,204.2L224.0,204.4L224.1,205.3L224.2,205.0L224.3,205.1L224.4,204.3L224.5,204.9L224.6,204.2L224.7,203.7L224.8,203.9L224.9,204.6L225.0,203.3L225.1,202.4L225.2,201.2L225.3,201.0L225.4,201.4L225.5,203.7L225.6,205.0L225.7,208.2L225.8,208.1L225.9,207.3L226.0,206.5L226.1,205.3L226.2,202.9L226.3,202.2L226.4,200.2L226.5,200.5L226.6,200.1L226.7,200.3L226.8,201.4L226.9,202.0L227.0,201.0L227.1,201.9L227.2,201.1L227.3,201.0L227.4,202.9L227.5,201.5L227.6,204.0L227.7,205.2L227.8,204.9L227.9,204.0L228.0,202.5L228.1,201.7L228.2,203.7L228.3,204.5L228.4,207.3L228.5,209.4L228.6,209.3L228.7,207.4L228.8,203.7L228.9,202.4L229.0,203.6L229.1,205.3L229.2,205.8L229.3,203.6L229.4,203.2L229.5,202.1L229.6,201.1L229.7,201.2L229.8,202.2L229.9,202.1L230.0,206.3L230.1,206.4L230.2,206.2L230.3,206.4L230.4,207.5L230.5,207.8L230.6,207.4L230.7,208.2L230.8,207.4L230.9,206.9L231.0,207.5L231.1,206.8L231.2,205.9L231.3,208.3L231.4,207.1L231.5,208.0L231.6,208.1L231.7,206.8L231.8,205.7L231.9,205.3L232.0,205.0L232.1,206.7L232.2,207.4L232.3,207.2L232.4,206.0L232.5,206.6L232.6,207.9L232.7,206.5L232.8,205.6L232.9,204.2L233.0,203.7L233.1,202.8L233.2,203.4L233.3,202.8L233.4,202.5L233.5,204.2L233.6,203.6L233.7,204.9L233.8,204.1L233.9,204.5L234.0,203.9L234.1,203.2L234.2,204.0L234.3,203.8L234.4,203.8L234.5,204.8L234.6,206.9L234.7,206.7L234.8,207.6L234.9,208.1L235.0,207.6L235.1,208.4L235.2,204.7L235.3,204.3L235.4,202.7L235.5,201.2L235.6,202.3L235.7,203.4L235.8,205.6L235.9,204.3L236.0,203.8L236.1,202.2L236.2,200.9L236.3,200.8L236.4,202.9L236.5,201.5L236.6,202.7L236.7,203.0L236.8,204.5L236.9,206.1L237.0,206.6L237.1,204.4L237.2,202.7L237.3,204.0L237.4,206.1L237.5,208.5L237.6,208.1L237.7,207.3L237.8,203.4L237.9,200.5L238.0,201.2L238.1,200.2L238.2,200.8L238.3,202.4L238.4,202.7L238.5,204.0L238.6,206.4L238.7,206.9L238.8,207.4L238.9,208.1L239.0,206.5L239.1,205.6L239.2,206.7L239.3,207.6L239.4,208.5L239.5,208.1L239.6,206.7L239.7,206.2L239.8,204.1L239.9,205.7L240.0,207.7L240.1,207.3L240.2,208.1L240.3,207.1L240.4,207.5L240.5,208.6L240.6,205.4L240.7,203.9L240.8,201.4L240.9,200.5L241.0,200.8L241.1,200.2L241.2,201.6L241.3,203.0L241.4,206.0L241.5,207.1L241.6,208.1L241.7,209.7L241.8,208.5L241.9,208.7L242.0,208.4L242.1,208.5L242.2,208.4L242.3,208.8L242.4,206.5L242.5,206.3L242.6,206.5L242.7,207.0L242.8,207.3L242.9,207.3L243.0,206.4L243.1,207.3L243.2,206.9L243.3,207.3L243.4,207.6L243.5,208.3L243.6,207.2L243.7,207.4L243.8,207.1L243.9,205.9L244.0,207.5L244.1,207.6L244.2,208.3L244.3,208.2L244.4,209.4L244.5,207.2L244.6,208.4L244.7,206.6L244.8,208.7L244.9,207.5L245.0,206.8L245.1,206.0L245.2,204.7L245.3,204.1L245.4,203.8L245.5,201.6L245.6,201.0L245.7,200.8L245.8,200.4L245.9,201.6L246.0,200.7L246.1,200.5L246.2,202.1L246.3,203.5L246.4,203.4L246.5,204.7L246.6,206.5L246.7,207.1L246.8,208.1L246.9,208.9L247.0,209.0L247.1,210.5L247.2,209.0L247.3,208.4L247.4,206.4L247.5,203.1L247.6,202.1L247.7,200.7L247.8,201.4L247.9,201.1L248.0,200.2L248.1,201.6L248.2,202.5L248.3,201.6L248.4,203.5L248.5,203.4L248.6,202.6L248.7,203.5L248.8,203.3L248.9,203.0L249.0,201.5L249.1,200.6L249.2,200.7L249.3,200.6L249.4,201.7L249.5,204.4L249.6,207.6L249.7,208.4L249.8,206.3L249.9,205.0L250.0,203.5L250.1,204.5L250.2,207.5L250.3,209.6L250.4,209.5L250.5,207.6L250.6,206.3L250.7,204.7L250.8,202.1L250.9,202.3L251.0,202.5L251.1,202.1L251.2,204.6L251.3,206.5L251.4,207.1L251.5,207.5L251.6,205.5L251.7,205.7L251.8,206.2L251.9,205.4L252.0,205.9L252.1,206.3L252.2,206.0L252.3,204.4L252.4,204.6L252.5,204.0L252.6,204.4L252.7,204.7L252.8,205.7L252.9,206.4L253.0,207.9L253.1,207.8L253.2,206.1L253.3,204.6L253.4,204.0L253.5,202.7L253.6,202.5L253.7,202.5L253.8,204.9L253.9,205.3L254.0,206.0L254.1,206.8L254.2,206.5L254.3,206.4L254.4,207.7L254.5,207.7L254.6,208.4L254.7,208.2L254.8,209.2L254.9,209.4L255.0,207.6L255.1,209.1L255.2,208.1L255.3,207.3L255.4,206.4L255.5,207.4L255.6,205.6L255.7,208.5L255.8,206.8L255.9,207.6L256.0,206.8L256.1,207.3L256.2,206.8L256.3,206.2L256.4,205.3L256.5,203.0L256.6,201.1L256.7,200.5L256.8,200.4L256.9,201.1L257.0,202.1L257.1,203.3L257.2,205.1L257.3,206.3L257.4,206.4L257.5,205.4L257.6,204.8L257.7,204.9L257.8,206.6L257.9,207.2L258.0,208.0L258.1,208.4L258.2,208.1L258.3,208.6L258.4,207.7L258.5,205.5L258.6,204.5L258.7,204.6L258.8,203.1L258.9,202.3L259.0,201.0L259.1,201.3L259.2,200.6L259.3,200.7L259.4,202.7L259.5,206.0L259.6,207.3L259.7,208.6L259.8,207.8L259.9,207.5L260.0,207.3L260.1,209.0L260.2,209.0L260.3,208.4L260.4,207.2L260.5,206.8L260.6,202.8L260.7,202.2L260.8,199.9L260.9,201.1L261.0,201.7L261.1,200.9L261.2,202.9L261.3,203.6L261.4,202.8L261.5,202.2L261.6,203.2L261.7,204.7L261.8,204.0L261.9,204.2L262.0,205.6L262.1,205.4L262.2,205.9L262.3,204.9L262.4,206.4L262.5,205.7L262.6,205.4L262.7,205.6L262.8,207.2L262.9,206.5L263.0,207.4L263.1,205.5L263.2,205.8L263.3,206.5L263.4,205.2L263.5,204.8L263.6,205.1L263.7,206.2L263.8,206.0L263.9,206.8L264.0,208.0L264.1,209.1L264.2,210.4L264.3,209.5L264.4,209.6L264.5,209.8L264.6,209.0L264.7,209.2L264.8,209.0L264.9,208.3L265.0,207.6L265.1,207.4L265.2,203.5L265.3,201.5L265.4,203.1L265.5,202.5L265.6,202.1L265.7,200.5L265.8,201.5L265.9,201.1L266.0,201.0L266.1,203.4L266.2,203.9L266.3,204.1L266.4,204.1L266.5,204.0L266.6,204.8L266.7,204.6L266.8,204.1L266.9,202.5L267.0,204.2L267.1,202.5L267.2,203.8L267.3,204.3L267.4,202.4L267.5,204.8L267.6,204.7L267.7,204.5L267.8,203.8L267.9,204.0L268.0,204.2L268.1,203.4L268.2,204.0L268.3,202.4L268.4,203.5L268.5,201.1L268.6,202.2L268.7,201.6L268.8,201.2L268.9,201.2L269.0,202.5L269.1,202.6L269.2,203.7L269.3,203.4L269.4,204.2L269.5,203.4L269.6,202.2L269.7,203.2L269.8,201.2L269.9,202.5L270.0,202.1L270.1,203.6L270.2,204.0L270.3,204.2L270.4,205.3L270.5,204.8L270.6,205.9L270.7,205.3L270.8,205.2L270.9,205.5L271.0,205.3L271.1,205.5L271.2,204.1L271.3,205.4L271.4,206.0L271.5,206.8L271.6,205.8L271.7,205.7L271.8,205.0L271.9,206.5L272.0,204.4L272.1,204.4L272.2,204.2L272.3,203.3L272.4,205.0L272.5,205.0L272.6,207.3L272.7,206.0L272.8,209.4L272.9,207.7L273.0,208.1L273.1,207.4L273.2,206.2L273.3,204.3L273.4,202.2L273.5,203.5L273.6,203.5L273.7,204.8L273.8,205.2L273.9,205.8L274.0,205.4L274.1,206.6L274.2,202.8L274.3,202.8L274.4,203.7L274.5,206.5L274.6,209.5L274.7,209.6L274.8,208.4L274.9,208.7L275.0,209.4L275.1,208.9L275.2,208.2L275.3,208.5L275.4,209.3L275.5,208.3L275.6,208.0L275.7,206.0L275.8,203.4L275.9,205.0L276.0,205.7L276.1,207.9L276.2,208.5L276.3,206.6L276.4,206.1L276.5,204.6L276.6,205.7L276.7,204.1L276.8,204.2L276.9,204.5L277.0,204.2L277.1,204.3L277.2,204.9L277.3,204.8L277.4,206.8L277.5,207.0L277.6,209.9L277.7,209.6L277.8,209.1L277.9,208.9L278.0,209.6L278.1,209.2L278.2,209.2L278.3,206.7L278.4,206.0L278.5,204.9L278.6,204.5L278.7,203.9L278.8,204.1L278.9,204.7L279.0,205.1L279.1,205.3L279.2,204.8L279.3,203.9L279.4,203.8L279.5,204.6L279.6,204.5L279.7,203.4L279.8,204.4L279.9,203.6L280.0,203.6L280.1,202.9L280.2,203.8L280.3,203.7L280.4,204.9L280.5,206.5L280.6,207.8L280.7,208.6L280.8,208.5L280.9,209.5L281.0,209.0L281.1,209.9L281.2,209.7L281.3,210.1L281.4,209.8L281.5,210.6L281.6,209.8L281.7,210.3L281.8,209.4L281.9,211.0L282.0,210.1L282.1,210.2L282.2,209.0L282.3,208.2L282.4,206.4L282.5,206.1L282.6,206.8L282.7,208.1L282.8,208.8L282.9,207.5L283.0,207.7L283.1,206.7L283.2,206.2L283.3,205.6L283.4,206.9L283.5,208.4L283.6,207.6L283.7,208.8L283.8,208.6L283.9,207.8L284.0,207.7L284.1,207.9L284.2,207.6L284.3,206.3L284.4,205.7L284.5,205.0L284.6,203.5L284.7,204.4L284.8,203.6L284.9,203.7L285.0,203.8L285.1,202.7L285.2,203.2L285.3,203.8L285.4,203.8L285.5,203.5L285.6,203.8L285.7,203.2L285.8,202.6L285.9,201.9L286.0,201.8L286.1,202.3L286.2,203.4L286.3,203.4L286.4,204.0L286.5,204.0L286.6,202.6L286.7,201.6L286.8,201.5L286.9,199.7L287.0,201.6L287.1,202.0L287.2,203.7L287.3,204.1L287.4,203.7L287.5,203.4L287.6,202.6L287.7,202.6L287.8,204.2L287.9,206.3L288.0,206.8L288.1,208.6L288.2,208.2L288.3,207.7L288.4,206.0L288.5,205.1L288.6,203.5L288.7,206.3L288.8,208.7L288.9,208.0L289.0,209.2L289.1,208.1L289.2,206.1L289.3,204.2L289.4,203.2L289.5,203.5L289.6,205.6L289.7,205.6L289.8,207.3L289.9,206.1L290.0,206.7L290.1,207.3L290.2,205.6L290.3,205.9L290.4,205.8L290.5,203.9L290.6,204.9L290.7,204.7L290.8,204.0L290.9,205.7L291.0,203.9L291.1,203.4L291.2,202.6L291.3,203.0L291.4,203.1L291.5,202.5L291.6,203.3L291.7,201.9L291.8,202.7L291.9,203.4L292.0,202.7L292.1,202.2L292.2,203.0L292.3,202.7L292.4,203.2L292.5,202.3L292.6,203.2L292.7,202.3L292.8,202.6L292.9,203.9L293.0,203.4L293.1,203.5L293.2,203.7L293.3,203.9L293.4,204.1L293.5,204.2L293.6,204.1L293.7,203.6L293.8,203.8L293.9,203.0L294.0,204.0L294.1,203.8L294.2,204.6L294.3,204.3L294.4,204.6L294.5,205.1L294.6,205.2L294.7,204.8L294.8,203.0L294.9,204.4L295.0,203.1L295.1,204.5L295.2,203.7L295.3,201.9L295.4,203.5L295.5,203.2L295.6,203.0L295.7,203.3L295.8,202.8L295.9,202.3L296.0,201.7L296.1,200.6L296.2,200.3L296.3,200.4L296.4,199.8L296.5,200.6L296.6,200.6L296.7,201.3L296.8,201.6L296.9,201.2L297.0,202.0L297.1,200.8L297.2,200.8L297.3,200.7L297.4,201.2L297.5,201.6L297.6,201.6L297.7,201.8L297.8,200.9L297.9,201.7L298.0,201.0L298.1,200.8L298.2,202.2L298.3,200.9L298.4,202.0L298.5,201.0L298.6,201.5L298.7,201.9L298.8,201.8L298.9,200.6L299.0,201.5L299.1,202.1L299.2,201.8L299.3,200.9L299.4,200.1L299.5,200.4L299.6,199.8L299.7,200.2L299.8,199.8L299.9,200.5L300.0,201.1L300.1,200.8L300.2,201.4L300.3,201.5L300.4,201.8L300.5,201.7L300.6,201.9L300.7,201.1L300.8,201.8L300.9,201.4L301.0,201.8L301.1,202.4L301.2,202.2L301.3,203.5L301.4,202.7L301.5,202.2L301.6,203.7L301.7,203.2L301.8,204.0L301.9,203.7L302.0,205.0L302.1,203.3L302.2,203.3L302.3,203.1L302.4,203.7L302.5,204.2L302.6,204.1L302.7,204.3L302.8,202.9L302.9,204.1L303.0,204.0L303.1,203.1L303.2,202.2L303.3,202.4L303.4,203.3L303.5,202.3L303.6,202.8L303.7,203.5L303.8,202.7L303.9,202.9L304.0,202.1L304.1,202.0L304.2,202.3L304.3,202.4L304.4,201.9L304.5,202.1L304.6,202.5L304.7,201.2L304.8,201.1L304.9,201.4L305.0,201.0L305.1,200.9L305.2,202.1L305.3,200.5L305.4,200.8L305.5,200.4L305.6,200.7L305.7,200.7L305.8,200.8L305.9,200.6L306.0,200.4L306.1,200.9L306.2,202.0L306.3,202.1L306.4,202.0L306.5,203.1L306.6,202.5L306.7,202.7L306.8,203.5L306.9,204.2L307.0,203.9L307.1,202.5L307.2,203.2L307.3,203.0L307.4,202.8L307.5,202.9L307.6,203.1L307.7,203.2L307.8,205.1L307.9,203.2L308.0,203.6L308.1,201.3L308.2,200.7L308.3,200.9L308.4,201.7L308.5,201.8L308.6,203.0L308.7,203.5L308.8,202.2L308.9,201.7L309.0,203.4L309.1,203.8L309.2,202.2L309.3,201.5L309.4,203.4L309.5,203.7L309.6,205.2L309.7,204.3L309.8,204.1L309.9,204.6L310.0,203.8L310.1,203.7L310.2,201.7L310.3,200.6L310.4,201.8L310.5,201.7L310.6,201.4L310.7,203.1L310.8,202.6L310.9,203.1L311.0,204.3L311.1,203.5L311.2,202.9L311.3,201.7L311.4,200.6L311.5,201.0L311.6,199.6L311.7,200.1L311.8,201.3L311.9,201.5L312.0,201.3L312.1,202.9L312.2,202.6L312.3,202.3L312.4,203.5L312.5,202.2L312.6,202.5L312.7,201.4L312.8,200.8L312.9,202.3L313.0,203.4L313.1,201.9L313.2,202.6L313.3,201.8L313.4,201.7L313.5,202.1L313.6,203.6L313.7,202.6L313.8,202.3L313.9,202.9L314.0,202.8L314.1,203.9L314.2,202.8L314.3,202.8L314.4,203.7L314.5,201.7L314.6,201.5L314.7,200.5L314.8,203.6L314.9,203.0L315.0,202.7L315.1,202.2L315.2,202.2L315.3,203.0L315.4,203.7L315.5,202.4L315.6,203.3L315.7,203.6L315.8,203.0L315.9,202.9L316.0,202.4L316.1,202.2L316.2,202.4L316.3,203.2L316.4,203.7L316.5,202.4L316.6,202.1L316.7,202.5L316.8,202.5L316.9,203.3L317.0,202.7L317.1,203.2L317.2,204.7L317.3,203.2L317.4,203.7L317.5,203.2L317.6,202.1L317.7,202.7L317.8,201.7L317.9,203.4L318.0,202.0L318.1,202.3L318.2,202.6L318.3,201.2L318.4,202.7L318.5,202.7L318.6,201.4L318.7,203.0L318.8,202.0L318.9,201.9L319.0,203.5L319.1,202.4L319.2,203.0L319.3,202.2L319.4,201.8L319.5,202.7L319.6,203.2L319.7,202.4L319.8,202.2L319.9,201.6L320.0,200.4L320.1,201.3L320.2,201.0L320.3,202.3L320.4,202.4L320.5,202.5L320.6,201.7L320.7,202.9L320.8,202.4L320.9,202.4L321.0,202.3L321.1,202.0L321.2,204.7L321.3,205.1L321.4,205.0L321.5,205.1L321.6,204.0L321.7,204.4L321.8,206.1L321.9,204.8L322.0,204.8L322.1,206.2L322.2,205.8L322.3,205.8L322.4,205.5L322.5,204.7L322.6,204.8L322.7,205.7L322.8,203.6L322.9,202.9L323.0,203.0L323.1,202.8L323.2,201.8L323.3,202.7L323.4,201.8L323.5,202.9L323.6,202.3L323.7,203.3L323.8,203.0L323.9,204.2L324.0,204.8L324.1,203.8L324.2,204.0L324.3,203.8L324.4,203.5L324.5,204.7L324.6,203.8L324.7,204.6L324.8,204.4L324.9,204.3L325.0,204.2L325.1,202.7L325.2,202.1L325.3,202.3L325.4,202.9L325.5,202.5L325.6,203.0L325.7,203.0L325.8,202.6L325.9,202.1L326.0,202.5L326.1,203.0L326.2,202.4L326.3,201.4L326.4,202.7L326.5,202.5L326.6,203.2L326.7,201.5L326.8,201.5L326.9,202.1L327.0,203.2L327.1,202.7L327.2,201.9L327.3,203.0L327.4,202.9L327.5,203.4L327.6,201.1L327.7,202.5L327.8,202.6L327.9,202.6L328.0,203.5L328.1,204.5L328.2,203.5L328.3,203.2L328.4,202.8L328.5,202.1L328.6,201.9L328.7,202.8L328.8,202.7L328.9,203.3L329.0,203.3L329.1,201.6L329.2,202.7L329.3,202.8L329.4,202.5L329.5,202.8L329.6,202.7L329.7,203.4L329.8,203.7L329.9,203.1L330.0,201.6L330.1,203.2L330.2,202.8L330.3,203.5L330.4,203.1L330.5,203.8L330.6,203.2L330.7,203.0L330.8,202.5L330.9,203.0L331.0,202.9L331.1,204.3L331.2,203.1L331.3,203.4L331.4,203.8L331.5,202.8L331.6,203.9L331.7,202.1L331.8,202.6L331.9,202.6L332.0,203.3L332.1,203.8L332.2,204.3L332.3,203.1L332.4,205.2L332.5,203.3L332.6,204.0L332.7,203.5L332.8,203.8L332.9,202.5L333.0,202.9L333.1,203.4L333.2,204.1L333.3,203.0L333.4,203.1L333.5,202.3L333.6,203.1L333.7,202.5L333.8,202.7L333.9,204.1L334.0,203.9L334.1,202.7L334.2,202.7L334.3,203.5L334.4,203.3L334.5,205.7L334.6,205.3L334.7,205.5L334.8,205.0L334.9,205.5L335.0,204.9L335.1,204.5L335.2,203.8L335.3,203.5L335.4,202.6L335.5,203.3L335.6,203.6L335.7,203.6L335.8,203.4L335.9,204.6L336.0,204.4L336.1,205.7L336.2,204.1L336.3,204.1L336.4,203.8L336.5,204.3L336.6,203.9L336.7,203.7L336.8,204.9L336.9,205.1L337.0,204.8L337.1,204.2L337.2,203.1L337.3,202.9L337.4,204.5L337.5,203.3L337.6,203.7L337.7,203.9L337.8,204.8L337.9,203.6L338.0,204.5L338.1,204.3L338.2,204.0L338.3,203.0L338.4,204.0L338.5,204.2L338.6,203.6L338.7,203.0L338.8,203.2L338.9,203.7L339.0,203.8L339.1,204.0L339.2,204.3L339.3,204.6L339.4,205.5L339.5,204.0L339.6,203.4L339.7,203.2L339.8,204.3L339.9,204.7L340.0,204.4L340.1,202.4L340.2,202.8L340.3,203.5L340.4,205.0L340.5,205.5L340.6,206.1L340.7,206.6L340.8,206.7L340.9,207.0L341.0,207.0L341.1,206.3L341.2,206.3L341.3,206.9L341.4,206.1L341.5,206.2L341.6,203.8L341.7,204.4L341.8,204.4L341.9,204.8L342.0,205.1L342.1,205.2L342.2,204.7L342.3,205.7L342.4,204.7L342.5,204.6L342.6,204.7L342.7,206.4L342.8,205.8L342.9,206.5L343.0,206.8L343.1,206.0L343.2,207.9L343.3,205.9L343.4,206.1L343.5,203.6L343.6,202.8L343.7,203.9L343.8,204.2L343.9,204.4L344.0,203.8L344.1,203.4L344.2,203.1L344.3,203.4L344.4,203.7L344.5,203.8L344.6,204.1L344.7,205.1L344.8,203.8L344.9,202.8L345.0,203.1L345.1,202.6L345.2,203.9L345.3,205.2L345.4,202.9L345.5,203.7L345.6,203.6L345.7,203.0L345.8,203.6L345.9,204.2L346.0,203.9L346.1,203.7L346.2,203.9L346.3,204.2L346.4,203.5L346.5,203.8L346.6,204.7L346.7,204.5L346.8,204.3L346.9,204.2L347.0,204.7L347.1,205.2L347.2,206.1L347.3,205.3L347.4,205.1L347.5,205.7L347.6,206.5L347.7,205.5L347.8,206.1L347.9,205.6L348.0,206.1L348.1,205.6L348.2,206.3L348.3,205.2L348.4,204.2L348.5,204.0L348.6,204.6L348.7,205.2L348.8,204.5L348.9,203.5L349.0,204.9L349.1,204.6L349.2,203.9L349.3,203.2L349.4,203.2L349.5,203.9L349.6,204.5L349.7,204.4L349.8,204.6L349.9,204.4L350.0,205.3L350.1,204.3L350.2,204.3L350.3,203.6L350.4,203.1L350.5,203.1L350.6,203.9L350.7,204.6L350.8,204.8L350.9,204.0L351.0,204.9L351.1,205.0L351.2,204.3L351.3,206.1L351.4,205.6L351.5,205.2L351.6,206.9L351.7,206.2L351.8,205.9L351.9,206.1L352.0,205.9L352.1,205.7L352.2,206.1L352.3,205.2L352.4,206.2L352.5,206.3L352.6,204.7L352.7,204.1L352.8,204.4L352.9,205.9L353.0,205.2L353.1,203.9L353.2,204.3L353.3,204.1L353.4,204.2L353.5,203.6L353.6,204.3L353.7,204.6L353.8,204.8L353.9,204.1L354.0,204.0L354.1,205.6L354.2,205.3L354.3,205.3L354.4,205.9L354.5,206.0L354.6,204.7L354.7,206.6L354.8,205.0L354.9,204.1L355.0,203.9L355.1,202.3L355.2,203.8L355.3,203.8L355.4,203.7L355.5,203.4L355.6,202.4L355.7,203.4L355.8,202.5L355.9,202.4L356.0,201.7L356.1,201.8L356.2,201.5L356.3,202.1L356.4,202.2L356.5,202.8L356.6,202.7L356.7,203.5L356.8,202.5L356.9,202.5L357.0,203.4L357.1,202.9L357.2,204.9L357.3,203.2L357.4,204.7L357.5,203.2L357.6,204.4L357.7,205.7L357.8,206.4L357.9,207.3L358.0,206.9L358.1,206.9L358.2,208.1L358.3,206.6L358.4,205.5L358.5,205.0L358.6,204.1L358.7,204.3L358.8,203.5L358.9,204.1L359.0,203.8L359.1,203.6L359.2,204.8L359.3,204.6L359.4,205.1L359.5,204.8L359.6,205.2L359.7,205.9L359.8,205.3L359.9,205.5" fill="none" stroke="#1a1a1a" stroke-width="0.75" stroke-linejoin="round"/>
<path d="M110.0,241.2L110.1,241.3L110.2,242.0L110.3,241.2L110.4,241.5L110.5,241.9L110.6,241.4L110.7,241.5L110.8,243.6L110.9,244.3L111.0,244.9L111.1,244.9L111.2,244.4L111.3,243.8L111.4,244.6L111.5,244.4L111.6,245.0L111.7,243.3L111.8,242.1L111.9,242.5L112.0,240.3L112.1,241.2L112.2,241.7L112.3,241.1L112.4,241.3L112.5,241.5L112.6,242.1L112.7,241.8L112.8,242.5L112.9,241.5L113.0,243.3L113.1,240.3L113.2,241.6L113.3,241.9L113.4,242.1L113.5,240.7L113.6,242.1L113.7,242.3L113.8,240.9L113.9,240.6L114.0,240.8L114.1,240.5L114.2,242.3L114.3,240.6L114.4,241.5L114.5,240.3L114.6,240.8L114.7,240.0L114.8,239.8L114.9,241.3L115.0,242.2L115.1,242.6L115.2,242.6L115.3,242.1L115.4,241.6L115.5,241.6L115.6,241.0L115.7,241.9L115.8,241.9L115.9,242.2L116.0,242.3L116.1,242.4L116.2,243.0L116.3,243.6L116.4,243.0L116.5,244.4L116.6,243.5L116.7,244.1L116.8,244.3L116.9,243.1L117.0,241.1L117.1,240.9L117.2,241.1L117.3,240.9L117.4,240.2L117.5,238.4L117.6,240.3L117.7,240.5L117.8,240.7L117.9,241.1L118.0,243.8L118.1,243.4L118.2,244.7L118.3,245.3L118.4,245.1L118.5,245.7L118.6,245.3L118.7,245.5L118.8,246.1L118.9,246.3L119.0,244.7L119.1,244.1L119.2,243.8L119.3,244.7L119.4,244.5L119.5,243.6L119.6,242.6L119.7,242.5L119.8,241.7L119.9,242.4L120.0,243.0L120.1,241.9L120.2,242.7L120.3,241.2L120.4,240.9L120.5,240.9L120.6,241.2L120.7,241.5L120.8,241.2L120.9,241.0L121.0,240.3L121.1,240.0L121.2,239.3L121.3,240.5L121.4,239.7L121.5,240.9L121.6,241.0L121.7,240.9L121.8,241.3L121.9,241.5L122.0,241.6L122.1,242.3L122.2,245.2L122.3,244.6L122.4,244.4L122.5,244.9L122.6,246.1L122.7,244.6L122.8,245.2L122.9,245.6L123.0,244.2L123.1,241.2L123.2,242.3L123.3,241.0L123.4,241.8L123.5,241.2L123.6,241.9L123.7,242.4L123.8,240.9L123.9,242.1L124.0,241.4L124.1,243.4L124.2,241.1L124.3,241.5L124.4,240.6L124.5,241.3L124.6,241.0L124.7,240.7L124.8,239.8L124.9,241.6L125.0,241.7L125.1,241.6L125.2,241.1L125.3,241.8L125.4,241.7L125.5,243.6L125.6,243.4L125.7,242.7L125.8,244.3L125.9,243.2L126.0,241.1L126.1,242.7L126.2,243.9L126.3,244.5L126.4,244.7L126.5,245.2L126.6,245.0L126.7,245.3L126.8,245.2L126.9,244.5L127.0,242.6L127.1,241.5L127.2,241.5L127.3,241.1L127.4,241.5L127.5,242.8L127.6,242.7L127.7,244.7L127.8,243.9L127.9,244.4L128.0,243.1L128.1,241.3L128.2,240.7L128.3,240.8L128.4,240.9L128.5,243.3L128.6,244.0L128.7,244.2L128.8,244.2L128.9,244.6L129.0,244.0L129.1,244.4L129.2,242.4L129.3,242.9L129.4,242.1L129.5,243.0L129.6,244.2L129.7,243.9L129.8,244.3L129.9,244.0L130.0,245.2L130.1,244.8L130.2,245.9L130.3,246.1L130.4,245.4L130.5,244.1L130.6,244.6L130.7,244.6L130.8,243.7L130.9,243.8L131.0,242.9L131.1,244.7L131.2,243.5L131.3,242.8L131.4,241.8L131.5,242.3L131.6,240.1L131.7,241.5L131.8,241.0L131.9,241.8L132.0,239.7L132.1,239.7L132.2,241.2L132.3,242.6L132.4,244.3L132.5,242.7L132.6,243.9L132.7,242.7L132.8,241.8L132.9,240.1L133.0,240.3L133.1,238.8L133.2,237.9L133.3,237.9L133.4,239.1L133.5,241.4L133.6,240.5L133.7,240.2L133.8,241.3L133.9,239.8L134.0,239.2L134.1,239.5L134.2,239.3L134.3,238.4L134.4,238.6L134.5,240.7L134.6,239.8L134.7,240.4L134.8,240.8L134.9,239.7L135.0,239.7L135.1,239.9L135.2,240.6L135.3,240.8L135.4,239.6L135.5,240.4L135.6,239.8L135.7,240.7L135.8,240.7L135.9,240.7L136.0,240.4L136.1,240.5L136.2,239.1L136.3,239.4L136.4,239.0L136.5,238.9L136.6,239.5L136.7,239.4L136.8,241.1L136.9,241.3L137.0,240.1L137.1,240.7L137.2,242.0L137.3,241.3L137.4,241.5L137.5,241.7L137.6,241.2L137.7,239.8L137.8,240.5L137.9,240.1L138.0,239.4L138.1,239.9L138.2,237.8L138.3,239.2L138.4,238.6L138.5,238.7L138.6,239.5L138.7,237.7L138.8,238.2L138.9,238.4L139.0,237.7L139.1,238.8L139.2,238.9L139.3,238.7L139.4,238.9L139.5,238.3L139.6,238.4L139.7,238.0L139.8,239.2L139.9,239.2L140.0,238.1L140.1,238.1L140.2,239.8L140.3,240.7L140.4,239.3L140.5,240.2L140.6,240.6L140.7,239.9L140.8,238.9L140.9,239.4L141.0,238.6L141.1,240.1L141.2,240.1L141.3,240.0L141.4,240.2L141.5,240.6L141.6,239.8L141.7,239.9L141.8,239.6L141.9,238.6L142.0,238.7L142.1,238.7L142.2,239.7L142.3,239.1L142.4,239.1L142.5,238.8L142.6,239.7L142.7,237.2L142.8,238.7L142.9,237.2L143.0,238.3L143.1,238.8L143.2,239.8L143.3,240.4L143.4,240.0L143.5,240.9L143.6,240.7L143.7,240.6L143.8,239.9L143.9,239.6L144.0,239.0L144.1,239.9L144.2,240.8L144.3,240.2L144.4,241.1L144.5,240.4L144.6,238.8L144.7,238.9L144.8,239.5L144.9,239.5L145.0,238.3L145.1,239.1L145.2,238.0L145.3,239.8L145.4,238.9L145.5,239.1L145.6,238.1L145.7,239.1L145.8,238.7L145.9,239.1L146.0,238.7L146.1,240.1L146.2,238.9L146.3,240.2L146.4,240.6L146.5,239.9L146.6,240.3L146.7,239.3L146.8,239.0L146.9,238.9L147.0,239.9L147.1,238.6L147.2,239.5L147.3,239.4L147.4,241.1L147.5,239.5L147.6,238.9L147.7,238.2L147.8,238.5L147.9,239.9L148.0,238.8L148.1,239.9L148.2,239.3L148.3,240.3L148.4,241.1L148.5,240.9L148.6,240.1L148.7,241.5L148.8,241.4L148.9,240.5L149.0,240.4L149.1,240.2L149.2,240.2L149.3,239.7L149.4,239.9L149.5,240.4L149.6,240.0L149.7,240.6L149.8,240.5L149.9,239.1L150.0,240.2L150.1,240.2L150.2,239.6L150.3,238.9L150.4,239.6L150.5,240.1L150.6,239.8L150.7,239.9L150.8,239.9L150.9,239.9L151.0,237.6L151.1,239.8L151.2,239.9L151.3,238.4L151.4,239.2L151.5,238.9L151.6,239.8L151.7,240.8L151.8,237.8L151.9,239.2L152.0,238.7L152.1,237.8L152.2,238.7L152.3,238.0L152.4,238.3L152.5,238.3L152.6,238.8L152.7,239.2L152.8,239.6L152.9,240.3L153.0,238.4L153.1,239.5L153.2,239.5L153.3,239.1L153.4,238.4L153.5,238.5L153.6,239.4L153.7,239.6L153.8,239.0L153.9,239.8L154.0,239.8L154.1,238.6L154.2,241.1L154.3,239.6L154.4,239.9L154.5,239.1L154.6,241.3L154.7,240.4L154.8,239.8L154.9,240.4L155.0,239.2L155.1,241.1L155.2,240.4L155.3,239.4L155.4,237.8L155.5,239.3L155.6,238.3L155.7,239.8L155.8,241.4L155.9,241.9L156.0,242.6L156.1,243.4L156.2,244.6L156.3,243.5L156.4,241.7L156.5,240.8L156.6,239.5L156.7,238.5L156.8,239.1L156.9,238.7L157.0,238.8L157.1,239.3L157.2,241.1L157.3,240.5L157.4,241.3L157.5,241.5L157.6,240.0L157.7,240.4L157.8,239.8L157.9,238.8L158.0,239.4L158.1,238.8L158.2,240.5L158.3,239.7L158.4,239.2L158.5,240.9L158.6,239.8L158.7,240.6L158.8,239.9L158.9,240.6L159.0,239.7L159.1,239.1L159.2,240.2L159.3,240.6L159.4,239.2L159.5,238.8L159.6,237.7L159.7,239.1L159.8,239.6L159.9,239.0L160.0,237.6L160.1,238.5L160.2,238.0L160.3,238.2L160.4,238.7L160.5,238.2L160.6,237.9L160.7,238.3L160.8,238.5L160.9,239.2L161.0,238.8L161.1,239.2L161.2,239.8L161.3,239.8L161.4,239.8L161.5,239.7L161.6,243.2L161.7,243.3L161.8,241.7L161.9,239.0L162.0,239.1L162.1,238.0L162.2,238.6L162.3,238.8L162.4,238.0L162.5,238.5L162.6,238.7L162.7,238.5L162.8,240.3L162.9,239.1L163.0,239.1L163.1,239.5L163.2,238.7L163.3,239.9L163.4,239.3L163.5,238.8L163.6,239.2L163.7,238.7L163.8,241.0L163.9,240.1L164.0,239.5L164.1,240.0L164.2,239.7L164.3,240.6L164.4,240.4L164.5,238.8L164.6,239.6L164.7,238.9L164.8,239.2L164.9,240.2L165.0,244.6L165.1,243.8L165.2,246.4L165.3,246.5L165.4,245.5L165.5,245.2L165.6,245.5L165.7,244.8L165.8,245.1L165.9,245.7L166.0,245.4L166.1,243.7L166.2,241.2L166.3,240.1L166.4,238.9L166.5,238.5L166.6,239.7L166.7,238.9L166.8,239.3L166.9,239.6L167.0,238.8L167.1,240.5L167.2,240.7L167.3,241.5L167.4,240.5L167.5,239.5L167.6,239.2L167.7,240.2L167.8,240.3L167.9,240.3L168.0,240.4L168.1,239.3L168.2,239.9L168.3,241.2L168.4,241.3L168.5,239.0L168.6,240.1L168.7,241.1L168.8,240.7L168.9,239.3L169.0,239.2L169.1,240.4L169.2,240.5L169.3,240.5L169.4,241.4L169.5,241.0L169.6,241.3L169.7,240.8L169.8,241.7L169.9,241.5L170.0,239.2L170.1,240.7L170.2,240.1L170.3,239.3L170.4,239.7L170.5,240.3L170.6,240.5L170.7,239.7L170.8,239.1L170.9,240.2L171.0,239.0L171.1,239.0L171.2,239.3L171.3,239.9L171.4,240.2L171.5,240.0L171.6,239.3L171.7,239.9L171.8,241.3L171.9,241.5L172.0,242.0L172.1,243.3L172.2,243.6L172.3,243.8L172.4,243.8L172.5,242.3L172.6,240.5L172.7,239.9L172.8,239.2L172.9,239.1L173.0,239.7L173.1,240.3L173.2,240.4L173.3,239.1L173.4,239.4L173.5,238.7L173.6,239.6L173.7,238.1L173.8,239.6L173.9,240.5L174.0,240.4L174.1,240.7L174.2,239.9L174.3,241.0L174.4,241.5L174.5,240.9L174.6,240.7L174.7,239.5L174.8,239.5L174.9,239.7L175.0,241.4L175.1,240.6L175.2,240.7L175.3,240.6L175.4,240.2L175.5,240.1L175.6,240.5L175.7,240.0L175.8,239.0L175.9,238.3L176.0,239.2L176.1,239.9L176.2,239.6L176.3,240.0L176.4,241.1L176.5,240.1L176.6,241.2L176.7,240.4L176.8,240.1L176.9,240.5L177.0,239.6L177.1,239.8L177.2,239.4L177.3,241.0L177.4,240.0L177.5,239.6L177.6,240.0L177.7,239.4L177.8,238.8L177.9,240.6L178.0,240.0L178.1,240.4L178.2,240.1L178.3,240.2L178.4,241.4L178.5,240.6L178.6,240.5L178.7,239.4L178.8,239.4L178.9,238.8L179.0,240.0L179.1,240.1L179.2,239.9L179.3,240.9L179.4,239.8L179.5,238.9L179.6,240.2L179.7,239.4L179.8,240.6L179.9,239.5L180.0,239.6L180.1,239.2L180.2,239.8L180.3,239.6L180.4,239.9L180.5,239.6L180.6,238.7L180.7,239.4L180.8,240.0L180.9,238.8L181.0,239.6L181.1,238.9L181.2,239.2L181.3,239.0L181.4,239.7L181.5,238.4L181.6,239.7L181.7,239.5L181.8,238.6L181.9,239.4L182.0,238.2L182.1,238.8L182.2,238.1L182.3,239.0L182.4,240.1L182.5,239.8L182.6,240.1L182.7,240.3L182.8,240.4L182.9,240.5L183.0,241.2L183.1,241.8L183.2,240.5L183.3,240.9L183.4,239.5L183.5,240.0L183.6,240.6L183.7,239.7L183.8,240.1L183.9,241.2L184.0,240.5L184.1,240.5L184.2,240.9L184.3,240.3L184.4,240.4L184.5,240.4L184.6,240.0L184.7,240.6L184.8,240.5L184.9,240.8L185.0,241.1L185.1,240.5L185.2,242.2L185.3,240.7L185.4,241.5L185.5,240.1L185.6,239.8L185.7,239.8L185.8,239.2L185.9,239.6L186.0,240.5L186.1,239.8L186.2,240.9L186.3,239.5L186.4,239.4L186.5,239.8L186.6,240.0L186.7,239.8L186.8,241.3L186.9,240.4L187.0,240.0L187.1,239.9L187.2,240.3L187.3,240.4L187.4,240.4L187.5,241.3L187.6,239.3L187.7,239.8L187.8,240.1L187.9,238.9L188.0,239.3L188.1,239.1L188.2,239.1L188.3,239.0L188.4,238.3L188.5,238.5L188.6,239.1L188.7,240.6L188.8,238.7L188.9,238.3L189.0,238.2L189.1,238.4L189.2,238.9L189.3,238.8L189.4,238.3L189.5,238.5L189.6,240.5L189.7,238.7L189.8,238.9L189.9,238.5L190.0,239.3L190.1,239.7L190.2,239.3L190.3,238.5L190.4,239.8L190.5,239.0L190.6,239.7L190.7,239.5L190.8,240.5L190.9,240.8L191.0,239.8L191.1,240.6L191.2,238.9L191.3,239.5L191.4,239.3L191.5,239.6L191.6,239.2L191.7,239.9L191.8,239.9L191.9,238.7L192.0,238.3L192.1,238.3L192.2,238.3L192.3,239.8L192.4,239.2L192.5,239.1L192.6,240.1L192.7,239.5L192.8,239.9L192.9,240.5L193.0,241.6L193.1,240.5L193.2,241.6L193.3,240.8L193.4,240.8L193.5,241.9L193.6,241.4L193.7,240.4L193.8,241.8L193.9,240.2L194.0,240.8L194.1,241.1L194.2,241.0L194.3,240.5L194.4,241.0L194.5,240.5L194.6,239.3L194.7,239.0L194.8,240.2L194.9,239.5L195.0,239.9L195.1,239.4L195.2,239.1L195.3,239.6L195.4,239.2L195.5,239.9L195.6,239.5L195.7,238.6L195.8,240.7L195.9,242.2L196.0,244.0L196.1,243.2L196.2,244.1L196.3,243.6L196.4,243.5L196.5,245.0L196.6,243.2L196.7,241.0L196.8,240.4L196.9,239.1L197.0,239.3L197.1,238.9L197.2,238.7L197.3,240.5L197.4,239.1L197.5,240.1L197.6,238.9L197.7,240.6L197.8,239.0L197.9,239.4L198.0,240.4L198.1,240.8L198.2,240.2L198.3,239.6L198.4,240.3L198.5,240.0L198.6,240.0L198.7,241.4L198.8,242.8L198.9,242.7L199.0,243.4L199.1,244.3L199.2,244.8L199.3,245.2L199.4,246.0L199.5,244.2L199.6,242.3L199.7,242.6L199.8,242.9L199.9,243.0L200.0,243.3L200.1,241.4L200.2,240.2L200.3,239.8L200.4,240.3L200.5,240.5L200.6,241.2L200.7,239.8L200.8,239.2L200.9,239.6L201.0,238.2L201.1,239.4L201.2,239.0L201.3,240.4L201.4,239.7L201.5,240.2L201.6,239.6L201.7,240.3L201.8,239.0L201.9,239.0L202.0,237.8L202.1,237.7L202.2,238.5L202.3,238.5L202.4,238.2L202.5,238.4L202.6,239.4L202.7,239.8L202.8,240.9L202.9,241.2L203.0,242.5L203.1,244.6L203.2,243.3L203.3,244.5L203.4,243.7L203.5,243.9L203.6,242.2L203.7,242.3L203.8,239.4L203.9,240.3L204.0,240.4L204.1,238.2L204.2,239.0L204.3,238.9L204.4,238.6L204.5,239.4L204.6,238.8L204.7,239.3L204.8,239.6L204.9,239.8L205.0,241.8L205.1,240.1L205.2,239.0L205.3,239.6L205.4,239.8L205.5,239.5L205.6,239.7L205.7,239.7L205.8,239.5L205.9,240.2L206.0,239.9L206.1,240.0L206.2,240.8L206.3,239.5L206.4,240.5L206.5,241.6L206.6,240.7L206.7,240.3L206.8,240.4L206.9,239.8L207.0,239.4L207.1,239.9L207.2,240.4L207.3,240.1L207.4,240.9L207.5,239.8L207.6,239.8L207.7,240.4L207.8,240.0L207.9,239.9L208.0,239.6L208.1,239.1L208.2,239.3L208.3,238.9L208.4,237.8L208.5,240.1L208.6,239.1L208.7,239.2L208.8,239.5L208.9,240.4L209.0,240.8L209.1,239.2L209.2,240.2L209.3,239.9L209.4,240.1L209.5,239.4L209.6,238.1L209.7,239.0L209.8,239.9L209.9,240.4L210.0,243.3L210.1,242.4L210.2,241.7L210.3,241.4L210.4,241.5L210.5,239.6L210.6,239.3L210.7,239.8L210.8,240.8L210.9,240.0L211.0,240.6L211.1,241.0L211.2,241.3L211.3,240.3L211.4,241.7L211.5,241.0L211.6,240.2L211.7,241.8L211.8,241.2L211.9,240.2L212.0,239.4L212.1,239.8L212.2,240.2L212.3,239.8L212.4,239.7L212.5,239.2L212.6,239.2L212.7,239.6L212.8,240.6L212.9,239.9L213.0,241.3L213.1,241.5L213.2,241.1L213.3,242.4L213.4,242.2L213.5,241.5L213.6,242.3L213.7,240.5L213.8,240.7L213.9,242.0L214.0,239.7L214.1,240.5L214.2,240.8L214.3,240.7L214.4,240.2L214.5,240.4L214.6,239.4L214.7,239.3L214.8,239.7L214.9,240.0L215.0,239.1L215.1,238.8L215.2,239.5L215.3,239.4L215.4,239.8L215.5,239.1L215.6,238.3L215.7,238.5L215.8,237.9L215.9,239.0L216.0,239.5L216.1,239.1L216.2,238.7L216.3,238.0L216.4,238.9L216.5,238.2L216.6,237.7L216.7,236.8L216.8,237.9L216.9,239.6L217.0,241.6L217.1,242.2L217.2,243.5L217.3,243.7L217.4,242.6L217.5,242.6L217.6,242.5L217.7,242.6L217.8,240.8L217.9,239.2L218.0,239.5L218.1,241.3L218.2,241.0L218.3,241.3L218.4,241.4L218.5,242.2L218.6,241.2L218.7,240.3L218.8,240.5L218.9,240.8L219.0,242.7L219.1,241.5L219.2,240.3L219.3,239.5L219.4,239.5L219.5,239.6L219.6,239.8L219.7,239.8L219.8,239.3L219.9,239.5L220.0,238.7L220.1,239.0L220.2,238.5L220.3,238.8L220.4,238.4L220.5,238.3L220.6,239.3L220.7,239.0L220.8,239.6L220.9,240.7L221.0,243.4L221.1,243.5L221.2,244.5L221.3,244.2L221.4,243.5L221.5,242.6L221.6,240.3L221.7,241.0L221.8,241.4L221.9,239.5L222.0,238.5L222.1,237.5L222.2,239.4L222.3,238.8L222.4,238.0L222.5,239.1L222.6,238.0L222.7,238.0L222.8,239.4L222.9,240.2L223.0,239.4L223.1,239.2L223.2,239.1L223.3,240.2L223.4,239.4L223.5,238.7L223.6,240.2L223.7,238.7L223.8,238.7L223.9,239.3L224.0,239.8L224.1,240.4L224.2,239.8L224.3,239.1L224.4,239.9L224.5,240.3L224.6,240.6L224.7,239.7L224.8,240.8L224.9,240.0L225.0,239.2L225.1,240.7L225.2,241.0L225.3,241.9L225.4,242.4L225.5,241.3L225.6,241.5L225.7,240.5L225.8,241.1L225.9,240.5L226.0,239.6L226.1,239.6L226.2,239.5L226.3,241.0L226.4,239.4L226.5,239.8L226.6,240.3L226.7,239.3L226.8,240.1L226.9,242.9L227.0,242.5L227.1,243.3L227.2,242.9L227.3,243.7L227.4,241.6L227.5,240.2L227.6,240.3L227.7,240.4L227.8,240.1L227.9,239.0L228.0,239.2L228.1,240.2L228.2,241.5L228.3,242.4L228.4,240.9L228.5,239.9L228.6,240.3L228.7,239.9L228.8,239.8L228.9,239.8L229.0,240.9L229.1,240.5L229.2,239.8L229.3,239.4L229.4,240.3L229.5,239.6L229.6,240.3L229.7,239.1L229.8,239.9L229.9,240.5L230.0,239.8L230.1,240.3L230.2,239.2L230.3,239.0L230.4,239.4L230.5,239.3L230.6,238.0L230.7,238.5L230.8,238.9L230.9,239.3L231.0,238.6L231.1,239.8L231.2,239.4L231.3,239.6L231.4,239.0L231.5,238.8L231.6,239.8L231.7,238.6L231.8,239.5L231.9,238.5L232.0,239.5L232.1,240.5L232.2,240.0L232.3,238.7L232.4,240.7L232.5,239.4L232.6,239.9L232.7,239.9L232.8,240.6L232.9,240.6L233.0,241.3L233.1,241.9L233.2,241.1L233.3,239.9L233.4,240.1L233.5,240.8L233.6,240.3L233.7,241.5L233.8,239.6L233.9,241.6L234.0,240.7L234.1,240.4L234.2,242.1L234.3,241.5L234.4,240.3L234.5,241.9L234.6,241.3L234.7,239.2L234.8,239.5L234.9,239.3L235.0,239.3L235.1,238.9L235.2,238.8L235.3,239.8L235.4,240.1L235.5,239.1L235.6,239.1L235.7,238.9L235.8,239.3L235.9,239.5L236.0,238.6L236.1,238.4L236.2,238.6L236.3,239.3L236.4,237.7L236.5,238.1L236.6,237.8L236.7,237.9L236.8,238.1L236.9,238.4L237.0,237.1L237.1,238.5L237.2,238.0L237.3,237.3L237.4,236.7L237.5,237.9L237.6,237.3L237.7,237.8L237.8,238.1L237.9,237.9L238.0,238.4L238.1,238.4L238.2,239.1L238.3,238.8L238.4,239.9L238.5,241.3L238.6,243.0L238.7,243.6L238.8,245.9L238.9,244.2L239.0,242.3L239.1,243.5L239.2,240.9L239.3,241.3L239.4,240.1L239.5,240.5L239.6,240.5L239.7,239.3L239.8,240.3L239.9,240.4L240.0,239.9L240.1,242.0L240.2,240.4L240.3,240.1L240.4,241.3L240.5,241.6L240.6,241.4L240.7,240.7L240.8,239.3L240.9,240.3L241.0,240.0L241.1,240.0L241.2,240.2L241.3,239.0L241.4,240.2L241.5,238.9L241.6,239.5L241.7,240.6L241.8,240.3L241.9,239.7L242.0,238.9L242.1,240.5L242.2,239.9L242.3,238.9L242.4,240.4L242.5,240.4L242.6,241.7L242.7,242.4L242.8,243.8L242.9,244.2L243.0,243.8L243.1,243.4L243.2,243.5L243.3,243.2L243.4,240.6L243.5,240.5L243.6,239.1L243.7,240.1L243.8,241.5L243.9,241.7L244.0,240.1L244.1,239.6L244.2,240.1L244.3,240.8L244.4,240.2L244.5,240.5L244.6,239.6L244.7,240.3L244.8,240.2L244.9,239.7L245.0,241.1L245.1,240.5L245.2,240.4L245.3,240.7L245.4,240.4L245.5,240.1L245.6,240.1L245.7,240.6L245.8,240.8L245.9,240.6L246.0,240.0L246.1,241.2L246.2,241.7L246.3,243.0L246.4,243.6L246.5,244.1L246.6,243.2L246.7,240.7L246.8,241.3L246.9,239.3L247.0,239.4L247.1,239.6L247.2,239.0L247.3,238.3L247.4,238.2L247.5,239.8L247.6,239.3L247.7,240.0L247.8,240.0L247.9,239.1L248.0,238.3L248.1,238.3L248.2,238.3L248.3,241.1L248.4,242.6L248.5,243.5L248.6,245.5L248.7,245.2L248.8,243.6L248.9,243.9L249.0,241.7L249.1,239.7L249.2,239.6L249.3,239.3L249.4,239.2L249.5,239.5L249.6,239.4L249.7,238.7L249.8,239.6L249.9,239.7L250.0,238.0L250.1,239.2L250.2,239.3L250.3,239.5L250.4,238.3L250.5,238.9L250.6,240.1L250.7,239.9L250.8,241.2L250.9,240.3L251.0,242.0L251.1,239.9L251.2,239.1L251.3,240.3L251.4,240.2L251.5,239.3L251.6,238.5L251.7,241.1L251.8,240.1L251.9,241.7L252.0,242.2L252.1,243.5L252.2,244.1L252.3,243.3L252.4,244.0L252.5,242.9L252.6,241.5L252.7,239.6L252.8,240.3L252.9,239.9L253.0,239.2L253.1,240.4L253.2,238.5L253.3,239.2L253.4,238.9L253.5,239.9L253.6,238.3L253.7,238.9L253.8,237.9L253.9,237.2L254.0,239.5L254.1,238.0L254.2,238.1L254.3,239.0L254.4,238.4L254.5,238.7L254.6,238.2L254.7,239.1L254.8,238.1L254.9,237.8L255.0,238.8L255.1,238.9L255.2,239.2L255.3,239.0L255.4,238.1L255.5,239.0L255.6,239.9L255.7,239.3L255.8,240.4L255.9,239.1L256.0,240.5L256.1,240.6L256.2,240.2L256.3,239.1L256.4,239.8L256.5,239.5L256.6,238.9L256.7,239.2L256.8,238.7L256.9,238.4L257.0,239.2L257.1,240.0L257.2,239.3L257.3,240.6L257.4,240.0L257.5,240.3L257.6,240.1L257.7,240.5L257.8,239.9L257.9,240.5L258.0,241.8L258.1,244.1L258.2,243.4L258.3,243.5L258.4,243.0L258.5,243.6L258.6,242.7L258.7,242.2L258.8,241.5L258.9,240.5L259.0,240.2L259.1,239.8L259.2,239.6L259.3,239.1L259.4,241.6L259.5,239.3L259.6,239.6L259.7,240.1L259.8,239.9L259.9,240.3L260.0,238.8L260.1,239.7L260.2,238.6L260.3,238.5L260.4,238.4L260.5,237.8L260.6,238.8L260.7,237.7L260.8,238.6L260.9,238.1L261.0,238.6L261.1,238.8L261.2,238.7L261.3,237.9L261.4,239.3L261.5,241.8L261.6,242.1L261.7,242.0L261.8,242.6L261.9,242.3L262.0,241.1L262.1,240.1L262.2,239.4L262.3,239.0L262.4,239.3L262.5,239.7L262.6,240.5L262.7,241.5L262.8,241.4L262.9,241.8L263.0,240.5L263.1,239.2L263.2,239.1L263.3,239.0L263.4,240.5L263.5,239.9L263.6,240.7L263.7,239.8L263.8,239.3L263.9,239.6L264.0,239.7L264.1,239.1L264.2,238.9L264.3,239.2L264.4,239.5L264.5,239.1L264.6,238.7L264.7,237.6L264.8,238.9L264.9,239.2L265.0,242.2L265.1,243.2L265.2,243.5L265.3,243.4L265.4,242.9L265.5,243.0L265.6,243.5L265.7,243.8L265.8,243.3L265.9,241.4L266.0,241.5L266.1,240.4L266.2,239.1L266.3,238.6L266.4,239.3L266.5,240.6L266.6,239.0L266.7,239.8L266.8,239.8L266.9,240.5L267.0,240.6L267.1,240.3L267.2,240.5L267.3,241.6L267.4,241.1L267.5,241.0L267.6,240.6L267.7,241.4L267.8,241.7L267.9,242.7L268.0,243.4L268.1,244.0L268.2,244.5L268.3,245.0L268.4,244.2L268.5,243.5L268.6,241.0L268.7,240.6L268.8,239.7L268.9,240.2L269.0,239.1L269.1,240.0L269.2,240.1L269.3,240.1L269.4,239.8L269.5,240.0L269.6,240.9L269.7,241.0L269.8,240.2L269.9,239.7L270.0,240.0L270.1,239.3L270.2,239.1L270.3,239.4L270.4,238.9L270.5,239.5L270.6,239.1L270.7,238.7L270.8,238.6L270.9,240.3L271.0,239.6L271.1,238.7L271.2,239.1L271.3,239.0L271.4,239.6L271.5,239.1L271.6,239.8L271.7,239.6L271.8,239.4L271.9,239.3L272.0,238.0L272.1,238.8L272.2,238.6L272.3,238.5L272.4,238.3L272.5,239.3L272.6,239.5L272.7,239.0L272.8,240.2L272.9,239.5L273.0,239.3L273.1,239.3L273.2,238.7L273.3,238.5L273.4,238.6L273.5,237.8L273.6,239.4L273.7,238.8L273.8,237.5L273.9,237.7L274.0,239.2L274.1,239.6L274.2,238.4L274.3,239.3L274.4,238.6L274.5,239.0L274.6,239.8L274.7,239.6L274.8,240.3L274.9,239.2L275.0,240.8L275.1,241.1L275.2,241.5L275.3,240.4L275.4,240.7L275.5,240.9L275.6,241.1L275.7,239.7L275.8,239.3L275.9,238.9L276.0,238.6L276.1,239.3L276.2,238.5L276.3,238.5L276.4,239.1L276.5,238.4L276.6,237.9L276.7,237.8L276.8,236.1L276.9,237.2L277.0,237.8L277.1,237.0L277.2,237.7L277.3,238.8L277.4,237.4L277.5,237.6L277.6,238.9L277.7,237.3L277.8,238.6L277.9,237.1L278.0,238.3L278.1,238.7L278.2,239.3L278.3,240.0L278.4,239.7L278.5,240.1L278.6,238.4L278.7,240.5L278.8,239.7L278.9,239.3L279.0,239.4L279.1,240.7L279.2,239.3L279.3,239.4L279.4,240.8L279.5,239.6L279.6,239.7L279.7,238.9L279.8,238.8L279.9,238.8L280.0,239.0L280.1,237.3L280.2,239.3L280.3,238.6L280.4,238.8L280.5,239.8L280.6,238.2L280.7,239.7L280.8,239.6L280.9,240.2L281.0,240.8L281.1,241.5L281.2,242.7L281.3,242.6L281.4,243.9L281.5,242.6L281.6,242.4L281.7,241.5L281.8,240.1L281.9,239.6L282.0,240.0L282.1,239.6L282.2,239.8L282.3,238.8L282.4,239.4L282.5,239.5L282.6,238.9L282.7,238.7L282.8,239.1L282.9,239.0L283.0,238.4L283.1,238.5L283.2,239.8L283.3,239.4L283.4,240.5L283.5,240.7L283.6,240.8L283.7,241.6L283.8,241.4L283.9,240.0L284.0,240.8L284.1,240.9L284.2,240.3L284.3,240.3L284.4,238.1L284.5,239.3L284.6,239.3L284.7,239.1L284.8,237.5L284.9,238.0L285.0,237.4L285.1,236.9L285.2,236.6L285.3,236.1L285.4,237.8L285.5,236.8L285.6,239.0L285.7,238.7L285.8,238.8L285.9,239.0L286.0,239.1L286.1,237.7L286.2,238.2L286.3,237.6L286.4,238.9L286.5,237.4L286.6,237.9L286.7,238.6L286.8,238.1L286.9,238.1L287.0,238.7L287.1,238.0L287.2,238.4L287.3,238.0L287.4,237.7L287.5,238.3L287.6,239.8L287.7,237.7L287.8,237.5L287.9,238.3L288.0,238.7L288.1,238.5L288.2,238.6L288.3,238.4L288.4,239.2L288.5,239.6L288.6,239.3L288.7,239.6L288.8,239.2L288.9,240.1L289.0,238.2L289.1,240.5L289.2,240.0L289.3,239.9L289.4,240.3L289.5,239.3L289.6,241.3L289.7,240.2L289.8,239.4L289.9,239.5L290.0,238.5L290.1,238.5L290.2,238.4L290.3,238.7L290.4,238.6L290.5,239.9L290.6,239.5L290.7,241.0L290.8,238.7L290.9,238.6L291.0,238.2L291.1,238.7L291.2,239.5L291.3,239.8L291.4,238.7L291.5,239.5L291.6,239.2L291.7,238.8L291.8,239.1L291.9,239.0L292.0,239.5L292.1,239.6L292.2,239.0L292.3,239.3L292.4,239.6L292.5,239.2L292.6,239.4L292.7,239.1L292.8,238.4L292.9,240.4L293.0,238.2L293.1,240.4L293.2,239.4L293.3,239.4L293.4,239.8L293.5,239.1L293.6,239.6L293.7,239.3L293.8,239.9L293.9,239.7L294.0,240.8L294.1,240.7L294.2,239.9L294.3,240.9L294.4,238.5L294.5,239.0L294.6,237.3L294.7,239.1L294.8,238.4L294.9,239.4L295.0,239.9L295.1,239.6L295.2,238.9L295.3,239.3L295.4,239.7L295.5,238.7L295.6,241.1L295.7,242.6L295.8,243.7L295.9,243.0L296.0,243.3L296.1,240.7L296.2,239.9L296.3,240.4L296.4,239.2L296.5,239.8L296.6,239.4L296.7,238.6L296.8,238.8L296.9,239.1L297.0,237.9L297.1,238.3L297.2,239.6L297.3,240.1L297.4,239.0L297.5,238.9L297.6,239.0L297.7,238.1L297.8,239.9L297.9,241.1L298.0,242.7L298.1,242.2L298.2,243.7L298.3,241.7L298.4,238.9L298.5,239.1L298.6,237.7L298.7,237.6L298.8,237.2L298.9,238.3L299.0,238.5L299.1,238.0L299.2,238.6L299.3,238.6L299.4,238.4L299.5,239.5L299.6,239.9L299.7,239.8L299.8,239.2L299.9,238.7L300.0,239.0L300.1,238.9L300.2,238.5L300.3,239.5L300.4,237.3L300.5,239.2L300.6,240.3L300.7,240.1L300.8,242.5L300.9,245.9L301.0,247.1L301.1,247.1L301.2,246.6L301.3,247.2L301.4,248.2L301.5,246.7L301.6,246.8L301.7,244.9L301.8,242.0L301.9,239.3L302.0,240.3L302.1,240.8L302.2,240.4L302.3,241.2L302.4,242.0L302.5,241.2L302.6,241.6L302.7,240.0L302.8,242.1L302.9,240.2L303.0,241.2L303.1,243.6L303.2,244.7L303.3,247.2L303.4,248.5L303.5,247.2L303.6,247.0L303.7,245.3L303.8,241.3L303.9,239.6L304.0,239.4L304.1,239.6L304.2,239.9L304.3,239.7L304.4,239.0L304.5,239.7L304.6,238.9L304.7,239.3L304.8,239.4L304.9,238.9L305.0,239.8L305.1,238.9L305.2,238.5L305.3,238.5L305.4,239.4L305.5,238.5L305.6,238.7L305.7,237.8L305.8,238.6L305.9,238.8L306.0,238.6L306.1,239.6L306.2,239.4L306.3,239.0L306.4,238.8L306.5,239.5L306.6,240.1L306.7,240.0L306.8,239.9L306.9,239.8L307.0,240.6L307.1,242.0L307.2,242.3L307.3,242.7L307.4,243.3L307.5,242.1L307.6,240.9L307.7,240.7L307.8,239.0L307.9,239.9L308.0,238.9L308.1,239.5L308.2,237.9L308.3,239.2L308.4,240.4L308.5,242.7L308.6,243.9L308.7,244.1L308.8,244.5L308.9,244.1L309.0,244.6L309.1,242.6L309.2,240.9L309.3,238.5L309.4,238.2L309.5,237.8L309.6,237.1L309.7,237.4L309.8,239.3L309.9,240.8L310.0,238.0L310.1,238.7L310.2,238.8L310.3,239.3L310.4,239.3L310.5,238.2L310.6,239.3L310.7,238.8L310.8,238.7L310.9,238.5L311.0,238.9L311.1,238.8L311.2,238.6L311.3,240.2L311.4,242.0L311.5,242.4L311.6,244.4L311.7,243.8L311.8,243.0L311.9,242.1L312.0,240.2L312.1,239.5L312.2,241.0L312.3,238.9L312.4,240.0L312.5,240.3L312.6,239.2L312.7,240.3L312.8,240.8L312.9,239.8L313.0,239.5L313.1,240.0L313.2,240.1L313.3,238.6L313.4,240.0L313.5,239.8L313.6,239.6L313.7,239.8L313.8,241.1L313.9,240.0L314.0,241.7L314.1,241.2L314.2,240.4L314.3,239.7L314.4,239.7L314.5,240.5L314.6,240.4L314.7,240.0L314.8,240.2L314.9,239.5L315.0,240.6L315.1,239.6L315.2,240.5L315.3,239.8L315.4,239.9L315.5,239.0L315.6,238.8L315.7,238.5L315.8,238.8L315.9,239.2L316.0,240.0L316.1,240.3L316.2,239.7L316.3,238.7L316.4,237.4L316.5,237.5L316.6,238.2L316.7,238.6L316.8,239.7L316.9,239.5L317.0,239.2L317.1,240.5L317.2,240.9L317.3,240.8L317.4,241.1L317.5,240.7L317.6,239.3L317.7,240.0L317.8,240.4L317.9,239.9L318.0,240.2L318.1,239.2L318.2,238.5L318.3,239.0L318.4,240.3L318.5,239.7L318.6,239.2L318.7,240.3L318.8,239.8L318.9,239.4L319.0,239.0L319.1,238.7L319.2,238.5L319.3,237.2L319.4,238.0L319.5,238.3L319.6,241.2L319.7,243.3L319.8,244.8L319.9,245.5L320.0,246.2L320.1,245.7L320.2,244.4L320.3,244.7L320.4,244.6L320.5,245.5L320.6,247.4L320.7,247.9L320.8,244.9L320.9,244.7L321.0,241.7L321.1,240.5L321.2,240.5L321.3,240.2L321.4,241.1L321.5,242.9L321.6,243.7L321.7,241.9L321.8,239.8L321.9,239.8L322.0,237.5L322.1,239.4L322.2,238.7L322.3,239.7L322.4,239.8L322.5,239.4L322.6,240.1L322.7,241.1L322.8,244.4L322.9,244.6L323.0,245.2L323.1,246.6L323.2,246.1L323.3,245.0L323.4,243.1L323.5,241.4L323.6,240.4L323.7,240.0L323.8,239.9L323.9,241.5L324.0,241.0L324.1,241.3L324.2,240.9L324.3,240.7L324.4,240.5L324.5,241.7L324.6,242.1L324.7,241.9L324.8,242.0L324.9,241.9L325.0,240.4L325.1,240.4L325.2,240.8L325.3,242.9L325.4,243.7L325.5,245.0L325.6,244.0L325.7,245.2L325.8,243.4L325.9,244.9L326.0,244.5L326.1,245.1L326.2,243.1L326.3,241.2L326.4,241.2L326.5,240.0L326.6,239.1L326.7,240.5L326.8,240.1L326.9,241.4L327.0,243.5L327.1,244.2L327.2,246.1L327.3,245.3L327.4,242.0L327.5,240.1L327.6,239.8L327.7,239.3L327.8,239.0L327.9,239.5L328.0,238.3L328.1,237.8L328.2,237.8L328.3,237.7L328.4,238.0L328.5,238.4L328.6,239.3L328.7,237.4L328.8,238.3L328.9,239.1L329.0,238.9L329.1,239.3L329.2,240.7L329.3,240.2L329.4,238.4L329.5,239.7L329.6,239.7L329.7,240.2L329.8,241.2L329.9,239.9L330.0,242.4L330.1,244.9L330.2,245.8L330.3,245.8L330.4,246.9L330.5,245.8L330.6,246.6L330.7,246.1L330.8,246.0L330.9,242.5L331.0,240.8L331.1,240.9L331.2,239.5L331.3,238.9L331.4,237.8L331.5,238.4L331.6,239.4L331.7,238.7L331.8,237.7L331.9,238.7L332.0,239.2L332.1,240.0L332.2,240.5L332.3,239.5L332.4,238.4L332.5,238.0L332.6,239.9L332.7,239.8L332.8,240.6L332.9,239.4L333.0,240.9L333.1,240.8L333.2,239.6L333.3,240.9L333.4,240.4L333.5,241.4L333.6,240.6L333.7,240.2L333.8,240.8L333.9,240.7L334.0,240.7L334.1,240.7L334.2,240.4L334.3,240.0L334.4,238.5L334.5,239.5L334.6,239.9L334.7,239.0L334.8,239.8L334.9,240.5L335.0,241.7L335.1,243.1L335.2,242.7L335.3,241.7L335.4,241.5L335.5,240.1L335.6,240.2L335.7,240.3L335.8,239.2L335.9,240.3L336.0,240.3L336.1,240.1L336.2,239.7L336.3,240.4L336.4,241.2L336.5,243.4L336.6,244.2L336.7,244.9L336.8,245.6L336.9,244.9L337.0,244.9L337.1,243.8L337.2,242.1L337.3,241.2L337.4,240.3L337.5,240.0L337.6,240.0L337.7,240.8L337.8,240.4L337.9,240.4L338.0,241.2L338.1,240.9L338.2,239.9L338.3,239.9L338.4,238.6L338.5,239.6L338.6,238.3L338.7,239.3L338.8,239.3L338.9,240.0L339.0,238.6L339.1,239.0L339.2,238.6L339.3,238.8L339.4,238.4L339.5,239.2L339.6,239.0L339.7,239.6L339.8,240.9L339.9,242.5L340.0,242.8L340.1,244.8L340.2,243.9L340.3,244.8L340.4,243.2L340.5,243.3L340.6,239.7L340.7,240.1L340.8,239.8L340.9,239.5L341.0,241.0L341.1,243.9L341.2,245.7L341.3,246.1L341.4,247.1L341.5,245.4L341.6,243.8L341.7,242.4L341.8,241.0L341.9,240.2L342.0,239.5L342.1,239.9L342.2,241.1L342.3,240.3L342.4,239.9L342.5,241.8L342.6,242.8L342.7,241.2L342.8,241.4L342.9,241.6L343.0,241.9L343.1,243.6L343.2,245.0L343.3,246.1L343.4,244.8L343.5,245.3L343.6,245.7L343.7,246.0L343.8,244.3L343.9,243.4L344.0,241.6L344.1,240.8L344.2,242.2L344.3,244.1L344.4,244.8L344.5,246.3L344.6,246.4L344.7,246.2L344.8,245.9L344.9,242.4L345.0,241.1L345.1,239.2L345.2,239.7L345.3,238.3L345.4,239.1L345.5,239.2L345.6,237.6L345.7,238.6L345.8,239.3L345.9,238.4L346.0,237.8L346.1,236.8L346.2,237.7L346.3,237.6L346.4,236.9L346.5,238.8L346.6,238.5L346.7,237.3L346.8,237.9L346.9,238.9L347.0,238.5L347.1,240.7L347.2,242.8L347.3,242.9L347.4,242.7L347.5,241.7L347.6,240.5L347.7,240.0L347.8,239.5L347.9,239.0L348.0,240.0L348.1,241.3L348.2,238.8L348.3,240.2L348.4,240.6L348.5,241.3L348.6,241.8L348.7,243.0L348.8,245.0L348.9,247.1L349.0,245.6L349.1,245.3L349.2,243.4L349.3,244.4L349.4,242.8L349.5,241.9L349.6,241.9L349.7,241.6L349.8,241.1L349.9,240.7L350.0,240.0L350.1,240.7L350.2,240.8L350.3,240.8L350.4,240.9L350.5,239.8L350.6,240.0L350.7,240.6L350.8,243.7L350.9,244.9L351.0,245.6L351.1,247.1L351.2,246.7L351.3,246.1L351.4,246.5L351.5,245.6L351.6,246.1L351.7,244.3L351.8,244.2L351.9,243.9L352.0,244.1L352.1,244.1L352.2,243.7L352.3,243.4L352.4,242.3L352.5,240.6L352.6,241.3L352.7,240.3L352.8,240.2L352.9,238.7L353.0,239.5L353.1,239.2L353.2,240.5L353.3,239.9L353.4,240.3L353.5,239.7L353.6,241.1L353.7,240.8L353.8,240.2L353.9,241.1L354.0,241.0L354.1,241.5L354.2,241.0L354.3,241.3L354.4,241.2L354.5,242.1L354.6,241.6L354.7,241.0L354.8,240.0L354.9,240.1L355.0,238.8L355.1,238.9L355.2,240.3L355.3,239.8L355.4,239.9L355.5,238.6L355.6,239.3L355.7,239.3L355.8,239.2L355.9,241.3L356.0,240.2L356.1,239.7L356.2,239.0L356.3,239.1L356.4,239.7L356.5,239.2L356.6,240.7L356.7,241.5L356.8,243.7L356.9,245.0L357.0,246.4L357.1,245.8L357.2,244.6L357.3,244.9L357.4,242.6L357.5,240.3L357.6,239.7L357.7,238.7L357.8,239.4L357.9,238.9L358.0,238.4L358.1,238.1L358.2,238.0L358.3,238.1L358.4,240.1L358.5,238.5L358.6,239.2L358.7,238.5L358.8,240.3L358.9,242.9L359.0,246.9L359.1,248.3L359.2,249.8L359.3,248.7L359.4,249.4L359.5,246.1L359.6,242.4L359.7,238.5L359.8,239.8L359.9,237.4" fill="none" stroke="#1a1a1a" stroke-width="0.75" stroke-linejoin="round"/>
<path d="M110.0,275.4L110.1,274.8L110.2,274.8L110.3,274.6L110.4,275.1L110.5,274.4L110.6,274.9L110.7,274.5L110.8,274.8L110.9,275.1L111.0,274.5L111.1,274.0L111.2,275.1L111.3,274.5L111.4,274.0L111.5,274.2L111.6,274.7L111.7,278.4L111.8,279.9L111.9,280.7L112.0,281.0L112.1,277.7L112.2,274.9L112.3,274.8L112.4,273.6L112.5,273.8L112.6,274.2L112.7,274.5L112.8,276.1L112.9,277.6L113.0,281.1L113.1,282.2L113.2,283.0L113.3,282.0L113.4,283.4L113.5,281.1L113.6,276.1L113.7,274.5L113.8,273.7L113.9,275.7L114.0,276.7L114.1,275.3L114.2,275.8L114.3,276.7L114.4,275.5L114.5,274.9L114.6,273.3L114.7,274.6L114.8,275.7L114.9,275.0L115.0,275.5L115.1,275.5L115.2,276.5L115.3,277.3L115.4,278.1L115.5,279.1L115.6,281.2L115.7,280.9L115.8,281.9L115.9,281.4L116.0,279.5L116.1,277.7L116.2,275.2L116.3,275.1L116.4,274.1L116.5,273.1L116.6,274.6L116.7,274.0L116.8,274.1L116.9,275.2L117.0,274.2L117.1,274.2L117.2,273.0L117.3,274.0L117.4,273.7L117.5,272.7L117.6,274.5L117.7,274.7L117.8,275.2L117.9,275.5L118.0,275.6L118.1,274.1L118.2,274.6L118.3,274.4L118.4,274.7L118.5,275.0L118.6,275.5L118.7,275.7L118.8,275.5L118.9,276.3L119.0,276.6L119.1,275.8L119.2,275.9L119.3,274.9L119.4,274.8L119.5,274.4L119.6,275.0L119.7,274.6L119.8,275.5L119.9,276.5L120.0,276.2L120.1,276.6L120.2,275.6L120.3,275.5L120.4,275.3L120.5,274.8L120.6,275.6L120.7,273.9L120.8,273.9L120.9,274.8L121.0,274.0L121.1,274.4L121.2,274.9L121.3,275.0L121.4,274.4L121.5,274.9L121.6,273.9L121.7,274.5L121.8,276.6L121.9,277.7L122.0,280.9L122.1,283.5L122.2,283.3L122.3,283.2L122.4,282.5L122.5,277.8L122.6,274.2L122.7,273.8L122.8,274.6L122.9,273.7L123.0,274.8L123.1,273.6L123.2,273.5L123.3,274.1L123.4,275.5L123.5,274.5L123.6,276.4L123.7,276.0L123.8,276.1L123.9,278.2L124.0,283.1L124.1,285.9L124.2,286.7L124.3,285.6L124.4,283.2L124.5,279.5L124.6,275.4L124.7,277.0L124.8,274.7L124.9,274.8L125.0,275.1L125.1,274.4L125.2,274.4L125.3,273.9L125.4,273.9L125.5,272.6L125.6,274.2L125.7,274.3L125.8,275.2L125.9,274.8L126.0,273.5L126.1,275.6L126.2,273.8L126.3,275.3L126.4,279.2L126.5,286.8L126.6,290.3L126.7,292.1L126.8,292.9L126.9,291.0L127.0,285.4L127.1,278.1L127.2,273.5L127.3,272.9L127.4,273.8L127.5,274.9L127.6,274.1L127.7,273.8L127.8,273.9L127.9,274.0L128.0,273.4L128.1,273.0L128.2,273.7L128.3,275.1L128.4,278.4L128.5,285.0L128.6,289.6L128.7,288.9L128.8,288.8L128.9,285.9L129.0,280.5L129.1,277.0L129.2,274.3L129.3,274.9L129.4,273.9L129.5,273.7L129.6,274.1L129.7,273.2L129.8,274.9L129.9,274.3L130.0,275.1L130.1,273.9L130.2,273.8L130.3,274.3L130.4,274.4L130.5,274.5L130.6,274.9L130.7,275.0L130.8,275.4L130.9,277.1L131.0,282.2L131.1,284.6L131.2,285.8L131.3,283.5L131.4,282.0L131.5,279.0L131.6,277.4L131.7,277.4L131.8,276.4L131.9,277.3L132.0,275.9L132.1,276.5L132.2,276.1L132.3,276.0L132.4,276.6L132.5,276.5L132.6,277.2L132.7,275.6L132.8,276.9L132.9,279.3L133.0,280.7L133.1,282.9L133.2,283.1L133.3,284.0L133.4,280.8L133.5,277.6L133.6,276.5L133.7,275.5L133.8,274.4L133.9,275.1L134.0,275.9L134.1,275.4L134.2,275.4L134.3,275.7L134.4,276.1L134.5,274.7L134.6,274.9L134.7,273.7L134.8,274.6L134.9,273.6L135.0,274.2L135.1,274.7L135.2,274.1L135.3,274.2L135.4,275.3L135.5,274.3L135.6,275.3L135.7,274.0L135.8,274.6L135.9,275.1L136.0,274.9L136.1,274.8L136.2,273.7L136.3,275.1L136.4,275.2L136.5,276.0L136.6,275.6L136.7,274.3L136.8,276.1L136.9,278.2L137.0,282.1L137.1,283.2L137.2,283.1L137.3,284.1L137.4,283.7L137.5,281.7L137.6,277.1L137.7,274.4L137.8,273.7L137.9,274.7L138.0,274.0L138.1,273.3L138.2,275.6L138.3,274.6L138.4,274.6L138.5,273.3L138.6,273.4L138.7,273.5L138.8,273.5L138.9,274.2L139.0,275.7L139.1,275.9L139.2,275.2L139.3,276.1L139.4,276.2L139.5,276.6L139.6,276.0L139.7,276.9L139.8,275.5L139.9,275.2L140.0,275.9L140.1,274.7L140.2,275.3L140.3,274.5L140.4,274.9L140.5,275.3L140.6,274.7L140.7,274.2L140.8,272.9L140.9,274.3L141.0,273.3L141.1,273.5L141.2,274.2L141.3,274.4L141.4,274.1L141.5,274.7L141.6,274.9L141.7,272.9L141.8,274.2L141.9,274.3L142.0,274.9L142.1,274.6L142.2,276.0L142.3,276.8L142.4,276.0L142.5,276.0L142.6,276.1L142.7,275.6L142.8,275.5L142.9,274.5L143.0,275.7L143.1,275.3L143.2,274.6L143.3,274.6L143.4,273.9L143.5,273.6L143.6,275.4L143.7,274.5L143.8,274.8L143.9,275.0L144.0,275.4L144.1,273.1L144.2,273.5L144.3,273.8L144.4,275.5L144.5,273.2L144.6,273.9L144.7,273.7L144.8,274.7L144.9,273.7L145.0,274.0L145.1,274.6L145.2,274.4L145.3,274.4L145.4,274.2L145.5,274.0L145.6,274.8L145.7,275.3L145.8,274.0L145.9,274.4L146.0,274.1L146.1,274.6L146.2,275.4L146.3,274.9L146.4,276.0L146.5,275.2L146.6,274.0L146.7,274.9L146.8,274.1L146.9,274.4L147.0,275.6L147.1,274.6L147.2,273.6L147.3,274.4L147.4,275.4L147.5,275.0L147.6,274.1L147.7,274.4L147.8,275.2L147.9,273.7L148.0,275.4L148.1,274.5L148.2,275.8L148.3,274.7L148.4,273.2L148.5,274.4L148.6,275.1L148.7,274.3L148.8,274.6L148.9,275.2L149.0,274.7L149.1,274.3L149.2,273.5L149.3,275.1L149.4,274.5L149.5,274.6L149.6,276.0L149.7,279.1L149.8,280.7L149.9,282.6L150.0,283.0L150.1,282.7L150.2,283.1L150.3,283.8L150.4,281.7L150.5,277.0L150.6,274.5L150.7,275.2L150.8,276.0L150.9,276.5L151.0,274.9L151.1,274.7L151.2,274.6L151.3,275.9L151.4,276.8L151.5,281.0L151.6,283.3L151.7,280.5L151.8,276.7L151.9,274.5L152.0,274.3L152.1,276.3L152.2,279.4L152.3,282.0L152.4,282.3L152.5,282.6L152.6,282.2L152.7,280.2L152.8,276.7L152.9,275.1L153.0,274.9L153.1,275.7L153.2,275.3L153.3,273.1L153.4,273.4L153.5,274.6L153.6,275.5L153.7,274.4L153.8,275.0L153.9,273.7L154.0,275.2L154.1,275.1L154.2,275.8L154.3,275.6L154.4,275.6L154.5,275.6L154.6,275.3L154.7,275.1L154.8,275.4L154.9,275.7L155.0,276.9L155.1,275.9L155.2,276.2L155.3,276.1L155.4,274.4L155.5,274.7L155.6,274.3L155.7,272.5L155.8,275.1L155.9,272.3L156.0,273.5L156.1,273.1L156.2,274.5L156.3,274.7L156.4,274.4L156.5,275.3L156.6,274.8L156.7,274.9L156.8,273.5L156.9,274.7L157.0,274.8L157.1,273.8L157.2,274.1L157.3,274.5L157.4,274.6L157.5,275.7L157.6,275.3L157.7,275.7L157.8,275.9L157.9,275.6L158.0,276.1L158.1,276.2L158.2,275.4L158.3,276.1L158.4,275.1L158.5,275.0L158.6,274.4L158.7,273.8L158.8,274.6L158.9,274.8L159.0,274.9L159.1,274.7L159.2,275.8L159.3,275.5L159.4,275.7L159.5,275.6L159.6,275.3L159.7,275.0L159.8,274.6L159.9,275.5L160.0,274.4L160.1,274.3L160.2,274.0L160.3,274.7L160.4,273.9L160.5,273.5L160.6,274.3L160.7,273.6L160.8,273.7L160.9,273.9L161.0,274.1L161.1,273.5L161.2,272.8L161.3,272.5L161.4,271.8L161.5,273.4L161.6,273.8L161.7,273.8L161.8,273.5L161.9,273.2L162.0,273.0L162.1,272.7L162.2,273.1L162.3,273.7L162.4,274.8L162.5,275.8L162.6,276.3L162.7,275.2L162.8,274.9L162.9,275.5L163.0,275.0L163.1,275.3L163.2,275.0L163.3,275.6L163.4,274.7L163.5,275.1L163.6,274.9L163.7,273.8L163.8,274.7L163.9,274.7L164.0,274.9L164.1,273.3L164.2,274.3L164.3,273.8L164.4,272.9L164.5,273.5L164.6,274.0L164.7,274.0L164.8,274.3L164.9,273.3L165.0,274.3L165.1,274.0L165.2,275.0L165.3,274.2L165.4,274.6L165.5,274.9L165.6,275.4L165.7,274.5L165.8,274.1L165.9,274.6L166.0,274.9L166.1,275.4L166.2,273.4L166.3,274.1L166.4,273.7L166.5,273.2L166.6,273.8L166.7,274.3L166.8,274.1L166.9,276.7L167.0,280.5L167.1,282.6L167.2,283.2L167.3,283.1L167.4,280.7L167.5,276.6L167.6,273.6L167.7,273.0L167.8,271.7L167.9,272.7L168.0,273.9L168.1,273.5L168.2,274.0L168.3,274.4L168.4,273.0L168.5,273.7L168.6,273.3L168.7,274.0L168.8,273.8L168.9,273.4L169.0,274.4L169.1,274.0L169.2,274.6L169.3,274.5L169.4,275.3L169.5,275.6L169.6,276.4L169.7,275.4L169.8,274.7L169.9,274.4L170.0,274.6L170.1,274.3L170.2,273.9L170.3,273.4L170.4,273.9L170.5,274.0L170.6,273.8L170.7,274.8L170.8,274.4L170.9,274.4L171.0,274.9L171.1,274.2L171.2,273.8L171.3,274.8L171.4,276.0L171.5,277.1L171.6,279.1L171.7,279.5L171.8,279.2L171.9,278.8L172.0,277.6L172.1,276.3L172.2,275.7L172.3,274.1L172.4,272.7L172.5,274.0L172.6,273.7L172.7,275.0L172.8,275.2L172.9,275.3L173.0,275.6L173.1,276.3L173.2,275.1L173.3,275.2L173.4,275.4L173.5,275.0L173.6,274.1L173.7,275.0L173.8,275.5L173.9,274.0L174.0,274.9L174.1,274.7L174.2,275.1L174.3,273.8L174.4,275.6L174.5,274.7L174.6,275.4L174.7,274.9L174.8,275.5L174.9,275.0L175.0,274.3L175.1,274.5L175.2,274.0L175.3,275.4L175.4,275.4L175.5,275.1L175.6,274.4L175.7,274.4L175.8,274.9L175.9,275.5L176.0,274.5L176.1,275.2L176.2,274.6L176.3,275.0L176.4,274.6L176.5,276.0L176.6,275.5L176.7,275.2L176.8,274.6L176.9,275.4L177.0,275.1L177.1,275.6L177.2,275.2L177.3,274.8L177.4,274.5L177.5,274.5L177.6,274.3L177.7,274.1L177.8,273.8L177.9,274.7L178.0,273.9L178.1,273.5L178.2,274.8L178.3,273.5L178.4,274.7L178.5,276.8L178.6,279.0L178.7,279.9L178.8,280.2L178.9,279.0L179.0,277.6L179.1,274.2L179.2,275.0L179.3,275.3L179.4,275.2L179.5,275.5L179.6,275.2L179.7,275.1L179.8,275.8L179.9,275.4L180.0,275.2L180.1,275.2L180.2,276.5L180.3,276.8L180.4,276.7L180.5,275.0L180.6,276.4L180.7,275.8L180.8,276.4L180.9,275.0L181.0,275.6L181.1,275.7L181.2,276.0L181.3,276.1L181.4,274.8L181.5,274.5L181.6,275.1L181.7,274.6L181.8,275.1L181.9,274.4L182.0,274.8L182.1,274.3L182.2,274.1L182.3,277.9L182.4,279.6L182.5,283.0L182.6,282.6L182.7,282.5L182.8,281.6L182.9,279.3L183.0,275.4L183.1,275.2L183.2,272.8L183.3,274.0L183.4,274.5L183.5,274.5L183.6,275.5L183.7,275.1L183.8,274.9L183.9,275.7L184.0,275.2L184.1,275.7L184.2,275.0L184.3,273.4L184.4,273.8L184.5,275.0L184.6,273.8L184.7,274.0L184.8,274.5L184.9,272.8L185.0,273.7L185.1,274.2L185.2,274.3L185.3,275.1L185.4,274.9L185.5,275.7L185.6,275.1L185.7,274.2L185.8,275.3L185.9,274.1L186.0,275.8L186.1,275.2L186.2,274.9L186.3,274.7L186.4,274.3L186.5,274.8L186.6,273.4L186.7,274.6L186.8,274.6L186.9,275.8L187.0,278.8L187.1,281.1L187.2,279.2L187.3,276.0L187.4,274.2L187.5,273.5L187.6,274.0L187.7,273.8L187.8,274.4L187.9,273.6L188.0,273.1L188.1,273.2L188.2,273.6L188.3,273.7L188.4,273.3L188.5,273.8L188.6,275.1L188.7,274.3L188.8,274.3L188.9,275.6L189.0,275.5L189.1,273.5L189.2,274.3L189.3,275.2L189.4,279.7L189.5,286.7L189.6,290.2L189.7,292.1L189.8,291.1L189.9,285.8L190.0,279.4L190.1,275.2L190.2,274.5L190.3,273.0L190.4,273.8L190.5,274.9L190.6,274.7L190.7,276.0L190.8,275.6L190.9,275.6L191.0,275.4L191.1,274.9L191.2,274.2L191.3,273.1L191.4,274.4L191.5,274.4L191.6,274.7L191.7,274.6L191.8,275.5L191.9,275.8L192.0,274.3L192.1,275.1L192.2,273.8L192.3,274.3L192.4,274.2L192.5,273.8L192.6,273.2L192.7,273.8L192.8,274.7L192.9,274.0L193.0,275.5L193.1,274.9L193.2,275.4L193.3,275.1L193.4,275.2L193.5,275.9L193.6,277.2L193.7,275.6L193.8,276.1L193.9,275.3L194.0,274.4L194.1,274.9L194.2,275.2L194.3,274.7L194.4,275.1L194.5,274.6L194.6,274.4L194.7,274.4L194.8,274.7L194.9,274.4L195.0,274.7L195.1,274.7L195.2,274.3L195.3,273.5L195.4,273.2L195.5,273.8L195.6,274.2L195.7,275.8L195.8,275.5L195.9,274.9L196.0,274.3L196.1,274.6L196.2,274.1L196.3,274.8L196.4,275.4L196.5,275.4L196.6,275.6L196.7,276.1L196.8,275.3L196.9,276.0L197.0,275.9L197.1,275.8L197.2,276.2L197.3,275.1L197.4,275.9L197.5,274.6L197.6,274.4L197.7,274.6L197.8,273.4L197.9,274.1L198.0,274.3L198.1,274.9L198.2,275.0L198.3,276.0L198.4,275.6L198.5,275.3L198.6,274.3L198.7,274.9L198.8,275.5L198.9,274.7L199.0,275.1L199.1,275.6L199.2,275.2L199.3,273.9L199.4,273.5L199.5,274.5L199.6,273.3L199.7,273.9L199.8,275.2L199.9,277.1L200.0,279.3L200.1,282.5L200.2,282.6L200.3,280.6L200.4,279.9L200.5,274.9L200.6,273.7L200.7,275.3L200.8,274.1L200.9,275.7L201.0,274.2L201.1,274.5L201.2,274.7L201.3,273.9L201.4,274.3L201.5,275.0L201.6,276.8L201.7,279.5L201.8,280.3L201.9,279.4L202.0,274.7L202.1,275.1L202.2,273.7L202.3,272.8L202.4,273.6L202.5,272.9L202.6,273.4L202.7,273.5L202.8,273.4L202.9,272.8L203.0,273.8L203.1,274.8L203.2,274.3L203.3,273.0L203.4,274.0L203.5,273.4L203.6,273.2L203.7,272.9L203.8,273.9L203.9,273.1L204.0,274.2L204.1,273.6L204.2,274.7L204.3,275.7L204.4,274.9L204.5,274.3L204.6,275.3L204.7,275.7L204.8,275.4L204.9,274.5L205.0,275.3L205.1,275.1L205.2,275.1L205.3,274.7L205.4,276.6L205.5,274.4L205.6,275.3L205.7,276.2L205.8,274.5L205.9,276.6L206.0,275.0L206.1,275.1L206.2,273.6L206.3,274.3L206.4,273.2L206.5,273.6L206.6,273.9L206.7,274.0L206.8,274.9L206.9,275.4L207.0,274.7L207.1,274.3L207.2,274.6L207.3,274.9L207.4,274.6L207.5,275.4L207.6,276.1L207.7,274.6L207.8,274.8L207.9,274.9L208.0,275.7L208.1,275.9L208.2,273.8L208.3,275.0L208.4,274.1L208.5,274.1L208.6,273.6L208.7,274.4L208.8,275.4L208.9,274.2L209.0,273.5L209.1,273.6L209.2,274.9L209.3,274.6L209.4,273.5L209.5,274.4L209.6,274.8L209.7,275.1L209.8,275.0L209.9,275.0L210.0,274.5L210.1,275.6L210.2,276.1L210.3,274.0L210.4,274.7L210.5,273.5L210.6,273.4L210.7,273.1L210.8,274.3L210.9,273.9L211.0,273.9L211.1,274.1L211.2,273.7L211.3,274.5L211.4,273.9L211.5,273.2L211.6,274.8L211.7,273.2L211.8,274.9L211.9,274.0L212.0,274.7L212.1,274.1L212.2,273.9L212.3,273.9L212.4,273.8L212.5,274.7L212.6,274.5L212.7,274.7L212.8,276.3L212.9,277.9L213.0,280.3L213.1,282.8L213.2,282.7L213.3,282.4L213.4,280.7L213.5,276.4L213.6,276.8L213.7,275.9L213.8,276.0L213.9,275.9L214.0,276.0L214.1,274.1L214.2,275.5L214.3,274.7L214.4,274.7L214.5,275.2L214.6,274.4L214.7,273.9L214.8,274.1L214.9,275.0L215.0,275.0L215.1,274.0L215.2,274.0L215.3,273.8L215.4,273.6L215.5,273.9L215.6,273.0L215.7,273.6L215.8,273.2L215.9,272.6L216.0,272.4L216.1,272.3L216.2,273.1L216.3,273.7L216.4,272.3L216.5,273.2L216.6,272.1L216.7,273.2L216.8,273.2L216.9,273.5L217.0,273.8L217.1,273.6L217.2,273.2L217.3,274.4L217.4,273.2L217.5,274.1L217.6,273.9L217.7,273.0L217.8,273.6L217.9,273.2L218.0,274.3L218.1,273.6L218.2,273.8L218.3,273.9L218.4,274.9L218.5,274.4L218.6,273.7L218.7,273.5L218.8,274.5L218.9,274.5L219.0,275.3L219.1,275.1L219.2,274.5L219.3,273.9L219.4,274.5L219.5,275.1L219.6,274.9L219.7,273.8L219.8,274.3L219.9,274.5L220.0,274.9L220.1,274.7L220.2,274.7L220.3,274.8L220.4,276.2L220.5,274.7L220.6,276.5L220.7,276.2L220.8,275.7L220.9,275.2L221.0,274.9L221.1,275.8L221.2,275.2L221.3,275.5L221.4,275.3L221.5,275.1L221.6,275.8L221.7,275.4L221.8,274.7L221.9,273.7L222.0,274.2L222.1,274.9L222.2,274.2L222.3,274.8L222.4,274.1L222.5,274.1L222.6,274.7L222.7,274.0L222.8,274.3L222.9,274.8L223.0,274.0L223.1,274.8L223.2,274.7L223.3,273.3L223.4,273.5L223.5,275.2L223.6,274.3L223.7,273.9L223.8,273.5L223.9,273.8L224.0,274.3L224.1,276.1L224.2,275.5L224.3,274.9L224.4,274.7L224.5,273.6L224.6,273.5L224.7,273.0L224.8,273.4L224.9,274.0L225.0,274.0L225.1,274.6L225.2,274.8L225.3,274.1L225.4,274.8L225.5,274.5L225.6,274.4L225.7,274.0L225.8,273.9L225.9,273.3L226.0,274.8L226.1,274.4L226.2,273.3L226.3,273.6L226.4,274.6L226.5,275.2L226.6,274.1L226.7,276.0L226.8,275.2L226.9,275.7L227.0,275.4L227.1,276.5L227.2,275.7L227.3,275.9L227.4,275.8L227.5,275.8L227.6,275.1L227.7,275.1L227.8,274.2L227.9,274.7L228.0,275.2L228.1,275.5L228.2,274.6L228.3,274.9L228.4,274.8L228.5,274.1L228.6,274.2L228.7,274.0L228.8,273.0L228.9,274.1L229.0,274.1L229.1,274.3L229.2,274.1L229.3,274.5L229.4,274.8L229.5,275.3L229.6,274.9L229.7,274.7L229.8,274.8L229.9,275.0L230.0,274.7L230.1,274.9L230.2,275.5L230.3,276.6L230.4,275.5L230.5,275.7L230.6,274.9L230.7,275.1L230.8,274.4L230.9,274.7L231.0,275.6L231.1,275.2L231.2,275.0L231.3,275.5L231.4,276.2L231.5,275.8L231.6,275.8L231.7,275.5L231.8,275.0L231.9,274.3L232.0,275.6L232.1,274.6L232.2,273.9L232.3,274.8L232.4,274.3L232.5,275.4L232.6,274.2L232.7,274.2L232.8,273.9L232.9,274.4L233.0,274.8L233.1,273.6L233.2,273.1L233.3,274.1L233.4,274.6L233.5,273.0L233.6,274.6L233.7,274.9L233.8,274.1L233.9,274.7L234.0,275.5L234.1,274.2L234.2,274.1L234.3,273.7L234.4,274.8L234.5,274.8L234.6,274.3L234.7,274.6L234.8,274.7L234.9,274.9L235.0,274.2L235.1,274.4L235.2,275.1L235.3,275.4L235.4,274.6L235.5,275.1L235.6,274.4L235.7,273.7L235.8,274.6L235.9,273.0L236.0,273.3L236.1,273.2L236.2,273.9L236.3,273.6L236.4,274.2L236.5,273.7L236.6,273.9L236.7,274.8L236.8,273.1L236.9,273.8L237.0,274.5L237.1,274.3L237.2,275.0L237.3,275.4L237.4,275.0L237.5,275.7L237.6,274.5L237.7,275.3L237.8,273.7L237.9,274.0L238.0,273.7L238.1,272.6L238.2,274.0L238.3,273.1L238.4,273.6L238.5,273.8L238.6,273.5L238.7,273.2L238.8,272.8L238.9,272.8L239.0,273.7L239.1,273.6L239.2,274.8L239.3,274.7L239.4,274.5L239.5,273.7L239.6,273.7L239.7,274.1L239.8,274.1L239.9,274.4L240.0,274.6L240.1,274.2L240.2,274.6L240.3,274.6L240.4,275.2L240.5,274.6L240.6,275.1L240.7,275.2L240.8,274.9L240.9,275.2L241.0,274.8L241.1,275.8L241.2,275.3L241.3,275.0L241.4,274.6L241.5,274.1L241.6,275.3L241.7,273.9L241.8,274.9L241.9,274.7L242.0,274.8L242.1,275.4L242.2,275.8L242.3,275.1L242.4,275.7L242.5,276.0L242.6,276.8L242.7,278.4L242.8,278.8L242.9,277.4L243.0,275.8L243.1,274.2L243.2,275.1L243.3,274.9L243.4,274.7L243.5,275.6L243.6,275.0L243.7,274.5L243.8,275.9L243.9,277.3L244.0,281.4L244.1,281.6L244.2,283.3L244.3,283.4L244.4,281.7L244.5,277.5L244.6,274.9L244.7,273.6L244.8,274.6L244.9,275.2L245.0,274.3L245.1,273.8L245.2,273.9L245.3,274.1L245.4,274.7L245.5,274.7L245.6,274.8L245.7,274.7L245.8,275.6L245.9,275.3L246.0,275.5L246.1,276.0L246.2,275.7L246.3,275.8L246.4,275.5L246.5,273.7L246.6,275.5L246.7,275.0L246.8,275.6L246.9,277.8L247.0,281.6L247.1,285.1L247.2,284.9L247.3,284.8L247.4,284.1L247.5,282.2L247.6,277.2L247.7,274.0L247.8,274.7L247.9,275.0L248.0,274.9L248.1,275.3L248.2,274.8L248.3,275.2L248.4,275.4L248.5,275.2L248.6,275.4L248.7,275.0L248.8,276.7L248.9,274.1L249.0,275.3L249.1,274.6L249.2,275.8L249.3,275.8L249.4,274.9L249.5,274.7L249.6,275.3L249.7,275.5L249.8,275.2L249.9,277.7L250.0,279.8L250.1,282.7L250.2,281.9L250.3,282.2L250.4,280.4L250.5,277.0L250.6,275.3L250.7,274.1L250.8,275.0L250.9,274.1L251.0,274.1L251.1,274.8L251.2,273.2L251.3,273.6L251.4,273.9L251.5,274.9L251.6,275.7L251.7,274.6L251.8,274.4L251.9,274.6L252.0,274.3L252.1,275.5L252.2,274.8L252.3,275.5L252.4,274.4L252.5,274.2L252.6,273.0L252.7,274.1L252.8,275.5L252.9,277.6L253.0,281.8L253.1,284.6L253.2,285.2L253.3,285.2L253.4,284.3L253.5,281.7L253.6,277.6L253.7,274.3L253.8,274.1L253.9,275.8L254.0,279.6L254.1,282.0L254.2,282.7L254.3,281.9L254.4,280.8L254.5,279.1L254.6,275.9L254.7,274.1L254.8,274.6L254.9,274.3L255.0,274.7L255.1,275.4L255.2,274.0L255.3,274.2L255.4,275.0L255.5,274.0L255.6,274.9L255.7,274.8L255.8,274.7L255.9,277.5L256.0,280.0L256.1,282.9L256.2,282.7L256.3,283.6L256.4,280.9L256.5,277.2L256.6,275.3L256.7,275.6L256.8,275.9L256.9,275.6L257.0,275.2L257.1,274.5L257.2,273.5L257.3,275.6L257.4,274.0L257.5,275.7L257.6,275.3L257.7,274.3L257.8,274.4L257.9,274.4L258.0,276.0L258.1,279.9L258.2,283.7L258.3,283.5L258.4,282.6L258.5,280.7L258.6,277.5L258.7,275.1L258.8,273.6L258.9,274.7L259.0,273.6L259.1,273.7L259.2,274.9L259.3,274.5L259.4,274.7L259.5,275.1L259.6,274.6L259.7,275.0L259.8,274.8L259.9,275.3L260.0,275.4L260.1,274.6L260.2,274.5L260.3,274.8L260.4,274.2L260.5,274.7L260.6,275.1L260.7,275.6L260.8,273.8L260.9,274.2L261.0,273.9L261.1,273.5L261.2,274.0L261.3,274.9L261.4,274.4L261.5,275.2L261.6,273.3L261.7,273.5L261.8,273.9L261.9,274.1L262.0,275.1L262.1,274.2L262.2,274.3L262.3,275.3L262.4,275.2L262.5,274.6L262.6,274.9L262.7,276.3L262.8,275.2L262.9,275.1L263.0,276.0L263.1,274.9L263.2,275.3L263.3,274.6L263.4,274.7L263.5,274.3L263.6,274.2L263.7,274.6L263.8,274.9L263.9,274.6L264.0,273.8L264.1,274.2L264.2,274.7L264.3,273.3L264.4,274.4L264.5,275.0L264.6,275.1L264.7,275.3L264.8,274.9L264.9,275.8L265.0,276.1L265.1,275.3L265.2,276.6L265.3,275.9L265.4,275.9L265.5,276.6L265.6,275.6L265.7,274.8L265.8,275.1L265.9,277.3L266.0,280.5L266.1,282.4L266.2,283.4L266.3,282.1L266.4,280.2L266.5,276.4L266.6,274.7L266.7,272.9L266.8,273.9L266.9,275.1L267.0,273.6L267.1,274.6L267.2,275.2L267.3,275.0L267.4,274.6L267.5,275.1L267.6,275.4L267.7,276.1L267.8,276.3L267.9,276.1L268.0,275.4L268.1,274.6L268.2,276.0L268.3,273.8L268.4,273.5L268.5,273.9L268.6,272.9L268.7,272.8L268.8,273.0L268.9,276.8L269.0,279.8L269.1,282.9L269.2,284.3L269.3,282.9L269.4,280.6L269.5,275.9L269.6,274.0L269.7,275.2L269.8,274.0L269.9,274.6L270.0,274.9L270.1,275.1L270.2,275.3L270.3,274.8L270.4,275.0L270.5,274.9L270.6,275.0L270.7,274.4L270.8,275.4L270.9,273.4L271.0,274.4L271.1,274.3L271.2,273.1L271.3,273.9L271.4,275.0L271.5,274.8L271.6,274.1L271.7,274.7L271.8,273.8L271.9,273.4L272.0,274.0L272.1,274.5L272.2,274.1L272.3,274.1L272.4,273.8L272.5,273.9L272.6,274.5L272.7,273.7L272.8,272.9L272.9,273.8L273.0,274.3L273.1,275.2L273.2,276.2L273.3,275.9L273.4,276.0L273.5,275.5L273.6,275.7L273.7,274.9L273.8,275.6L273.9,274.4L274.0,274.3L274.1,273.9L274.2,275.4L274.3,275.2L274.4,274.9L274.5,276.6L274.6,275.2L274.7,276.0L274.8,274.3L274.9,275.1L275.0,274.0L275.1,275.7L275.2,274.8L275.3,275.4L275.4,275.5L275.5,275.3L275.6,275.1L275.7,275.7L275.8,275.4L275.9,275.8L276.0,275.8L276.1,275.7L276.2,274.9L276.3,275.4L276.4,274.7L276.5,275.5L276.6,274.7L276.7,275.6L276.8,274.4L276.9,274.0L277.0,272.9L277.1,273.0L277.2,271.8L277.3,272.0L277.4,272.3L277.5,273.5L277.6,272.7L277.7,275.0L277.8,273.7L277.9,273.3L278.0,274.3L278.1,274.1L278.2,275.2L278.3,274.3L278.4,275.3L278.5,274.6L278.6,274.5L278.7,275.2L278.8,273.7L278.9,274.2L279.0,274.1L279.1,273.9L279.2,275.2L279.3,276.3L279.4,275.6L279.5,274.6L279.6,275.1L279.7,274.9L279.8,274.7L279.9,274.4L280.0,276.2L280.1,275.4L280.2,275.0L280.3,274.7L280.4,275.3L280.5,274.9L280.6,274.9L280.7,273.5L280.8,274.0L280.9,274.7L281.0,275.3L281.1,275.6L281.2,274.4L281.3,273.8L281.4,274.7L281.5,273.9L281.6,273.5L281.7,273.4L281.8,272.8L281.9,276.8L282.0,278.8L282.1,282.3L282.2,283.1L282.3,281.9L282.4,280.0L282.5,275.4L282.6,272.9L282.7,273.9L282.8,274.0L282.9,273.3L283.0,273.8L283.1,274.6L283.2,273.8L283.3,273.6L283.4,274.2L283.5,274.6L283.6,274.7L283.7,273.4L283.8,273.9L283.9,275.4L284.0,278.4L284.1,279.0L284.2,280.1L284.3,278.3L284.4,275.0L284.5,274.0L284.6,274.0L284.7,274.9L284.8,275.0L284.9,274.7L285.0,274.3L285.1,274.7L285.2,274.0L285.3,274.9L285.4,274.4L285.5,275.7L285.6,275.7L285.7,275.8L285.8,276.8L285.9,275.4L286.0,275.0L286.1,274.6L286.2,275.0L286.3,274.6L286.4,275.6L286.5,274.8L286.6,274.5L286.7,275.1L286.8,274.0L286.9,274.5L287.0,274.0L287.1,276.8L287.2,278.6L287.3,279.4L287.4,279.2L287.5,279.5L287.6,278.4L287.7,278.2L287.8,278.1L287.9,277.1L288.0,275.1L288.1,275.1L288.2,275.8L288.3,275.8L288.4,275.1L288.5,274.9L288.6,274.2L288.7,274.3L288.8,273.6L288.9,274.0L289.0,273.6L289.1,272.8L289.2,274.8L289.3,274.6L289.4,273.7L289.5,277.2L289.6,280.3L289.7,281.8L289.8,283.0L289.9,278.6L290.0,276.8L290.1,273.7L290.2,273.0L290.3,273.4L290.4,274.7L290.5,273.5L290.6,274.0L290.7,274.0L290.8,273.4L290.9,273.7L291.0,274.7L291.1,273.7L291.2,274.4L291.3,275.0L291.4,273.3L291.5,274.6L291.6,275.1L291.7,273.8L291.8,274.5L291.9,274.0L292.0,275.0L292.1,274.3L292.2,274.0L292.3,273.7L292.4,274.9L292.5,274.2L292.6,275.8L292.7,275.3L292.8,275.2L292.9,275.8L293.0,275.0L293.1,275.3L293.2,275.6L293.3,276.0L293.4,278.6L293.5,279.5L293.6,279.7L293.7,279.4L293.8,278.0L293.9,276.6L294.0,274.9L294.1,275.4L294.2,274.0L294.3,273.5L294.4,274.2L294.5,273.3L294.6,272.7L294.7,273.7L294.8,272.9L294.9,273.7L295.0,272.2L295.1,273.5L295.2,274.1L295.3,273.6L295.4,272.3L295.5,274.3L295.6,273.8L295.7,272.2L295.8,274.0L295.9,273.7L296.0,274.2L296.1,274.1L296.2,274.1L296.3,274.5L296.4,275.0L296.5,275.6L296.6,275.6L296.7,275.1L296.8,275.5L296.9,274.8L297.0,275.3L297.1,273.9L297.2,274.5L297.3,274.3L297.4,276.6L297.5,280.1L297.6,283.5L297.7,282.4L297.8,281.6L297.9,280.1L298.0,277.2L298.1,274.8L298.2,275.7L298.3,275.5L298.4,274.9L298.5,274.7L298.6,274.3L298.7,275.3L298.8,274.3L298.9,273.7L299.0,273.5L299.1,274.3L299.2,275.7L299.3,276.7L299.4,275.0L299.5,275.9L299.6,274.1L299.7,274.0L299.8,274.3L299.9,276.5L300.0,280.9L300.1,283.5L300.2,283.9L300.3,284.0L300.4,281.6L300.5,276.8L300.6,275.5L300.7,273.7L300.8,275.2L300.9,273.3L301.0,274.6L301.1,274.3L301.2,274.1L301.3,274.6L301.4,274.4L301.5,275.5L301.6,275.1L301.7,275.3L301.8,276.1L301.9,278.5L302.0,282.5L302.1,284.7L302.2,285.1L302.3,284.8L302.4,282.3L302.5,277.3L302.6,274.6L302.7,274.5L302.8,274.2L302.9,274.8L303.0,274.0L303.1,274.9L303.2,273.9L303.3,274.1L303.4,273.6L303.5,274.9L303.6,274.7L303.7,274.2L303.8,274.6L303.9,274.4L304.0,273.4L304.1,274.2L304.2,273.3L304.3,274.2L304.4,276.0L304.5,276.7L304.6,276.7L304.7,274.2L304.8,273.9L304.9,273.4L305.0,273.7L305.1,275.0L305.2,275.3L305.3,275.3L305.4,275.4L305.5,275.1L305.6,275.5L305.7,275.0L305.8,276.4L305.9,277.2L306.0,280.4L306.1,281.3L306.2,281.4L306.3,282.8L306.4,280.5L306.5,280.0L306.6,276.0L306.7,274.8L306.8,276.1L306.9,275.4L307.0,275.4L307.1,274.9L307.2,275.6L307.3,274.1L307.4,274.0L307.5,273.4L307.6,274.3L307.7,273.4L307.8,273.9L307.9,273.8L308.0,272.5L308.1,272.6L308.2,273.5L308.3,273.4L308.4,272.3L308.5,273.8L308.6,273.1L308.7,274.1L308.8,273.7L308.9,274.9L309.0,275.2L309.1,274.2L309.2,273.0L309.3,273.2L309.4,273.6L309.5,273.2L309.6,272.2L309.7,273.4L309.8,272.5L309.9,274.5L310.0,273.2L310.1,273.2L310.2,273.9L310.3,274.8L310.4,273.5L310.5,271.5L310.6,272.6L310.7,273.4L310.8,272.8L310.9,272.4L311.0,273.0L311.1,273.0L311.2,273.0L311.3,273.4L311.4,272.9L311.5,272.6L311.6,274.5L311.7,273.8L311.8,273.9L311.9,273.4L312.0,273.6L312.1,276.9L312.2,280.4L312.3,281.9L312.4,281.9L312.5,281.7L312.6,279.4L312.7,275.0L312.8,274.1L312.9,274.5L313.0,275.3L313.1,274.1L313.2,274.9L313.3,274.6L313.4,274.4L313.5,274.2L313.6,274.2L313.7,274.0L313.8,274.6L313.9,273.7L314.0,274.0L314.1,274.1L314.2,276.5L314.3,279.3L314.4,280.1L314.5,281.0L314.6,281.1L314.7,281.7L314.8,278.8L314.9,275.7L315.0,274.2L315.1,273.0L315.2,272.9L315.3,273.4L315.4,272.8L315.5,273.9L315.6,275.1L315.7,277.7L315.8,278.9L315.9,278.1L316.0,277.6L316.1,275.7L316.2,273.7L316.3,274.0L316.4,274.2L316.5,273.0L316.6,273.0L316.7,272.9L316.8,273.4L316.9,273.7L317.0,274.0L317.1,273.3L317.2,273.4L317.3,273.0L317.4,273.8L317.5,274.4L317.6,274.3L317.7,274.0L317.8,273.5L317.9,273.9L318.0,273.8L318.1,274.0L318.2,273.8L318.3,273.8L318.4,273.7L318.5,274.4L318.6,273.0L318.7,274.3L318.8,273.4L318.9,272.7L319.0,273.2L319.1,272.9L319.2,273.9L319.3,273.8L319.4,273.4L319.5,273.8L319.6,273.7L319.7,274.1L319.8,274.8L319.9,273.0L320.0,274.0L320.1,273.1L320.2,271.2L320.3,273.2L320.4,272.8L320.5,273.3L320.6,273.8L320.7,274.7L320.8,274.3L320.9,274.4L321.0,274.7L321.1,274.3L321.2,275.5L321.3,274.7L321.4,274.7L321.5,275.3L321.6,275.2L321.7,274.4L321.8,275.1L321.9,277.0L322.0,280.3L322.1,283.2L322.2,282.6L322.3,282.6L322.4,280.0L322.5,276.4L322.6,275.5L322.7,274.8L322.8,274.6L322.9,274.5L323.0,274.0L323.1,274.4L323.2,272.6L323.3,273.8L323.4,273.6L323.5,273.6L323.6,274.4L323.7,274.2L323.8,272.6L323.9,273.1L324.0,273.6L324.1,273.7L324.2,273.9L324.3,272.9L324.4,272.7L324.5,274.2L324.6,273.4L324.7,274.6L324.8,275.1L324.9,276.8L325.0,280.2L325.1,283.7L325.2,283.4L325.3,284.2L325.4,283.7L325.5,280.1L325.6,277.1L325.7,274.8L325.8,273.4L325.9,273.7L326.0,273.8L326.1,274.5L326.2,273.7L326.3,273.7L326.4,272.9L326.5,273.6L326.6,273.0L326.7,273.1L326.8,273.8L326.9,274.9L327.0,274.4L327.1,275.1L327.2,275.2L327.3,275.6L327.4,275.4L327.5,276.0L327.6,276.2L327.7,276.2L327.8,277.1L327.9,277.7L328.0,280.9L328.1,282.5L328.2,283.1L328.3,281.5L328.4,280.0L328.5,278.5L328.6,275.6L328.7,274.4L328.8,275.8L328.9,275.7L329.0,274.1L329.1,275.4L329.2,273.6L329.3,274.2L329.4,274.7L329.5,273.7L329.6,274.9L329.7,274.1L329.8,273.5L329.9,273.7L330.0,273.0L330.1,274.4L330.2,273.7L330.3,273.7L330.4,274.3L330.5,274.1L330.6,275.2L330.7,274.7L330.8,275.2L330.9,275.4L331.0,273.7L331.1,275.5L331.2,273.8L331.3,273.6L331.4,274.0L331.5,273.7L331.6,274.3L331.7,274.1L331.8,273.8L331.9,274.1L332.0,275.2L332.1,274.6L332.2,274.7L332.3,273.9L332.4,274.7L332.5,274.4L332.6,274.3L332.7,274.9L332.8,275.2L332.9,273.7L333.0,274.0L333.1,274.2L333.2,275.3L333.3,274.7L333.4,274.2L333.5,274.0L333.6,274.2L333.7,272.5L333.8,272.3L333.9,271.9L334.0,273.1L334.1,273.1L334.2,274.9L334.3,274.2L334.4,274.9L334.5,273.4L334.6,274.0L334.7,274.2L334.8,274.6L334.9,274.2L335.0,273.6L335.1,273.3L335.2,274.3L335.3,275.4L335.4,275.2L335.5,276.0L335.6,275.6L335.7,277.3L335.8,277.5L335.9,278.1L336.0,278.6L336.1,278.5L336.2,277.5L336.3,276.2L336.4,275.5L336.5,275.1L336.6,275.1L336.7,275.9L336.8,278.7L336.9,280.1L337.0,280.1L337.1,279.2L337.2,279.2L337.3,275.4L337.4,273.5L337.5,273.6L337.6,273.4L337.7,273.7L337.8,274.1L337.9,273.8L338.0,274.0L338.1,274.0L338.2,273.9L338.3,273.5L338.4,274.4L338.5,276.1L338.6,277.0L338.7,279.7L338.8,281.3L338.9,279.3L339.0,279.6L339.1,275.7L339.2,273.9L339.3,273.0L339.4,273.5L339.5,273.9L339.6,273.7L339.7,273.7L339.8,273.5L339.9,273.6L340.0,275.1L340.1,272.9L340.2,273.3L340.3,273.8L340.4,274.4L340.5,274.3L340.6,275.3L340.7,273.9L340.8,273.3L340.9,274.2L341.0,273.9L341.1,273.1L341.2,273.4L341.3,274.3L341.4,274.6L341.5,275.0L341.6,273.6L341.7,273.5L341.8,273.6L341.9,273.2L342.0,274.0L342.1,272.9L342.2,271.8L342.3,272.9L342.4,272.7L342.5,273.5L342.6,272.5L342.7,274.0L342.8,274.8L342.9,278.9L343.0,286.8L343.1,290.8L343.2,292.1L343.3,290.1L343.4,286.0L343.5,278.3L343.6,274.7L343.7,274.7L343.8,273.1L343.9,273.8L344.0,273.7L344.1,272.7L344.2,274.1L344.3,274.3L344.4,274.8L344.5,273.9L344.6,275.6L344.7,275.0L344.8,275.8L344.9,274.7L345.0,274.8L345.1,275.1L345.2,275.0L345.3,274.9L345.4,275.4L345.5,275.5L345.6,276.6L345.7,275.6L345.8,276.2L345.9,277.8L346.0,281.4L346.1,283.6L346.2,283.0L346.3,283.8L346.4,281.9L346.5,277.2L346.6,274.5L346.7,274.7L346.8,274.2L346.9,273.4L347.0,273.8L347.1,274.1L347.2,274.4L347.3,275.8L347.4,274.0L347.5,275.6L347.6,274.9L347.7,274.1L347.8,274.6L347.9,274.2L348.0,273.6L348.1,273.7L348.2,274.2L348.3,273.4L348.4,274.5L348.5,274.1L348.6,273.5L348.7,273.2L348.8,273.9L348.9,273.5L349.0,273.6L349.1,272.7L349.2,272.1L349.3,273.7L349.4,272.9L349.5,272.7L349.6,273.1L349.7,272.9L349.8,273.1L349.9,273.0L350.0,272.8L350.1,273.9L350.2,274.0L350.3,273.6L350.4,273.5L350.5,273.9L350.6,273.5L350.7,272.8L350.8,273.9L350.9,273.8L351.0,275.2L351.1,278.5L351.2,280.8L351.3,281.7L351.4,282.5L351.5,282.2L351.6,281.3L351.7,280.0L351.8,278.1L351.9,278.3L352.0,280.6L352.1,282.0L352.2,283.7L352.3,283.1L352.4,280.2L352.5,277.3L352.6,276.7L352.7,276.5L352.8,280.7L352.9,280.9L353.0,282.7L353.1,281.7L353.2,282.6L353.3,280.4L353.4,276.8L353.5,274.1L353.6,274.6L353.7,276.2L353.8,275.1L353.9,275.9L354.0,276.4L354.1,275.3L354.2,274.6L354.3,274.8L354.4,275.1L354.5,274.7L354.6,274.2L354.7,275.0L354.8,274.7L354.9,275.3L355.0,274.3L355.1,273.7L355.2,273.9L355.3,273.8L355.4,274.1L355.5,274.5L355.6,275.0L355.7,273.9L355.8,273.8L355.9,273.3L356.0,273.8L356.1,275.0L356.2,277.1L356.3,279.8L356.4,281.7L356.5,280.5L356.6,276.1L356.7,273.9L356.8,274.0L356.9,273.3L357.0,273.8L357.1,273.2L357.2,273.3L357.3,273.4L357.4,274.1L357.5,273.4L357.6,273.6L357.7,273.4L357.8,273.6L357.9,273.4L358.0,273.8L358.1,274.4L358.2,275.0L358.3,274.3L358.4,273.9L358.5,273.4L358.6,273.9L358.7,274.1L358.8,273.9L358.9,274.0L359.0,275.1L359.1,274.3L359.2,274.6L359.3,274.9L359.4,274.5L359.5,275.1L359.6,275.6L359.7,274.7L359.8,274.2L359.9,275.2" fill="none" stroke="#1a1a1a" stroke-width="0.70" stroke-linejoin="round"/>
<rect x="363.4" y="273.2" width="2.3" height="33.9" fill="#1a1a1a"/>
<rect x="331" y="309.2" width="29.4" height="2.4" fill="#1a1a1a"/>
<text transform="translate(371.10,293.60) scale(1.000,1.000)" font-size="15.5" text-anchor="start" fill="#1a1a1a">5 pA</text>
<text transform="translate(325.10,327.30) scale(1.000,1.000)" font-size="15.5" text-anchor="start" fill="#1a1a1a">50 ms</text>
<text transform="translate(413.0,19.8) scale(1.03,1)" font-size="24.2" fill="#1a1a1a">B</text>
<line x1="486" y1="53.3" x2="486" y2="262" stroke="#3c3c3c" stroke-width="1.35"/>
<line x1="481.3" y1="262" x2="771.0" y2="262" stroke="#3c3c3c" stroke-width="1.35"/>
<line x1="481.3" y1="262.00" x2="486" y2="262.00" stroke="#3c3c3c" stroke-width="1.1"/>
<line x1="483.5" y1="241.15" x2="486" y2="241.15" stroke="#3c3c3c" stroke-width="1.1"/>
<line x1="481.3" y1="220.30" x2="486" y2="220.30" stroke="#3c3c3c" stroke-width="1.1"/>
<line x1="483.5" y1="199.45" x2="486" y2="199.45" stroke="#3c3c3c" stroke-width="1.1"/>
<line x1="481.3" y1="178.60" x2="486" y2="178.60" stroke="#3c3c3c" stroke-width="1.1"/>
<line x1="483.5" y1="157.75" x2="486" y2="157.75" stroke="#3c3c3c" stroke-width="1.1"/>
<line x1="481.3" y1="136.90" x2="486" y2="136.90" stroke="#3c3c3c" stroke-width="1.1"/>
<line x1="483.5" y1="116.05" x2="486" y2="116.05" stroke="#3c3c3c" stroke-width="1.1"/>
<line x1="481.3" y1="95.20" x2="486" y2="95.20" stroke="#3c3c3c" stroke-width="1.1"/>
<line x1="483.5" y1="74.35" x2="486" y2="74.35" stroke="#3c3c3c" stroke-width="1.1"/>
<line x1="481.3" y1="53.50" x2="486" y2="53.50" stroke="#3c3c3c" stroke-width="1.1"/>
<line x1="485.88" y1="262" x2="485.88" y2="266.2" stroke="#3c3c3c" stroke-width="1.1"/>
<line x1="514.36" y1="262" x2="514.36" y2="264.6" stroke="#3c3c3c" stroke-width="1.1"/>
<line x1="542.84" y1="262" x2="542.84" y2="266.2" stroke="#3c3c3c" stroke-width="1.1"/>
<line x1="571.32" y1="262" x2="571.32" y2="264.6" stroke="#3c3c3c" stroke-width="1.1"/>
<line x1="599.80" y1="262" x2="599.80" y2="266.2" stroke="#3c3c3c" stroke-width="1.1"/>
<line x1="628.28" y1="262" x2="628.28" y2="264.6" stroke="#3c3c3c" stroke-width="1.1"/>
<line x1="656.76" y1="262" x2="656.76" y2="266.2" stroke="#3c3c3c" stroke-width="1.1"/>
<line x1="685.24" y1="262" x2="685.24" y2="264.6" stroke="#3c3c3c" stroke-width="1.1"/>
<line x1="713.72" y1="262" x2="713.72" y2="266.2" stroke="#3c3c3c" stroke-width="1.1"/>
<line x1="742.20" y1="262" x2="742.20" y2="264.6" stroke="#3c3c3c" stroke-width="1.1"/>
<line x1="770.68" y1="262" x2="770.68" y2="266.2" stroke="#3c3c3c" stroke-width="1.1"/>
<text transform="translate(466.58,266.60) scale(1.000,1.000)" font-size="15.5" text-anchor="start" fill="#1a1a1a">0</text>
<text transform="translate(453.65,224.90) scale(1.000,1.000)" font-size="15.5" text-anchor="start" fill="#1a1a1a">0.2</text>
<text transform="translate(453.65,183.20) scale(1.000,1.000)" font-size="15.5" text-anchor="start" fill="#1a1a1a">0.4</text>
<text transform="translate(453.65,141.50) scale(1.000,1.000)" font-size="15.5" text-anchor="start" fill="#1a1a1a">0.6</text>
<text transform="translate(453.65,99.80) scale(1.000,1.000)" font-size="15.5" text-anchor="start" fill="#1a1a1a">0.8</text>
<path transform="translate(453.65,58.10) scale(0.00757,-0.00757)" d="M763 0L583 0L583 1147C540 1106 483 1065 413 1024C343 983 280 952 224 931L224 1105C325 1152 413 1210 488 1278C563 1346 616 1412 647 1476L763 1476Z" fill="#1a1a1a"/>
<text transform="translate(462.27,58.10) scale(1.000,1.000)" font-size="15.5" text-anchor="start" fill="#1a1a1a">.0</text>
<path transform="translate(471.55,282.30) scale(0.00757,-0.00757)" d="M763 0L583 0L583 1147C540 1106 483 1065 413 1024C343 983 280 952 224 931L224 1105C325 1152 413 1210 488 1278C563 1346 616 1412 647 1476L763 1476Z" fill="#1a1a1a"/>
<text transform="translate(480.17,282.30) scale(1.000,1.000)" font-size="15.5" text-anchor="start" fill="#1a1a1a">00</text>
<text transform="translate(471.15,282.30) scale(1.000,1.000)" font-size="15.5" text-anchor="end" fill="#1a1a1a">-</text>
<text transform="translate(534.62,282.30) scale(1.000,1.000)" font-size="15.5" text-anchor="start" fill="#1a1a1a">50</text>
<text transform="translate(534.22,282.30) scale(1.000,1.000)" font-size="15.5" text-anchor="end" fill="#1a1a1a">-</text>
<text transform="translate(595.89,282.30) scale(1.000,1.000)" font-size="15.5" text-anchor="start" fill="#1a1a1a">0</text>
<text transform="translate(648.54,282.30) scale(1.000,1.000)" font-size="15.5" text-anchor="start" fill="#1a1a1a">50</text>
<path transform="translate(701.19,282.30) scale(0.00757,-0.00757)" d="M763 0L583 0L583 1147C540 1106 483 1065 413 1024C343 983 280 952 224 931L224 1105C325 1152 413 1210 488 1278C563 1346 616 1412 647 1476L763 1476Z" fill="#1a1a1a"/>
<text transform="translate(709.81,282.30) scale(1.000,1.000)" font-size="15.5" text-anchor="start" fill="#1a1a1a">00</text>
<path transform="translate(758.15,282.30) scale(0.00757,-0.00757)" d="M763 0L583 0L583 1147C540 1106 483 1065 413 1024C343 983 280 952 224 931L224 1105C325 1152 413 1210 488 1278C563 1346 616 1412 647 1476L763 1476Z" fill="#1a1a1a"/>
<text transform="translate(766.77,282.30) scale(1.000,1.000)" font-size="15.5" text-anchor="start" fill="#1a1a1a">50</text>
<text transform="translate(595.40,301.20) scale(1.000,1.000)" font-size="15.5" text-anchor="start" fill="#1a1a1a">-Vp (mV)</text>
<text transform="translate(447,158) rotate(-90) scale(1,1.000)" x="0" y="0" font-size="15.5" text-anchor="middle" fill="#1a1a1a">Po</text>
<line x1="491.6" y1="157.75" x2="639" y2="157.75" stroke="#333" stroke-width="1" stroke-dasharray="1.7,1.7"/>
<line x1="639" y1="158.75" x2="639" y2="262" stroke="#333" stroke-width="1" stroke-dasharray="1.7,1.7"/>
<path d="M508.66,254.27 L509.81,254.05 L510.95,253.83 L512.10,253.60 L513.24,253.37 L514.39,253.13 L515.53,252.88 L516.68,252.63 L517.82,252.37 L518.97,252.10 L520.11,251.83 L521.26,251.54 L522.40,251.25 L523.55,250.96 L524.69,250.65 L525.84,250.34 L526.98,250.02 L528.13,249.69 L529.27,249.36 L530.42,249.01 L531.56,248.66 L532.71,248.29 L533.85,247.92 L535.00,247.54 L536.14,247.15 L537.29,246.75 L538.43,246.34 L539.58,245.92 L540.72,245.48 L541.87,245.04 L543.01,244.59 L544.16,244.13 L545.30,243.65 L546.45,243.17 L547.59,242.67 L548.74,242.16 L549.88,241.64 L551.03,241.10 L552.17,240.56 L553.32,240.00 L554.46,239.43 L555.61,238.84 L556.75,238.24 L557.90,237.63 L559.04,237.01 L560.19,236.37 L561.33,235.72 L562.48,235.05 L563.62,234.37 L564.77,233.67 L565.91,232.96 L567.06,232.24 L568.20,231.50 L569.35,230.74 L570.49,229.97 L571.63,229.19 L572.78,228.38 L573.92,227.57 L575.07,226.73 L576.21,225.88 L577.36,225.02 L578.50,224.14 L579.65,223.24 L580.79,222.32 L581.94,221.39 L583.08,220.45 L584.23,219.48 L585.37,218.50 L586.52,217.51 L587.66,216.49 L588.81,215.46 L589.95,214.42 L591.10,213.35 L592.24,212.27 L593.39,211.18 L594.53,210.07 L595.68,208.94 L596.82,207.79 L597.97,206.64 L599.11,205.46 L600.26,204.27 L601.40,203.06 L602.55,201.84 L603.69,200.60 L604.84,199.35 L605.98,198.09 L607.13,196.81 L608.27,195.51 L609.42,194.21 L610.56,192.89 L611.71,191.55 L612.85,190.21 L614.00,188.85 L615.14,187.48 L616.29,186.10 L617.43,184.71 L618.58,183.31 L619.72,181.90 L620.87,180.47 L622.01,179.04 L623.16,177.61 L624.30,176.16 L625.45,174.71 L626.59,173.25 L627.74,171.78 L628.88,170.31 L630.03,168.83 L631.17,167.35 L632.32,165.86 L633.46,164.37 L634.61,162.88 L635.75,161.39 L636.90,159.89 L638.04,158.39 L639.19,156.90 L640.33,155.40 L641.48,153.91 L642.62,152.41 L643.77,150.92 L644.91,149.43 L646.05,147.95 L647.20,146.46 L648.34,144.99 L649.49,143.52 L650.63,142.05 L651.78,140.59 L652.92,139.14 L654.07,137.69 L655.21,136.25 L656.36,134.83 L657.50,133.41 L658.65,132.00 L659.79,130.60 L660.94,129.21 L662.08,127.83 L663.23,126.46 L664.37,125.10 L665.52,123.76 L666.66,122.43 L667.81,121.11 L668.95,119.80 L670.10,118.51 L671.24,117.23 L672.39,115.97 L673.53,114.72 L674.68,113.49 L675.82,112.27 L676.97,111.06 L678.11,109.87 L679.26,108.70 L680.40,107.54 L681.55,106.40 L682.69,105.28 L683.84,104.17 L684.98,103.07 L686.13,102.00 L687.27,100.94 L688.42,99.89 L689.56,98.87 L690.71,97.85 L691.85,96.86 L693.00,95.88 L694.14,94.92 L695.29,93.98 L696.43,93.05 L697.58,92.14 L698.72,91.24 L699.87,90.36 L701.01,89.50 L702.16,88.65 L703.30,87.82 L704.45,87.00 L705.59,86.20 L706.74,85.42 L707.88,84.65 L709.03,83.90 L710.17,83.16 L711.32,82.44 L712.46,81.73 L713.61,81.04 L714.75,80.36 L715.90,79.69 L717.04,79.04 L718.19,78.40 L719.33,77.78 L720.48,77.17 L721.62,76.58 L722.76,75.99 L723.91,75.42 L725.05,74.87 L726.20,74.32 L727.34,73.79 L728.49,73.27 L729.63,72.76 L730.78,72.27 L731.92,71.78 L733.07,71.31 L734.21,70.85 L735.36,70.39 L736.50,69.95" fill="none" stroke="#111" stroke-width="1.1"/>
<line x1="508.66" y1="252.20" x2="508.66" y2="256.37" stroke="#111" stroke-width="1"/>
<line x1="506.06" y1="252.20" x2="511.26" y2="252.20" stroke="#111" stroke-width="1"/>
<line x1="506.06" y1="256.37" x2="511.26" y2="256.37" stroke="#111" stroke-width="1"/>
<circle cx="508.66" cy="254.29" r="4.2" fill="#000"/>
<line x1="531.45" y1="245.53" x2="531.45" y2="255.95" stroke="#111" stroke-width="1"/>
<line x1="528.85" y1="245.53" x2="534.05" y2="245.53" stroke="#111" stroke-width="1"/>
<line x1="528.85" y1="255.95" x2="534.05" y2="255.95" stroke="#111" stroke-width="1"/>
<circle cx="531.45" cy="250.74" r="4.2" fill="#000"/>
<line x1="554.23" y1="239.27" x2="554.23" y2="250.12" stroke="#111" stroke-width="1"/>
<line x1="551.63" y1="239.27" x2="556.83" y2="239.27" stroke="#111" stroke-width="1"/>
<line x1="551.63" y1="250.12" x2="556.83" y2="250.12" stroke="#111" stroke-width="1"/>
<circle cx="554.23" cy="244.69" r="4.2" fill="#000"/>
<line x1="645.37" y1="142.32" x2="645.37" y2="160.25" stroke="#111" stroke-width="1"/>
<line x1="642.77" y1="142.32" x2="647.97" y2="142.32" stroke="#111" stroke-width="1"/>
<line x1="642.77" y1="160.25" x2="647.97" y2="160.25" stroke="#111" stroke-width="1"/>
<circle cx="645.37" cy="151.29" r="4.2" fill="#000"/>
<line x1="668.15" y1="97.91" x2="668.15" y2="115.42" stroke="#111" stroke-width="1"/>
<line x1="665.55" y1="97.91" x2="670.75" y2="97.91" stroke="#111" stroke-width="1"/>
<line x1="665.55" y1="115.42" x2="670.75" y2="115.42" stroke="#111" stroke-width="1"/>
<circle cx="668.15" cy="106.67" r="4.2" fill="#000"/>
<line x1="690.94" y1="82.27" x2="690.94" y2="99.79" stroke="#111" stroke-width="1"/>
<line x1="688.34" y1="82.27" x2="693.54" y2="82.27" stroke="#111" stroke-width="1"/>
<line x1="688.34" y1="99.79" x2="693.54" y2="99.79" stroke="#111" stroke-width="1"/>
<circle cx="690.94" cy="91.03" r="4.2" fill="#000"/>
<line x1="713.72" y1="76.64" x2="713.72" y2="89.15" stroke="#111" stroke-width="1"/>
<line x1="711.12" y1="76.64" x2="716.32" y2="76.64" stroke="#111" stroke-width="1"/>
<line x1="711.12" y1="89.15" x2="716.32" y2="89.15" stroke="#111" stroke-width="1"/>
<circle cx="713.72" cy="82.90" r="4.2" fill="#000"/>
<line x1="736.50" y1="74.98" x2="736.50" y2="79.15" stroke="#111" stroke-width="1"/>
<line x1="733.90" y1="74.98" x2="739.10" y2="74.98" stroke="#111" stroke-width="1"/>
<line x1="733.90" y1="79.15" x2="739.10" y2="79.15" stroke="#111" stroke-width="1"/>
<circle cx="736.50" cy="77.06" r="4.2" fill="#000"/>
</svg></body></html>
